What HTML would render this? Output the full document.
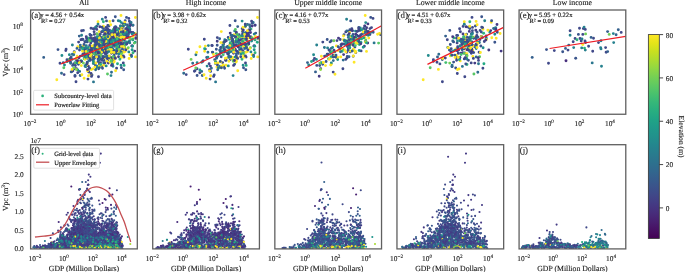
<!DOCTYPE html>
<html lang="en"><head><meta charset="utf-8"><title>Vpc vs GDP</title>
<style>html,body{margin:0;padding:0;background:#fff}svg{display:block}text{stroke:#222;stroke-width:.12px;stroke-linejoin:round}.s{stroke-width:.18px}.b{stroke-width:.08px}</style></head>
<body>
<svg width="685" height="272" viewBox="0 0 685 272" font-family='"Liberation Serif", "DejaVu Serif", serif' fill="#1a1a1a" text-rendering="geometricPrecision">
<rect width="685" height="272" fill="#fff"/>
<defs><filter id="bl" x="-5%" y="-5%" width="110%" height="110%"><feGaussianBlur stdDeviation="0.3"/></filter><filter id="bt" x="-5%" y="-5%" width="110%" height="110%"><feGaussianBlur stdDeviation="0.2"/></filter></defs>
<clipPath id="ct0"><rect x="30.60" y="10.00" width="106.70" height="104.25"/></clipPath>
<g clip-path="url(#ct0)">
<g fill="none" stroke-linecap="round" stroke-width="2.90" filter="url(#bt)"><path d="M124.1 47.8h0M80.1 47.5h0M119.2 45.2h0M100.1 40.8h0" stroke="#2a768e"/><path d="M69.4 54.8h0M75.0 62.8h0M100.5 44.4h0M129.5 41.0h0M116.7 47.7h0M104.0 45.0h0M116.0 27.9h0" stroke="#228b8d"/><path d="M114.9 32.0h0M108.2 59.6h0M91.4 57.1h0M104.3 42.2h0M104.0 60.3h0M92.0 74.9h0M91.3 35.4h0M104.2 48.5h0M101.9 48.5h0M126.6 35.1h0M88.5 71.4h0M102.2 41.6h0M73.6 63.9h0M100.3 59.0h0M113.1 20.7h0M78.4 64.3h0M103.5 28.5h0M108.9 56.3h0M128.2 37.8h0M120.1 28.8h0M94.2 49.2h0M128.4 42.3h0M125.2 20.8h0M87.3 41.9h0M103.9 50.2h0" stroke="#3a548c"/><path d="M129.5 29.3h0M99.3 54.6h0M123.7 23.9h0M124.4 30.6h0M130.0 26.1h0M123.5 43.0h0M124.0 35.9h0M121.2 30.1h0M134.7 51.1h0M111.4 38.1h0M115.1 36.5h0M118.6 44.5h0M124.1 31.6h0M115.2 51.5h0" stroke="#443b84"/><path d="M120.2 32.5h0M114.9 41.9h0M114.3 53.8h0M103.2 46.6h0M43.7 57.4h0" stroke="#34608d"/><path d="M93.4 59.6h0M112.9 57.1h0M120.8 29.8h0M115.0 50.5h0M96.8 44.6h0" stroke="#1f958b"/><path d="M104.2 42.9h0M115.1 37.2h0M84.0 55.9h0M110.6 57.5h0M92.0 57.3h0M133.3 36.5h0M93.8 50.6h0M118.6 53.6h0M122.4 34.4h0M98.7 41.0h0M123.8 52.3h0M110.4 42.3h0M99.2 31.6h0M100.6 53.8h0M108.1 44.6h0M92.3 38.3h0M105.3 46.9h0M81.3 65.6h0M99.1 39.8h0M99.3 36.0h0M121.7 41.9h0M121.0 40.9h0M92.7 68.9h0M97.3 48.5h0M89.4 48.9h0M97.6 50.0h0M91.2 69.5h0M111.4 51.4h0M111.2 43.1h0M121.0 15.5h0M136.7 38.4h0M116.7 29.2h0M124.8 22.2h0" stroke="#fde725"/><path d="M123.2 24.3h0M98.8 57.7h0M117.9 48.7h0M89.9 56.2h0M89.7 45.4h0M96.3 52.7h0M102.8 37.7h0M84.7 49.9h0M91.9 53.2h0M107.8 25.5h0M98.0 58.9h0M113.0 40.7h0M112.7 52.2h0M80.9 39.8h0M119.7 38.2h0M117.3 40.3h0M95.4 65.1h0M123.6 44.2h0M89.8 50.3h0M94.8 28.6h0M103.4 60.3h0M96.7 26.4h0M102.8 46.1h0M105.0 33.7h0M109.8 37.3h0M98.1 48.8h0M90.2 45.6h0M109.7 44.7h0M96.8 48.5h0" stroke="#3f4889"/><path d="M113.6 43.4h0M85.1 55.3h0M111.9 36.7h0M128.9 29.1h0M103.7 41.2h0M117.3 33.2h0" stroke="#2fb47c"/><path d="M79.6 62.2h0M132.8 39.9h0M106.3 42.5h0M93.2 47.9h0M85.0 66.1h0M93.8 40.7h0M117.5 49.8h0M93.5 39.0h0" stroke="#26818e"/><path d="M95.6 69.7h0M85.8 52.3h0M106.7 57.2h0M86.9 48.4h0M95.4 56.2h0M127.3 28.5h0" stroke="#2f6c8e"/><path d="M97.1 37.2h0M79.4 62.6h0M94.8 54.5h0M132.7 39.2h0M119.8 36.8h0" stroke="#42be71"/><path d="M103.0 40.7h0M105.2 42.3h0" stroke="#70cf57"/><path d="M115.1 44.6h0M120.6 41.4h0M126.4 36.1h0M93.2 59.5h0M122.5 45.9h0M117.2 38.7h0M107.8 49.7h0" stroke="#24aa83"/><path d="M105.1 43.3h0M84.9 48.7h0M105.6 42.0h0M119.7 44.4h0M120.5 31.7h0M106.4 40.3h0M114.5 27.5h0M83.1 50.1h0M105.6 29.7h0M126.8 30.0h0M124.3 47.8h0M93.5 57.5h0M81.8 61.5h0M87.1 40.8h0M85.4 50.6h0M101.9 49.6h0M130.0 23.4h0M115.3 27.3h0M104.4 47.1h0M72.6 65.4h0M103.8 35.1h0M108.9 34.5h0M120.3 38.0h0M87.2 58.2h0M109.7 46.7h0M112.5 64.2h0M117.6 34.2h0M94.0 46.7h0" stroke="#3a548c"/><path d="M102.5 52.0h0M109.3 39.0h0M111.4 53.3h0M84.6 57.5h0M107.6 38.9h0M127.3 27.6h0M135.8 38.4h0M104.7 31.1h0M70.6 62.3h0M69.3 60.5h0M111.6 52.5h0M72.2 71.3h0M91.3 46.7h0M97.1 45.0h0M91.5 38.5h0M123.3 63.0h0M101.8 46.7h0M67.0 61.3h0M97.1 42.6h0M119.4 28.4h0M124.0 57.1h0M98.6 68.8h0M132.1 45.8h0M93.9 45.7h0M92.7 41.0h0M85.9 55.1h0M110.1 39.7h0M131.7 46.1h0" stroke="#3f4889"/><path d="M105.4 34.3h0M120.3 35.9h0M104.2 36.8h0M61.9 55.5h0M87.1 63.0h0M121.4 22.6h0" stroke="#228b8d"/><path d="M112.4 60.5h0M112.0 57.8h0M108.1 33.1h0M116.0 30.3h0M116.5 43.8h0M86.3 36.8h0M94.5 53.3h0" stroke="#443b84"/><path d="M111.7 42.6h0M106.8 61.3h0M110.2 50.6h0M118.9 32.1h0M97.7 45.2h0M114.2 61.1h0M77.1 56.2h0M107.7 45.6h0M115.6 57.7h0M86.4 57.7h0M83.3 46.1h0M125.2 30.7h0M103.1 47.1h0M109.0 49.2h0M90.2 55.3h0M133.4 34.2h0M94.3 44.6h0M120.8 52.7h0M119.6 37.6h0M81.9 47.8h0M103.6 44.1h0M121.4 55.5h0M78.7 62.4h0M120.5 41.9h0M120.1 39.4h0M99.4 34.6h0" stroke="#fde725"/><path d="M99.0 43.0h0M79.6 71.4h0M106.7 38.6h0M89.3 68.3h0M109.8 57.0h0M80.3 45.1h0M127.9 26.8h0M81.5 47.4h0M125.4 24.5h0" stroke="#2f6c8e"/><path d="M118.3 20.8h0M103.4 51.6h0M81.6 35.2h0M102.3 19.2h0M112.5 40.7h0M130.1 39.0h0M98.4 40.0h0" stroke="#26818e"/><path d="M100.1 55.5h0M106.6 51.6h0M112.1 63.7h0M104.1 37.4h0M96.0 66.4h0M126.7 44.0h0M123.2 46.8h0M109.1 41.0h0" stroke="#2a768e"/><path d="M119.2 51.6h0M115.5 26.6h0M124.1 34.6h0M107.9 51.0h0M127.5 24.9h0M129.8 29.8h0M112.2 36.1h0M116.5 52.8h0M89.0 50.1h0M90.6 52.5h0M108.3 45.1h0" stroke="#34608d"/><path d="M114.4 38.9h0M99.8 46.0h0M115.2 34.8h0M94.3 53.6h0" stroke="#42be71"/><path d="M84.2 58.8h0M99.2 44.8h0M117.1 36.7h0M106.2 36.9h0" stroke="#58c765"/><path d="M122.2 42.7h0M125.5 43.7h0M135.2 42.2h0M107.4 47.1h0M124.1 65.4h0M67.3 61.5h0" stroke="#24aa83"/><path d="M87.0 50.9h0M88.3 47.5h0M132.6 46.2h0M100.3 58.4h0M77.8 70.0h0M72.1 59.4h0" stroke="#1f958b"/><path d="M119.6 37.7h0M126.7 41.9h0" stroke="#1fa088"/><path d="M68.9 59.4h0M102.9 48.3h0" stroke="#70cf57"/><path d="M97.4 67.9h0" stroke="#8bd646"/><path d="M101.1 51.1h0M110.5 46.0h0M105.2 47.5h0M119.0 47.2h0" stroke="#1f958b"/><path d="M101.6 31.9h0M123.8 32.8h0M107.3 30.3h0M103.7 40.8h0M114.1 36.1h0M94.3 38.1h0M125.9 33.3h0M100.8 49.8h0M126.5 43.4h0M88.3 66.1h0M122.5 50.0h0M114.3 33.5h0M102.6 52.2h0M108.4 63.1h0M84.6 51.8h0M75.0 76.3h0M122.4 27.8h0M83.2 49.1h0M124.4 40.0h0M108.2 46.6h0M109.5 30.3h0M103.0 31.4h0" stroke="#443b84"/><path d="M122.3 56.9h0M104.6 49.7h0M89.7 51.9h0M111.2 52.4h0M129.9 54.7h0M56.8 79.7h0M92.6 58.3h0M108.7 50.1h0M129.1 58.5h0M110.8 47.5h0M125.7 38.3h0M99.0 53.6h0M133.8 33.5h0M125.2 51.6h0M109.2 58.4h0M98.7 61.9h0M98.0 21.8h0M77.8 46.7h0M135.5 56.9h0M87.1 64.2h0M114.0 59.0h0M95.8 63.0h0M85.1 59.3h0M93.3 61.4h0M105.8 51.0h0" stroke="#fde725"/><path d="M102.7 31.0h0M114.2 38.9h0M121.6 43.2h0M118.7 49.0h0M70.6 63.3h0M108.9 35.3h0" stroke="#2f6c8e"/><path d="M99.0 47.2h0M112.1 60.4h0M90.7 42.9h0M74.8 68.8h0M95.8 44.6h0M112.5 35.2h0M113.7 30.4h0M88.9 72.1h0M105.1 38.2h0M128.8 18.4h0M117.1 47.6h0M123.4 56.0h0M116.3 27.6h0M108.4 38.5h0M101.2 43.6h0M107.3 38.3h0M84.8 41.8h0M120.7 50.8h0M113.5 50.4h0M113.0 49.2h0M108.1 43.9h0M110.4 35.4h0M102.9 50.1h0M112.7 31.5h0M117.6 52.2h0M114.2 32.2h0" stroke="#3f4889"/><path d="M105.6 47.7h0M118.7 36.1h0M121.0 65.2h0M64.5 65.0h0M107.6 36.2h0M122.4 39.2h0M96.6 47.4h0" stroke="#228b8d"/><path d="M75.9 59.6h0M98.4 50.3h0M71.2 57.0h0M79.3 36.1h0M111.6 37.2h0M97.5 38.8h0M102.4 41.2h0M80.2 75.5h0M102.6 37.4h0M97.5 50.3h0" stroke="#34608d"/><path d="M98.8 43.9h0M102.1 48.8h0M98.1 61.4h0M109.0 26.0h0M101.0 40.1h0M110.2 47.1h0M117.0 34.7h0M97.2 54.4h0M96.6 48.0h0M99.4 64.0h0M113.7 36.8h0M116.5 53.2h0M101.6 66.3h0M106.8 37.6h0M83.4 30.4h0M104.1 42.2h0M75.0 75.5h0M107.4 45.8h0M121.4 67.8h0M115.3 16.8h0M106.0 53.9h0" stroke="#3a548c"/><path d="M134.3 43.1h0M63.8 67.7h0M119.1 45.4h0M123.8 25.3h0" stroke="#58c765"/><path d="M86.3 52.6h0M126.3 37.1h0M106.1 33.2h0M113.1 42.5h0M106.4 52.8h0M106.6 53.3h0M93.5 81.9h0M113.9 42.2h0M114.9 40.8h0" stroke="#2a768e"/><path d="M101.1 54.8h0M107.1 41.2h0" stroke="#42be71"/><path d="M96.8 50.1h0M105.3 36.3h0M95.6 27.3h0M109.9 42.6h0M86.3 45.6h0M107.9 38.5h0M112.5 48.9h0M85.3 47.6h0" stroke="#26818e"/><path d="M75.6 63.1h0M111.8 39.1h0M83.4 63.1h0M121.5 39.9h0" stroke="#70cf57"/><path d="M133.0 52.7h0M103.5 50.3h0M124.0 35.4h0M96.0 48.1h0M120.8 52.9h0M104.0 40.3h0" stroke="#2fb47c"/><path d="M101.3 46.3h0" stroke="#24aa83"/><path d="M82.3 55.7h0M81.1 60.6h0M125.0 32.3h0M85.8 57.3h0M93.6 46.2h0" stroke="#228b8d"/><path d="M73.7 67.9h0M100.7 55.8h0M111.3 60.2h0M124.4 47.2h0" stroke="#70cf57"/><path d="M85.9 66.6h0M77.0 48.4h0M88.5 55.3h0M71.2 71.9h0M107.7 45.8h0M63.3 62.6h0M105.5 45.1h0M91.8 55.3h0M95.8 49.7h0M109.7 38.7h0M105.2 52.5h0M119.1 31.6h0" stroke="#34608d"/><path d="M90.8 74.2h0M82.5 51.2h0M116.8 37.3h0M114.0 52.5h0M122.2 51.4h0M106.4 56.4h0M110.0 50.2h0M102.9 44.1h0M103.4 26.3h0M111.6 52.1h0M98.2 53.1h0M121.4 57.2h0M114.0 62.1h0M105.4 57.6h0M103.3 58.3h0M81.9 74.7h0M118.3 51.9h0M91.3 54.5h0M93.8 60.9h0M104.4 47.8h0M100.3 49.9h0M107.8 46.3h0M111.6 49.3h0M87.5 70.9h0M88.7 57.4h0M106.3 50.1h0M93.4 57.4h0M112.9 43.4h0M127.5 48.6h0M135.3 33.4h0M93.3 63.1h0M129.8 38.3h0M100.2 50.0h0" stroke="#fde725"/><path d="M119.9 59.3h0M110.8 49.5h0M123.3 39.6h0M93.3 59.8h0M108.1 42.6h0M86.9 56.6h0M103.4 21.7h0" stroke="#2fb47c"/><path d="M123.3 38.9h0M61.5 73.2h0M99.0 60.1h0M96.4 41.2h0M72.4 54.2h0M111.5 72.2h0M108.5 56.8h0M129.3 29.8h0M122.7 48.5h0M121.2 52.0h0" stroke="#2f6c8e"/><path d="M95.6 39.2h0M88.9 57.0h0M74.2 51.7h0M112.3 35.7h0M102.0 27.3h0M118.8 33.4h0M122.6 44.3h0M114.1 55.7h0M105.6 46.4h0M109.9 42.7h0M102.2 41.7h0M58.0 49.6h0M114.5 46.0h0M118.9 39.6h0M121.7 30.3h0M92.6 59.8h0M95.5 48.9h0M83.0 39.5h0M98.5 47.8h0" stroke="#3a548c"/><path d="M116.3 40.8h0M113.3 29.5h0M100.5 47.6h0" stroke="#58c765"/><path d="M130.9 32.3h0M121.8 34.6h0M114.6 29.1h0M116.6 68.2h0M102.1 50.0h0M125.8 49.9h0M106.1 43.3h0M100.6 41.5h0M91.5 76.4h0M120.1 40.5h0M60.0 63.2h0M114.7 57.8h0M109.8 38.7h0M94.1 31.7h0M70.3 58.4h0M91.0 73.5h0M80.4 56.1h0M98.5 42.3h0M125.7 28.6h0M120.4 42.1h0M90.0 57.8h0M94.3 34.4h0M104.9 53.2h0M97.9 42.2h0M91.0 28.3h0M92.8 40.6h0M81.6 30.8h0M90.3 38.2h0M114.2 30.8h0M76.0 81.7h0M101.5 59.4h0M84.0 54.3h0M116.9 50.9h0M82.9 54.3h0" stroke="#3f4889"/><path d="M123.8 32.0h0M130.7 24.5h0M133.0 25.2h0M136.0 37.7h0M124.4 38.7h0M99.8 26.8h0M125.3 35.4h0M128.4 36.6h0M80.6 61.5h0M93.9 39.9h0M105.1 51.3h0" stroke="#443b84"/><path d="M115.4 38.9h0M112.1 47.6h0M123.2 34.5h0M85.5 66.5h0M109.8 48.6h0M72.4 45.0h0" stroke="#26818e"/><path d="M119.9 38.3h0M94.8 41.6h0M108.8 51.6h0M110.7 40.7h0M124.5 47.7h0M96.3 67.7h0" stroke="#2a768e"/><path d="M106.7 39.3h0M117.5 63.7h0" stroke="#24aa83"/><path d="M123.4 32.2h0M90.5 51.9h0" stroke="#1f958b"/><path d="M87.5 51.8h0" stroke="#42be71"/><path d="M87.7 37.9h0M98.0 51.2h0M88.6 39.7h0" stroke="#2fb47c"/><path d="M96.7 34.0h0M117.8 43.3h0M102.4 44.8h0M76.4 68.6h0M116.0 47.0h0M109.9 37.3h0M121.0 44.4h0M116.5 35.0h0M111.4 34.2h0M95.0 41.2h0M119.4 40.0h0M120.5 25.9h0M97.7 43.9h0M90.8 50.8h0M94.6 57.1h0" stroke="#443b84"/><path d="M72.8 70.8h0M120.2 46.3h0M93.2 39.0h0M90.4 35.4h0M91.4 48.1h0M109.0 45.2h0M93.2 28.7h0M123.7 36.6h0M115.7 36.2h0M118.0 41.5h0M114.1 40.8h0M118.5 56.7h0M106.1 37.4h0M66.1 49.3h0M125.7 34.5h0M132.8 32.4h0M105.6 17.4h0M88.0 79.1h0M88.8 55.1h0M116.4 42.0h0M78.9 58.0h0M65.8 50.6h0M121.9 47.1h0M110.5 39.2h0M92.3 50.1h0M102.2 42.0h0M105.7 53.9h0M96.0 39.5h0M95.2 37.6h0M90.2 60.2h0M78.6 42.1h0M108.6 46.7h0M106.1 27.4h0M104.2 51.2h0M105.1 39.8h0M107.6 28.7h0" stroke="#3f4889"/><path d="M96.2 51.7h0M115.8 38.9h0M89.0 60.6h0M110.3 35.5h0M100.8 44.9h0" stroke="#2f6c8e"/><path d="M100.7 37.4h0M108.4 30.8h0M103.0 56.4h0M84.0 44.5h0M96.6 47.2h0M108.1 36.3h0M119.1 48.6h0M123.7 69.8h0M109.7 35.8h0M117.3 43.9h0M85.9 41.9h0M95.0 45.2h0M97.1 39.3h0M115.4 46.1h0M106.5 20.9h0M110.7 32.2h0M95.5 42.9h0M109.5 37.8h0M102.1 60.3h0M110.8 48.7h0M105.5 44.8h0M107.3 52.6h0M99.0 56.8h0" stroke="#3a548c"/><path d="M97.6 36.7h0M132.1 49.8h0M76.8 62.8h0M116.7 42.4h0M93.4 61.8h0M106.0 47.5h0" stroke="#1f958b"/><path d="M123.5 46.4h0M116.2 46.5h0M97.2 47.5h0M119.5 36.8h0M120.4 31.0h0M106.5 45.9h0M114.7 34.6h0M109.9 62.3h0M135.4 17.5h0M122.9 27.1h0M74.4 52.4h0M124.2 47.3h0M90.3 56.0h0M105.2 50.7h0M98.7 42.6h0M110.4 49.1h0M124.1 37.2h0M121.5 30.2h0M72.0 69.4h0M99.5 38.2h0M86.4 65.0h0M110.7 24.7h0M88.5 75.8h0M85.9 51.4h0M84.1 78.3h0M125.4 37.8h0M103.8 65.2h0M120.8 27.2h0" stroke="#fde725"/><path d="M116.9 42.8h0M109.8 44.0h0M115.6 41.5h0M101.5 44.3h0M120.9 42.2h0M122.3 32.9h0M112.6 30.9h0M102.7 39.6h0M83.3 47.9h0M131.6 56.5h0M116.3 45.8h0M129.2 27.6h0" stroke="#26818e"/><path d="M116.0 37.6h0M86.4 41.0h0M109.1 57.7h0M103.2 39.5h0M118.3 40.1h0M133.6 33.1h0" stroke="#34608d"/><path d="M85.7 65.1h0M132.9 25.1h0M103.7 62.9h0M94.5 58.3h0" stroke="#2a768e"/><path d="M100.4 40.2h0M91.2 40.9h0M106.2 65.9h0M121.5 41.1h0M97.7 66.3h0M107.6 52.1h0M128.5 34.3h0" stroke="#228b8d"/><path d="M121.6 53.8h0M128.3 47.8h0M89.7 40.7h0" stroke="#70cf57"/><path d="M98.8 44.0h0M111.0 44.3h0" stroke="#24aa83"/><path d="M109.9 42.7h0" stroke="#42be71"/><path d="M97.6 53.5h0M113.2 56.8h0" stroke="#58c765"/><path d="M76.3 69.5h0M130.1 37.8h0" stroke="#8bd646"/><path d="M90.3 52.1h0M114.6 41.9h0M99.6 43.9h0M109.9 41.0h0M131.4 55.2h0M110.8 40.8h0M119.7 36.0h0M93.4 57.5h0M89.4 68.0h0M110.7 47.1h0M96.8 43.2h0M111.1 39.8h0M122.4 43.1h0M126.5 17.4h0M106.1 30.7h0M100.3 34.3h0M102.5 68.2h0M108.6 44.6h0M129.0 32.3h0M101.6 42.4h0M99.1 67.6h0M136.3 34.6h0M99.8 34.7h0M89.9 34.4h0M99.0 44.9h0M75.4 65.5h0M87.3 62.1h0" stroke="#3a548c"/><path d="M109.8 21.4h0M101.1 65.0h0M121.1 42.0h0M115.2 36.6h0M94.8 67.1h0M105.8 41.5h0M109.2 56.0h0M111.1 49.6h0M96.5 56.9h0M121.5 46.4h0M124.4 31.7h0M79.3 62.5h0M76.2 58.4h0M112.0 34.7h0M108.2 38.1h0M105.4 32.5h0M101.7 51.9h0M110.8 44.2h0M120.3 31.6h0M115.6 70.8h0M106.8 36.7h0M92.2 45.9h0M101.1 42.7h0M99.3 66.3h0M124.6 38.1h0M120.8 37.5h0M109.3 36.8h0M122.2 36.9h0" stroke="#fde725"/><path d="M103.7 37.1h0M119.1 49.5h0M113.1 41.6h0" stroke="#8bd646"/><path d="M107.9 47.0h0M107.5 74.0h0M111.2 61.3h0M125.1 45.0h0" stroke="#58c765"/><path d="M106.8 56.1h0M102.8 50.1h0M107.8 36.7h0M99.3 67.8h0M123.4 26.3h0" stroke="#2f6c8e"/><path d="M105.4 49.0h0M114.7 28.1h0M105.9 51.9h0M104.9 62.9h0M102.2 41.8h0M98.5 76.7h0M129.4 21.2h0M100.1 46.3h0M103.2 43.0h0M115.4 58.4h0M86.6 38.5h0M104.2 40.8h0M106.2 52.0h0M96.8 29.4h0M112.1 45.5h0M111.5 42.8h0M64.1 74.6h0M120.3 34.2h0M77.7 72.7h0M110.0 42.6h0M98.3 51.7h0M113.7 39.5h0M110.0 44.8h0M79.5 50.1h0M126.4 44.0h0M107.1 58.4h0M82.2 39.2h0M104.3 45.3h0M87.0 63.7h0M67.0 59.6h0M102.8 58.1h0M121.5 43.9h0M100.5 62.6h0M114.0 44.9h0M96.5 41.0h0" stroke="#3f4889"/><path d="M107.4 45.9h0M125.2 42.6h0M114.9 39.2h0M106.5 47.7h0M111.0 75.6h0M124.8 33.6h0M98.0 24.3h0M114.1 40.3h0M101.3 46.8h0M113.0 66.2h0" stroke="#26818e"/><path d="M99.4 52.7h0M131.1 22.5h0M129.8 42.9h0M73.7 54.8h0" stroke="#2a768e"/><path d="M112.9 40.3h0M117.5 29.7h0" stroke="#1fa088"/><path d="M123.2 31.8h0M87.5 69.6h0M127.7 29.9h0M105.0 33.6h0M113.4 37.4h0M126.8 37.4h0M128.4 32.5h0M98.3 52.9h0M120.9 42.8h0M111.5 65.4h0" stroke="#443b84"/><path d="M101.7 42.4h0M116.5 44.2h0M111.2 42.0h0" stroke="#1f958b"/><path d="M100.6 64.5h0M117.2 47.2h0M109.6 46.0h0" stroke="#2fb47c"/><path d="M120.5 26.2h0M126.8 32.3h0M118.8 54.0h0M119.9 21.1h0M111.2 31.1h0M93.3 63.6h0M128.8 51.9h0M124.1 34.3h0M132.1 34.1h0M105.0 38.0h0" stroke="#228b8d"/><path d="M82.5 48.7h0" stroke="#24aa83"/><path d="M111.1 45.6h0M117.1 38.7h0M98.1 49.2h0" stroke="#42be71"/><path d="M104.7 56.8h0M127.7 34.7h0M121.2 32.0h0M95.7 49.3h0" stroke="#34608d"/><path d="M77.5 60.7h0" stroke="#472e7c"/><path d="M97.1 33.9h0M120.7 34.4h0" stroke="#70cf57"/></g>
<path d="M61.09 63.86L137.30 34.03" stroke="#ee1c25" stroke-width="1.2" fill="none"/>
</g>
<rect x="30.60" y="10.00" width="106.70" height="104.25" fill="none" stroke="#606060" stroke-width="1.3"/>
<text x="83.95" y="5.15" font-size="7.8" text-anchor="middle">All</text>
<text x="40.30" y="16.6" font-size="6.6" class="s">y = 4.56 + 0.54x</text>
<text x="41.10" y="23.4" font-size="6.45" class="s">R² = 0.27</text>
<text x="30.00" y="126.00" font-size="7.40" text-anchor="middle">10<tspan dy="-2.7" font-size="5.18">−2</tspan></text>
<text x="60.49" y="126.00" font-size="7.40" text-anchor="middle">10<tspan dy="-2.7" font-size="5.18">0</tspan></text>
<text x="90.97" y="126.00" font-size="7.40" text-anchor="middle">10<tspan dy="-2.7" font-size="5.18">2</tspan></text>
<text x="121.46" y="126.00" font-size="7.40" text-anchor="middle">10<tspan dy="-2.7" font-size="5.18">4</tspan></text>
<clipPath id="ct1"><rect x="152.72" y="10.00" width="106.70" height="104.25"/></clipPath>
<g clip-path="url(#ct1)">
<g fill="none" stroke-linecap="round" stroke-width="2.90" filter="url(#bt)"><path d="M240.7 56.7h0M253.8 46.1h0M257.9 38.4h0M233.5 53.3h0M232.6 39.2h0M224.6 52.0h0M254.2 45.8h0M211.8 45.4h0M222.6 62.6h0M245.8 36.6h0M229.7 38.9h0M228.2 37.4h0M238.5 42.0h0M230.2 43.9h0" stroke="#3f4889"/><path d="M233.1 75.6h0M223.6 44.3h0M234.7 30.9h0M232.0 42.6h0" stroke="#26818e"/><path d="M248.9 30.0h0M214.2 74.9h0M242.4 38.0h0M230.3 59.6h0M239.4 43.9h0" stroke="#3a548c"/><path d="M203.2 60.6h0M247.1 32.3h0M246.3 34.3h0M251.6 41.0h0" stroke="#228b8d"/><path d="M245.7 46.4h0M236.1 59.0h0M246.2 37.2h0M246.3 47.3h0M232.6 42.3h0M237.2 37.2h0M247.4 51.6h0M258.8 38.4h0M228.9 61.3h0M245.9 52.3h0M243.5 55.5h0M257.7 56.9h0" stroke="#fde725"/><path d="M250.4 47.8h0" stroke="#70cf57"/><path d="M237.3 51.5h0M239.9 43.3h0M236.4 33.5h0M205.3 49.1h0M245.9 32.8h0" stroke="#443b84"/><path d="M243.7 43.2h0M245.4 38.9h0M243.3 52.0h0M192.7 63.3h0" stroke="#2f6c8e"/><path d="M248.4 37.1h0M237.0 40.8h0M215.6 81.9h0" stroke="#2a768e"/><path d="M248.5 36.1h0M229.9 49.7h0M228.9 39.3h0M246.2 65.4h0" stroke="#24aa83"/><path d="M227.3 52.5h0M238.6 52.8h0M249.6 24.9h0M212.8 52.5h0M237.7 26.6h0" stroke="#34608d"/><path d="M230.0 47.0h0" stroke="#58c765"/><path d="M241.2 49.5h0" stroke="#8bd646"/><path d="M237.5 46.1h0M216.3 49.2h0M227.7 46.4h0M231.8 35.8h0M232.9 48.7h0M248.7 35.1h0M210.6 71.4h0M235.2 20.7h0M245.8 69.8h0M243.5 67.8h0M231.8 46.7h0M242.2 28.8h0M224.3 41.7h0" stroke="#3a548c"/><path d="M244.3 36.9h0M242.5 31.0h0M237.7 70.8h0M238.9 37.3h0M220.3 53.1h0M236.1 62.1h0M249.7 48.6h0M245.0 27.1h0M237.7 57.7h0" stroke="#fde725"/><path d="M221.5 52.7h0M195.9 54.8h0M216.6 58.3h0M241.3 45.2h0" stroke="#2a768e"/><path d="M213.6 76.4h0M210.1 79.1h0M242.2 40.5h0M221.2 47.2h0M230.7 46.7h0M235.6 50.4h0M206.7 57.5h0M241.9 38.2h0M247.9 49.9h0M243.7 43.9h0M246.1 57.1h0" stroke="#3f4889"/><path d="M241.2 45.4h0M222.6 47.6h0M238.4 40.8h0" stroke="#58c765"/><path d="M250.6 36.6h0M225.8 40.8h0" stroke="#443b84"/><path d="M242.0 59.3h0M251.0 29.1h0" stroke="#2fb47c"/><path d="M247.5 24.5h0M221.4 67.8h0M222.9 44.9h0M240.8 49.0h0M201.7 71.4h0M231.0 35.3h0" stroke="#2f6c8e"/><path d="M243.1 65.2h0M207.9 57.3h0" stroke="#228b8d"/><path d="M237.7 41.5h0M255.0 39.9h0M239.6 49.8h0" stroke="#26818e"/><path d="M231.2 57.7h0M219.6 38.8h0M240.4 40.1h0M202.3 75.5h0M229.8 45.8h0" stroke="#34608d"/><path d="M216.4 53.6h0" stroke="#42be71"/><path d="M257.3 42.2h0" stroke="#24aa83"/><path d="M254.7 46.2h0" stroke="#1f958b"/><path d="M209.6 69.6h0M243.0 42.8h0M246.5 40.0h0M217.2 41.2h0M249.8 29.9h0M248.1 33.3h0M250.5 32.5h0" stroke="#443b84"/><path d="M230.4 45.1h0" stroke="#34608d"/><path d="M228.2 47.5h0M232.6 46.0h0M254.2 49.8h0" stroke="#1f958b"/><path d="M245.9 25.3h0" stroke="#58c765"/><path d="M233.7 52.1h0M233.2 49.6h0M196.6 52.4h0M243.0 27.2h0M251.2 58.5h0M206.2 78.3h0M227.5 57.6h0M204.6 51.2h0M255.4 36.5h0M204.0 74.7h0M209.6 70.9h0M234.1 34.7h0M232.7 57.5h0M252.1 54.7h0M247.4 30.7h0M240.4 51.9h0M220.8 61.9h0M243.6 57.2h0" stroke="#fde725"/><path d="M248.9 41.9h0" stroke="#1fa088"/><path d="M241.0 39.6h0M223.7 66.3h0M221.2 56.8h0M242.6 31.7h0M236.7 41.9h0M241.2 48.6h0" stroke="#3a548c"/><path d="M250.0 26.8h0M245.5 26.3h0M238.0 38.9h0M211.4 68.3h0" stroke="#2f6c8e"/><path d="M204.3 39.2h0M186.2 74.6h0M220.4 51.7h0M237.6 58.4h0M212.3 45.6h0M242.5 42.1h0M240.0 48.7h0M244.0 47.1h0M235.2 49.2h0M199.8 72.7h0M236.8 57.8h0M242.8 50.8h0" stroke="#3f4889"/><path d="M238.4 45.8h0M224.8 39.6h0" stroke="#26818e"/><path d="M246.6 47.7h0M246.2 47.8h0M248.8 44.0h0M228.5 52.8h0" stroke="#2a768e"/><path d="M247.6 43.7h0M233.1 44.3h0" stroke="#24aa83"/><path d="M242.1 21.1h0M215.4 63.6h0" stroke="#228b8d"/><path d="M235.4 29.5h0M233.3 61.3h0" stroke="#58c765"/><path d="M226.1 60.3h0M253.6 55.2h0M224.0 49.6h0M217.2 45.2h0M239.1 34.7h0M241.8 44.4h0M235.8 36.8h0M250.3 37.8h0M219.3 54.4h0M214.7 59.8h0" stroke="#3a548c"/><path d="M248.9 37.4h0M202.7 61.5h0M243.1 44.4h0M235.5 37.4h0M210.4 66.1h0M240.7 44.5h0" stroke="#443b84"/><path d="M221.3 31.6h0M231.3 58.4h0M218.0 63.0h0M247.9 38.3h0M220.9 42.6h0M223.2 65.0h0M236.8 34.6h0M244.4 56.9h0M223.2 42.7h0M215.4 61.4h0M216.9 67.1h0M229.9 46.3h0M205.4 46.1h0" stroke="#fde725"/><path d="M229.5 45.9h0M208.4 45.6h0M243.0 42.2h0" stroke="#26818e"/><path d="M244.6 45.9h0M229.5 47.1h0" stroke="#24aa83"/><path d="M225.5 60.3h0M234.2 45.5h0M233.6 42.8h0M217.5 65.1h0M188.3 49.3h0M245.3 24.3h0" stroke="#3f4889"/><path d="M253.2 22.5h0M255.0 25.1h0" stroke="#2a768e"/><path d="M250.9 51.9h0M244.5 39.2h0M254.2 34.1h0" stroke="#228b8d"/><path d="M217.7 69.7h0M232.4 35.5h0M224.9 50.1h0M228.9 56.1h0" stroke="#2f6c8e"/><path d="M219.6 67.9h0M235.2 41.6h0M252.2 37.8h0" stroke="#8bd646"/><path d="M191.1 59.4h0M246.5 47.2h0M233.4 60.2h0M243.7 53.8h0" stroke="#70cf57"/><path d="M254.8 39.2h0M241.9 36.8h0M223.2 54.8h0" stroke="#42be71"/><path d="M215.5 61.8h0" stroke="#1f958b"/><path d="M245.5 39.6h0" stroke="#2fb47c"/><path d="M225.4 58.3h0M238.3 46.5h0M230.3 38.1h0M241.6 36.8h0M236.4 61.1h0M227.4 50.7h0M229.8 45.6h0M232.2 50.2h0M226.0 65.2h0M233.8 49.3h0M230.8 50.1h0" stroke="#fde725"/><path d="M217.3 37.6h0M236.3 32.2h0M242.5 34.2h0M248.5 44.0h0M229.9 25.5h0M226.3 40.8h0M251.6 21.2h0M209.1 63.7h0M245.5 63.0h0M224.3 42.0h0" stroke="#3f4889"/><path d="M240.9 36.1h0M219.9 66.3h0M228.3 65.9h0" stroke="#228b8d"/><path d="M247.2 45.0h0M239.3 36.7h0" stroke="#58c765"/><path d="M234.5 60.5h0M246.1 35.9h0M246.5 38.7h0M233.6 65.4h0M258.1 37.7h0" stroke="#443b84"/><path d="M238.6 44.2h0M223.2 51.1h0M235.1 57.1h0M199.9 70.0h0" stroke="#1f958b"/><path d="M252.2 39.0h0M223.5 46.8h0M244.4 32.9h0M236.3 40.3h0M207.1 66.1h0M253.7 56.5h0" stroke="#26818e"/><path d="M224.6 68.2h0M220.3 61.4h0M252.1 23.4h0M224.2 48.8h0M244.5 43.1h0M232.0 41.0h0M212.4 52.1h0M197.1 75.5h0M223.8 42.4h0M226.6 47.1h0M238.6 53.2h0M231.6 37.8h0M220.6 47.8h0M236.3 55.7h0" stroke="#3a548c"/><path d="M183.7 73.2h0M230.7 56.8h0M228.8 57.2h0" stroke="#2f6c8e"/><path d="M231.0 51.6h0M236.0 42.2h0" stroke="#2a768e"/><path d="M236.4 53.8h0" stroke="#34608d"/><path d="M239.3 47.2h0" stroke="#2fb47c"/><path d="M237.3 34.8h0" stroke="#42be71"/><path d="M245.3 46.8h0M228.7 51.6h0M232.8 40.7h0M228.7 53.3h0M218.4 67.7h0" stroke="#2a768e"/><path d="M242.6 41.9h0M215.4 63.1h0M243.6 46.4h0M199.9 46.7h0M242.9 52.7h0M243.1 40.9h0M213.5 54.5h0M210.6 75.8h0M232.5 49.1h0M221.4 66.3h0M257.5 17.5h0M244.5 34.4h0M240.7 53.6h0" stroke="#fde725"/><path d="M247.4 35.4h0M238.2 47.0h0M248.6 43.4h0M230.2 33.1h0M255.1 25.2h0M216.7 57.1h0M243.3 30.1h0M252.2 26.1h0" stroke="#443b84"/><path d="M229.7 52.1h0M242.4 35.9h0M241.0 54.0h0M197.1 62.8h0" stroke="#228b8d"/><path d="M233.0 49.5h0M230.2 42.6h0M255.1 52.7h0M242.9 52.9h0" stroke="#2fb47c"/><path d="M234.6 64.2h0M246.4 47.8h0M228.2 53.9h0M244.7 44.3h0M221.2 67.6h0M232.9 40.8h0" stroke="#3a548c"/><path d="M245.5 56.0h0M225.1 50.1h0M194.4 71.3h0M227.8 53.9h0M239.4 40.3h0M195.0 70.8h0M197.0 68.8h0M245.8 44.2h0M236.1 44.9h0" stroke="#3f4889"/><path d="M244.8 48.5h0M207.9 52.3h0M217.5 56.2h0" stroke="#2f6c8e"/><path d="M201.7 62.2h0M239.0 42.8h0M228.6 47.7h0" stroke="#26818e"/><path d="M195.8 67.9h0" stroke="#70cf57"/><path d="M236.5 38.9h0" stroke="#42be71"/><path d="M219.7 50.3h0M255.7 33.1h0M220.5 50.3h0M234.3 36.1h0" stroke="#34608d"/><path d="M204.6 48.7h0M242.7 41.4h0" stroke="#24aa83"/></g>
<path d="M183.21 70.27L259.42 36.02" stroke="#ee1c25" stroke-width="1.2" fill="none"/>
</g>
<rect x="152.72" y="10.00" width="106.70" height="104.25" fill="none" stroke="#606060" stroke-width="1.3"/>
<text x="206.07" y="5.15" font-size="7.8" text-anchor="middle">High income</text>
<text x="162.42" y="16.6" font-size="6.6" class="s">y = 3.98 + 0.62x</text>
<text x="163.22" y="23.4" font-size="6.45" class="s">R² = 0.32</text>
<text x="152.12" y="126.00" font-size="7.40" text-anchor="middle">10<tspan dy="-2.7" font-size="5.18">−2</tspan></text>
<text x="182.61" y="126.00" font-size="7.40" text-anchor="middle">10<tspan dy="-2.7" font-size="5.18">0</tspan></text>
<text x="213.09" y="126.00" font-size="7.40" text-anchor="middle">10<tspan dy="-2.7" font-size="5.18">2</tspan></text>
<text x="243.58" y="126.00" font-size="7.40" text-anchor="middle">10<tspan dy="-2.7" font-size="5.18">4</tspan></text>
<clipPath id="ct2"><rect x="274.84" y="10.00" width="106.70" height="104.25"/></clipPath>
<g clip-path="url(#ct2)">
<g fill="none" stroke-linecap="round" stroke-width="2.90" filter="url(#bt)"><path d="M316.4 59.4h0M365.0 29.8h0" stroke="#1f958b"/><path d="M350.2 51.9h0M364.4 46.3h0M355.8 52.5h0M340.2 39.5h0M363.6 28.4h0M369.9 28.6h0M354.0 38.7h0M334.2 56.2h0M337.0 40.6h0M345.7 59.4h0M361.1 50.9h0M329.0 49.9h0M327.2 54.3h0" stroke="#3f4889"/><path d="M352.0 36.7h0" stroke="#2f6c8e"/><path d="M347.4 46.6h0M349.8 45.1h0M315.5 71.9h0" stroke="#34608d"/><path d="M360.7 35.0h0M367.9 23.9h0M320.7 68.6h0M346.7 44.8h0M360.2 30.3h0" stroke="#443b84"/><path d="M365.7 22.6h0M326.5 55.7h0" stroke="#228b8d"/><path d="M347.2 56.4h0M348.3 42.2h0M354.2 42.7h0M353.1 34.5h0M380.5 34.6h0M344.0 34.7h0M348.4 48.5h0M352.4 36.3h0" stroke="#3a548c"/><path d="M334.0 51.9h0M344.4 50.0h0M377.6 34.2h0M350.1 41.5h0M365.3 42.0h0M368.6 31.7h0" stroke="#fde725"/><path d="M347.9 41.2h0" stroke="#2fb47c"/><path d="M367.5 34.5h0" stroke="#26818e"/><path d="M368.4 31.6h0M338.5 38.1h0" stroke="#443b84"/><path d="M363.1 33.4h0M353.2 56.3h0M354.9 47.1h0M358.8 27.5h0" stroke="#3a548c"/><path d="M365.8 39.9h0" stroke="#70cf57"/><path d="M313.5 60.5h0M333.2 72.1h0M356.8 35.2h0M349.0 31.1h0M347.0 58.1h0M350.4 43.3h0M358.5 30.8h0M369.9 34.5h0" stroke="#3f4889"/><path d="M357.9 43.4h0" stroke="#2fb47c"/><path d="M349.6 32.5h0M337.7 57.4h0M331.4 64.2h0M352.3 44.6h0M341.8 50.0h0M379.5 33.4h0M353.3 49.2h0M353.4 56.0h0M330.2 51.4h0M336.4 45.9h0" stroke="#fde725"/><path d="M330.6 52.6h0M348.3 37.4h0" stroke="#2a768e"/><path d="M359.4 44.6h0" stroke="#24aa83"/><path d="M320.6 69.5h0" stroke="#8bd646"/><path d="M358.4 38.9h0M343.2 60.1h0" stroke="#2f6c8e"/><path d="M359.1 39.2h0M350.5 42.5h0" stroke="#26818e"/><path d="M364.4 32.5h0M349.0 56.8h0M307.5 62.6h0" stroke="#34608d"/><path d="M341.1 44.6h0" stroke="#1f958b"/><path d="M365.7 41.1h0" stroke="#228b8d"/><path d="M328.5 58.8h0" stroke="#58c765"/><path d="M342.3 49.2h0" stroke="#42be71"/><path d="M326.1 61.5h0M373.2 32.3h0M356.5 35.7h0M322.7 64.3h0M348.0 35.1h0M365.9 30.3h0M331.4 40.8h0" stroke="#3a548c"/><path d="M353.6 39.0h0M351.8 28.7h0M333.0 55.1h0M359.9 36.2h0M328.3 54.3h0M342.9 68.8h0" stroke="#3f4889"/><path d="M313.6 54.8h0M344.8 44.4h0M331.3 63.0h0M355.5 31.1h0" stroke="#228b8d"/><path d="M359.6 38.9h0M349.5 36.3h0" stroke="#26818e"/><path d="M349.5 46.9h0M322.9 62.4h0M336.9 58.3h0M354.4 50.6h0M357.1 43.4h0M365.1 37.5h0M338.0 50.6h0M350.1 51.0h0" stroke="#fde725"/><path d="M347.3 40.7h0" stroke="#70cf57"/><path d="M342.2 51.2h0M356.1 36.7h0" stroke="#2fb47c"/><path d="M334.8 51.9h0M363.2 47.2h0M349.4 47.5h0M332.6 47.5h0" stroke="#1f958b"/><path d="M378.6 43.1h0" stroke="#58c765"/><path d="M346.7 41.2h0" stroke="#34608d"/><path d="M353.3 41.0h0M324.4 47.5h0" stroke="#2a768e"/><path d="M367.4 31.8h0M349.2 33.6h0M367.7 43.0h0" stroke="#443b84"/><path d="M368.0 32.0h0M355.7 34.2h0M345.8 31.9h0M346.8 52.2h0" stroke="#443b84"/><path d="M359.2 41.9h0" stroke="#34608d"/><path d="M338.2 46.7h0M339.8 48.9h0M319.7 65.5h0M349.9 29.7h0M355.3 39.8h0M330.1 41.9h0M343.8 43.9h0M327.2 39.5h0" stroke="#3a548c"/><path d="M331.2 48.4h0" stroke="#2f6c8e"/><path d="M325.5 65.6h0M366.0 41.9h0M330.7 57.7h0M330.7 65.0h0M345.9 51.9h0M335.0 74.2h0M368.8 38.1h0M321.4 56.2h0M334.5 56.0h0M366.5 51.4h0" stroke="#fde725"/><path d="M368.2 35.4h0M331.1 56.6h0" stroke="#2fb47c"/><path d="M316.7 45.0h0M327.6 47.9h0" stroke="#26818e"/><path d="M311.5 61.5h0" stroke="#24aa83"/><path d="M321.1 62.8h0M361.0 42.4h0M337.7 59.6h0" stroke="#1f958b"/><path d="M341.3 45.0h0M352.6 38.5h0M348.6 45.3h0M358.9 29.1h0M373.0 18.4h0" stroke="#3f4889"/><path d="M361.4 38.7h0M354.2 42.7h0" stroke="#42be71"/><path d="M333.9 40.7h0M319.9 63.1h0" stroke="#70cf57"/><path d="M333.1 57.0h0M352.8 44.6h0M350.7 20.9h0M350.7 40.3h0M352.6 30.8h0M340.8 47.2h0M370.7 17.4h0M335.6 57.1h0M361.8 34.2h0M346.5 41.6h0M329.7 50.6h0M348.1 50.2h0" stroke="#3a548c"/><path d="M359.2 50.5h0" stroke="#1f958b"/><path d="M314.5 58.4h0M349.3 39.8h0M353.2 45.2h0M358.4 40.8h0M366.1 34.6h0M347.4 43.0h0M357.3 40.7h0" stroke="#3f4889"/><path d="M355.6 38.1h0M354.2 37.3h0M343.6 54.6h0M358.3 36.1h0M360.7 43.8h0M366.6 27.8h0" stroke="#443b84"/><path d="M343.5 36.0h0M329.4 59.3h0M363.8 37.6h0" stroke="#fde725"/><path d="M351.0 38.6h0M346.9 31.0h0" stroke="#2f6c8e"/><path d="M352.2 51.0h0M368.4 34.6h0" stroke="#34608d"/><path d="M346.6 19.2h0M352.2 38.5h0" stroke="#26818e"/><path d="M363.8 37.7h0M357.1 40.3h0" stroke="#1fa088"/><path d="M366.4 42.7h0" stroke="#24aa83"/><path d="M308.7 65.0h0M364.8 26.2h0" stroke="#228b8d"/><path d="M374.1 42.9h0" stroke="#2a768e"/><path d="M340.7 56.9h0M365.2 15.5h0M323.5 62.5h0M355.7 51.4h0M364.5 31.6h0M355.4 52.4h0M356.0 42.6h0M351.1 36.7h0M341.6 48.5h0M354.1 62.3h0M343.4 39.8h0M363.2 32.1h0" stroke="#fde725"/><path d="M355.3 45.6h0M331.8 51.8h0M351.4 41.2h0" stroke="#42be71"/><path d="M371.0 32.3h0M351.9 36.2h0M349.8 47.7h0M360.3 27.9h0M344.6 40.2h0" stroke="#228b8d"/><path d="M336.0 55.3h0M365.4 32.0h0" stroke="#34608d"/><path d="M319.2 76.3h0M341.9 43.9h0M364.8 25.9h0M351.6 30.3h0" stroke="#443b84"/><path d="M316.8 65.4h0" stroke="#3a548c"/><path d="M334.0 50.3h0M322.8 42.1h0M371.5 27.6h0M357.0 31.5h0M358.9 28.1h0M324.6 56.1h0M354.3 39.7h0" stroke="#3f4889"/><path d="M333.3 60.6h0M340.5 51.7h0" stroke="#2f6c8e"/><path d="M345.9 42.4h0" stroke="#1f958b"/><path d="M344.4 40.8h0" stroke="#2a768e"/><path d="M356.1 39.1h0" stroke="#70cf57"/><path d="M361.5 38.7h0" stroke="#24aa83"/><path d="M361.7 29.7h0" stroke="#1fa088"/></g>
<path d="M305.33 68.28L381.54 25.74" stroke="#ee1c25" stroke-width="1.2" fill="none"/>
</g>
<rect x="274.84" y="10.00" width="106.70" height="104.25" fill="none" stroke="#606060" stroke-width="1.3"/>
<text x="328.19" y="5.15" font-size="7.8" text-anchor="middle">Upper middle income</text>
<text x="284.54" y="16.6" font-size="6.6" class="s">y = 4.16 + 0.77x</text>
<text x="285.34" y="23.4" font-size="6.45" class="s">R² = 0.53</text>
<text x="274.24" y="126.00" font-size="7.40" text-anchor="middle">10<tspan dy="-2.7" font-size="5.18">−2</tspan></text>
<text x="304.73" y="126.00" font-size="7.40" text-anchor="middle">10<tspan dy="-2.7" font-size="5.18">0</tspan></text>
<text x="335.21" y="126.00" font-size="7.40" text-anchor="middle">10<tspan dy="-2.7" font-size="5.18">2</tspan></text>
<text x="365.70" y="126.00" font-size="7.40" text-anchor="middle">10<tspan dy="-2.7" font-size="5.18">4</tspan></text>
<clipPath id="ct3"><rect x="396.96" y="10.00" width="106.70" height="104.25"/></clipPath>
<g clip-path="url(#ct3)">
<g fill="none" stroke-linecap="round" stroke-width="2.90" filter="url(#bt)"><path d="M456.7 35.4h0M473.7 38.3h0M467.5 43.6h0M456.6 60.2h0M464.3 58.9h0M459.5 39.0h0M479.1 52.2h0M463.2 48.5h0M457.3 73.5h0M460.4 31.7h0M462.7 52.7h0M433.4 59.6h0M464.5 48.8h0" stroke="#3f4889"/><path d="M468.4 27.3h0M461.8 42.9h0M473.7 52.6h0M463.0 48.0h0M475.4 26.0h0M481.7 27.3h0M473.7 45.8h0" stroke="#3a548c"/><path d="M456.5 55.3h0M475.6 36.8h0M455.8 48.9h0M472.7 50.1h0M465.8 38.2h0M459.1 68.9h0M450.3 55.9h0M491.8 37.8h0M472.8 56.4h0M496.2 38.3h0" stroke="#fde725"/><path d="M475.8 30.3h0M464.7 52.9h0M463.0 34.0h0M481.4 36.5h0" stroke="#443b84"/><path d="M464.8 40.0h0M476.2 44.0h0M484.7 20.8h0" stroke="#26818e"/><path d="M486.3 38.3h0" stroke="#2a768e"/><path d="M477.5 42.0h0" stroke="#1f958b"/><path d="M454.9 55.3h0M455.4 50.1h0M478.0 37.2h0" stroke="#34608d"/><path d="M483.6 33.2h0" stroke="#2fb47c"/><path d="M472.5 33.2h0M452.1 65.1h0M478.5 63.7h0M479.4 42.5h0" stroke="#2a768e"/><path d="M464.1 45.2h0M465.0 41.0h0M465.4 53.6h0M486.4 39.4h0M483.0 29.2h0" stroke="#fde725"/><path d="M468.6 41.8h0M458.6 50.1h0M463.1 26.4h0M457.7 48.1h0M433.4 61.3h0M471.4 33.7h0M464.8 42.3h0M476.1 44.7h0M472.6 52.0h0M437.0 62.3h0" stroke="#3f4889"/><path d="M494.8 42.3h0M473.2 37.6h0M480.8 46.0h0M476.5 47.1h0M466.6 59.0h0M449.8 30.4h0M469.8 28.5h0M467.1 37.4h0M481.7 16.8h0" stroke="#3a548c"/><path d="M460.9 53.3h0M474.6 46.6h0" stroke="#443b84"/><path d="M465.4 43.0h0M477.8 72.2h0" stroke="#2f6c8e"/><path d="M428.3 55.5h0M463.0 47.4h0M471.4 38.0h0M483.1 47.7h0" stroke="#228b8d"/><path d="M479.6 56.8h0M465.5 44.8h0" stroke="#58c765"/><path d="M476.0 46.0h0M469.8 21.7h0" stroke="#2fb47c"/><path d="M470.1 37.1h0" stroke="#8bd646"/><path d="M495.6 27.6h0" stroke="#26818e"/><path d="M471.5 42.3h0" stroke="#70cf57"/><path d="M467.3 40.1h0M459.8 57.5h0M439.9 63.9h0M477.1 32.2h0M451.2 48.7h0M472.0 42.0h0M465.4 44.9h0M457.6 35.4h0" stroke="#3a548c"/><path d="M460.3 39.9h0M466.1 26.8h0M457.2 50.8h0M469.3 31.4h0" stroke="#443b84"/><path d="M483.9 63.7h0" stroke="#24aa83"/><path d="M454.0 37.9h0M467.0 64.5h0M469.8 50.3h0M459.6 59.8h0" stroke="#2fb47c"/><path d="M469.1 37.7h0M467.0 41.5h0M484.3 41.5h0M480.0 39.5h0M456.3 57.8h0M456.6 38.2h0M476.2 37.3h0" stroke="#3f4889"/><path d="M466.7 49.9h0M469.3 44.1h0M463.6 47.5h0M470.9 49.7h0M466.9 53.8h0" stroke="#fde725"/><path d="M442.3 59.6h0M445.6 36.1h0M462.0 49.3h0" stroke="#34608d"/><path d="M476.2 57.0h0" stroke="#2f6c8e"/><path d="M445.8 62.6h0" stroke="#42be71"/><path d="M451.9 66.5h0M469.8 51.6h0M460.2 40.7h0" stroke="#26818e"/><path d="M466.5 55.5h0M462.4 66.4h0" stroke="#2a768e"/><path d="M470.4 45.0h0M494.8 34.3h0" stroke="#228b8d"/><path d="M449.7 63.1h0" stroke="#70cf57"/><path d="M453.6 41.9h0M486.1 36.0h0M455.7 68.0h0M468.4 60.3h0M465.2 43.9h0M468.3 48.5h0M450.3 44.5h0" stroke="#3a548c"/><path d="M430.2 67.7h0M464.0 53.5h0M472.6 36.9h0" stroke="#58c765"/><path d="M470.4 40.3h0M451.4 55.3h0" stroke="#2fb47c"/><path d="M461.1 41.6h0" stroke="#2a768e"/><path d="M476.1 38.7h0M462.2 49.7h0M437.5 57.0h0" stroke="#34608d"/><path d="M423.2 79.7h0M477.5 43.1h0M455.1 57.4h0M491.2 22.2h0M457.5 69.5h0M438.4 69.4h0M477.1 24.7h0M472.9 45.9h0M476.1 21.4h0" stroke="#fde725"/><path d="M451.0 51.8h0" stroke="#443b84"/><path d="M467.1 55.8h0M469.3 48.3h0" stroke="#70cf57"/><path d="M497.3 32.3h0M458.3 53.2h0M468.1 46.7h0M464.3 42.2h0M480.1 30.4h0M471.8 49.0h0M457.1 42.9h0M468.5 50.0h0M459.6 28.7h0" stroke="#3f4889"/><path d="M476.2 48.6h0" stroke="#26818e"/><path d="M493.6 28.5h0" stroke="#2f6c8e"/><path d="M467.7 46.3h0" stroke="#24aa83"/><path d="M471.8 34.3h0" stroke="#228b8d"/><path d="M453.4 50.9h0" stroke="#1f958b"/><path d="M478.5 60.4h0M482.6 27.6h0M476.8 35.4h0M460.3 45.7h0M482.9 68.2h0M457.7 46.7h0M452.3 55.1h0M471.3 53.2h0M472.5 27.4h0" stroke="#3f4889"/><path d="M481.3 32.0h0M463.4 39.3h0M449.4 50.1h0M472.4 30.7h0M471.5 43.3h0M491.6 20.8h0M466.6 34.3h0" stroke="#3a548c"/><path d="M480.4 52.5h0M469.5 47.1h0M481.5 36.6h0M464.3 21.8h0M477.1 47.5h0M500.1 33.5h0M460.2 60.9h0M477.2 44.2h0M469.9 44.1h0" stroke="#fde725"/><path d="M459.5 59.5h0" stroke="#24aa83"/><path d="M473.9 74.0h0" stroke="#58c765"/><path d="M495.6 29.8h0M438.8 54.2h0" stroke="#2f6c8e"/><path d="M470.6 36.8h0" stroke="#228b8d"/><path d="M489.8 32.2h0M466.6 58.4h0M464.0 36.7h0" stroke="#1f958b"/><path d="M495.9 29.3h0M452.7 36.8h0M467.2 49.8h0M488.8 50.0h0M471.5 51.3h0" stroke="#443b84"/><path d="M452.8 41.0h0M452.2 66.6h0M469.5 39.5h0" stroke="#34608d"/><path d="M464.3 24.3h0" stroke="#26818e"/><path d="M460.0 46.2h0M457.5 40.9h0" stroke="#228b8d"/><path d="M471.2 62.9h0M464.8 76.7h0M462.1 44.6h0M476.3 44.8h0M445.3 58.0h0M442.4 81.7h0M469.2 46.1h0M465.2 57.7h0M447.3 39.8h0M472.0 17.4h0M473.4 58.4h0" stroke="#3f4889"/><path d="M465.8 64.0h0M463.2 43.2h0M470.6 42.2h0M461.9 39.2h0M459.9 57.5h0M453.6 62.1h0M471.9 44.8h0" stroke="#3a548c"/><path d="M501.1 51.1h0M485.8 40.0h0M474.8 63.1h0M490.7 30.6h0M497.0 24.5h0M478.3 57.8h0" stroke="#443b84"/><path d="M461.1 54.5h0M466.1 46.0h0M463.5 37.2h0" stroke="#42be71"/><path d="M447.8 47.4h0M462.8 41.2h0" stroke="#2f6c8e"/><path d="M470.5 42.9h0M469.7 26.3h0M458.3 57.3h0M465.7 34.6h0M487.9 30.2h0M458.7 38.3h0M470.7 47.8h0M448.3 47.8h0M442.6 58.4h0" stroke="#fde725"/><path d="M465.2 44.0h0" stroke="#24aa83"/><path d="M482.4 37.6h0" stroke="#34608d"/></g>
<path d="M427.45 64.41L503.66 27.40" stroke="#ee1c25" stroke-width="1.2" fill="none"/>
</g>
<rect x="396.96" y="10.00" width="106.70" height="104.25" fill="none" stroke="#606060" stroke-width="1.3"/>
<text x="450.31" y="5.15" font-size="7.8" text-anchor="middle">Lower middle income</text>
<text x="406.66" y="16.6" font-size="6.6" class="s">y = 4.51 + 0.67x</text>
<text x="407.46" y="23.4" font-size="6.45" class="s">R² = 0.33</text>
<text x="396.36" y="126.00" font-size="7.40" text-anchor="middle">10<tspan dy="-2.7" font-size="5.18">−2</tspan></text>
<text x="426.85" y="126.00" font-size="7.40" text-anchor="middle">10<tspan dy="-2.7" font-size="5.18">0</tspan></text>
<text x="457.33" y="126.00" font-size="7.40" text-anchor="middle">10<tspan dy="-2.7" font-size="5.18">2</tspan></text>
<text x="487.82" y="126.00" font-size="7.40" text-anchor="middle">10<tspan dy="-2.7" font-size="5.18">4</tspan></text>
<clipPath id="ct4"><rect x="519.08" y="10.00" width="106.70" height="104.25"/></clipPath>
<g clip-path="url(#ct4)">
<g fill="none" stroke-linecap="round" stroke-width="2.90" filter="url(#bt)"><path d="M546.5 49.6h0M578.4 34.4h0" stroke="#3a548c"/><path d="M570.1 30.8h0M583.3 28.6h0M585.6 42.6h0M593.5 38.2h0M605.6 47.6h0" stroke="#3f4889"/><path d="M618.3 29.8h0" stroke="#34608d"/><path d="M566.0 60.7h0" stroke="#472e7c"/><path d="M554.3 50.6h0M579.5 28.3h0M592.7 51.2h0M621.2 32.4h0" stroke="#3f4889"/><path d="M570.1 35.2h0M584.1 27.3h0M581.7 47.9h0" stroke="#26818e"/><path d="M607.6 31.6h0" stroke="#34608d"/><path d="M575.7 58.2h0" stroke="#3a548c"/><path d="M562.7 51.7h0" stroke="#3a548c"/><path d="M573.2 41.8h0M580.0 38.5h0M585.3 29.4h0M598.5 42.6h0M606.1 52.2h0" stroke="#3f4889"/><path d="M584.5 48.1h0" stroke="#2fb47c"/><path d="M609.2 34.4h0" stroke="#70cf57"/><path d="M592.2 62.9h0" stroke="#2a768e"/><path d="M565.5 48.4h0M607.7 51.6h0" stroke="#34608d"/><path d="M573.7 47.6h0M585.3 50.1h0M601.0 40.7h0M613.3 33.6h0M601.5 66.2h0" stroke="#26818e"/><path d="M581.2 41.0h0" stroke="#3f4889"/><path d="M585.6 33.9h0" stroke="#70cf57"/><path d="M568.0 50.1h0M575.1 38.5h0M588.6 46.3h0" stroke="#3f4889"/><path d="M582.0 39.0h0M600.6 47.6h0M613.7 42.6h0" stroke="#26818e"/><path d="M582.8 44.6h0" stroke="#fde725"/><path d="M532.2 57.4h0" stroke="#34608d"/><path d="M568.8 45.1h0" stroke="#2f6c8e"/><path d="M577.0 39.7h0" stroke="#2fb47c"/><path d="M582.8 34.4h0M585.0 41.0h0M548.5 63.2h0" stroke="#3f4889"/><path d="M591.1 37.4h0M616.1 34.7h0" stroke="#34608d"/><path d="M601.0 48.9h0" stroke="#26818e"/></g>
<path d="M549.57 48.50L625.78 36.35" stroke="#ee1c25" stroke-width="1.2" fill="none"/>
</g>
<rect x="519.08" y="10.00" width="106.70" height="104.25" fill="none" stroke="#606060" stroke-width="1.3"/>
<text x="572.43" y="5.15" font-size="7.8" text-anchor="middle">Low income</text>
<text x="528.78" y="16.6" font-size="6.6" class="s">y = 5.95 + 0.22x</text>
<text x="529.58" y="23.4" font-size="6.45" class="s">R² = 0.09</text>
<text x="518.48" y="126.00" font-size="7.40" text-anchor="middle">10<tspan dy="-2.7" font-size="5.18">−2</tspan></text>
<text x="548.97" y="126.00" font-size="7.40" text-anchor="middle">10<tspan dy="-2.7" font-size="5.18">0</tspan></text>
<text x="579.45" y="126.00" font-size="7.40" text-anchor="middle">10<tspan dy="-2.7" font-size="5.18">2</tspan></text>
<text x="609.94" y="126.00" font-size="7.40" text-anchor="middle">10<tspan dy="-2.7" font-size="5.18">4</tspan></text>
<text x="23.00" y="117.35" font-size="7.60" text-anchor="end">10<tspan dy="-2.7" font-size="5.32">0</tspan></text>
<text x="23.00" y="95.25" font-size="7.60" text-anchor="end">10<tspan dy="-2.7" font-size="5.32">2</tspan></text>
<text x="23.00" y="73.15" font-size="7.60" text-anchor="end">10<tspan dy="-2.7" font-size="5.32">4</tspan></text>
<text x="23.00" y="51.05" font-size="7.60" text-anchor="end">10<tspan dy="-2.7" font-size="5.32">6</tspan></text>
<text x="23.00" y="28.95" font-size="7.60" text-anchor="end">10<tspan dy="-2.7" font-size="5.32">8</tspan></text>
<rect x="33.6" y="90.3" width="80" height="19.8" rx="1.2" fill="#fff" fill-opacity="0.8" stroke="#d4d4d4" stroke-width="0.7"/>
<circle cx="42.6" cy="95.9" r="1.35" fill="#2db27d"/>
<text x="54.3" y="98" font-size="6.5" class="s">Subcountry-level data</text>
<path d="M36 104.8h13" stroke="#ee1c25" stroke-width="1.2"/>
<text x="54.3" y="107" font-size="6.5" class="s">Powerlaw Fitting</text>
<clipPath id="cb0"><rect x="30.60" y="144.70" width="106.70" height="104.20"/></clipPath>
<g clip-path="url(#cb0)">
<g fill="none" stroke-linecap="round" stroke-width="2.10" filter="url(#bl)"><path d="M73.9 244.4h0M40.3 246.9h0M84.6 244.8h0M77.9 238.9h0M106.8 246.6h0M90.4 242.8h0M96.4 246.8h0M79.7 236.9h0M107.5 246.9h0M88.4 215.5h0M72.2 241.8h0M82.5 242.7h0M77.2 247.1h0M84.7 246.2h0M57.4 247.2h0M53.4 244.6h0M85.0 240.8h0M112.4 247.7h0M118.5 244.5h0M78.6 229.3h0M112.6 246.8h0M101.0 247.6h0M109.4 240.2h0" stroke="#2f6c8e"/><path d="M58.0 246.7h0M113.3 228.5h0M108.0 243.6h0M69.6 246.1h0M87.8 240.5h0M63.3 247.5h0M108.2 245.2h0M61.6 245.6h0M108.0 234.4h0M95.2 243.4h0M96.4 246.0h0M100.9 240.3h0M112.1 241.9h0M113.5 243.7h0M108.3 247.8h0M83.8 238.9h0M82.0 248.0h0M95.7 242.3h0M98.3 237.0h0M78.0 236.5h0" stroke="#228b8d"/><path d="M80.8 226.8h0M69.6 248.0h0M85.1 247.5h0M104.7 232.4h0M122.3 244.8h0M79.6 242.0h0M106.9 238.0h0M88.2 217.3h0M75.8 237.8h0M82.0 226.8h0M46.4 246.6h0M81.2 231.9h0M68.0 244.8h0M111.1 236.5h0M90.5 229.4h0M76.9 240.9h0M86.8 229.3h0M114.8 228.6h0M79.6 230.1h0M66.3 245.5h0M80.8 246.3h0M119.2 244.2h0M103.8 247.8h0M83.6 239.8h0M52.0 247.1h0M71.1 235.0h0M77.5 237.9h0M111.3 223.8h0M109.7 231.6h0M69.8 240.3h0M79.7 228.6h0M107.0 233.3h0M96.1 239.3h0M109.0 231.7h0M75.0 227.6h0M111.1 248.0h0M75.6 239.6h0M115.0 234.5h0M64.9 246.6h0M92.2 217.2h0M119.7 244.5h0M64.7 245.4h0M61.5 242.9h0M78.2 220.6h0M87.4 240.5h0M110.4 230.1h0M90.4 237.8h0M102.3 244.5h0M60.4 244.2h0M91.6 222.6h0M100.9 234.2h0M93.7 245.8h0M96.8 240.0h0M89.1 242.8h0M102.9 244.3h0M98.0 241.4h0M70.6 247.0h0M99.2 236.1h0M84.3 235.8h0M90.7 213.6h0M111.4 208.6h0M70.2 245.1h0M110.4 232.4h0M116.8 226.2h0M85.7 209.7h0M113.5 245.5h0M97.9 239.8h0M42.3 247.5h0M93.0 239.0h0M74.6 248.0h0M72.6 238.8h0M84.8 243.5h0M71.1 233.2h0M93.3 210.6h0M119.2 244.6h0M46.9 246.2h0M72.0 241.0h0M92.3 212.1h0M75.2 244.3h0M98.8 233.0h0M71.0 236.1h0M108.8 243.8h0M79.5 213.4h0M82.9 228.7h0M86.9 241.9h0M83.7 230.6h0M79.7 230.5h0M106.5 235.2h0M116.3 229.8h0M77.7 223.2h0M66.6 240.6h0M96.1 231.4h0M113.8 241.6h0M107.3 244.8h0M84.5 206.9h0M92.2 239.4h0M86.5 243.4h0M80.2 230.3h0M68.2 247.3h0M66.4 228.5h0M106.8 244.2h0M117.3 244.0h0M75.7 228.0h0M113.2 234.8h0M108.7 237.3h0M116.2 231.4h0M94.1 236.5h0M114.1 247.6h0M113.4 243.7h0M74.2 226.7h0M79.0 221.7h0M107.0 226.3h0M79.8 222.5h0M90.7 245.0h0M115.3 236.8h0M104.9 240.0h0M65.4 245.4h0M92.2 240.5h0M109.8 246.8h0M109.4 235.5h0M95.1 239.3h0M98.5 236.2h0M87.4 202.5h0M44.2 246.7h0M73.2 247.7h0M61.7 246.9h0M81.2 239.4h0M60.2 242.4h0M62.9 243.6h0M60.8 248.0h0M49.8 247.2h0M68.6 248.2h0M64.0 232.0h0M54.5 241.3h0M53.4 244.6h0M42.4 248.0h0M88.5 228.2h0M92.5 226.4h0M56.7 245.5h0M93.6 233.1h0M77.1 242.8h0M54.3 247.4h0M108.9 231.0h0M106.0 241.3h0M67.3 240.6h0M88.3 246.5h0M107.9 209.6h0M72.6 245.1h0M116.8 238.1h0M91.4 246.6h0M73.5 247.3h0M118.1 239.9h0M82.6 242.5h0M60.7 232.0h0M74.8 238.7h0M73.9 241.6h0M114.9 235.1h0M101.0 238.3h0M93.0 236.5h0M82.6 200.3h0M109.4 231.4h0M77.8 233.5h0M76.9 236.3h0M97.3 238.6h0M79.9 227.0h0M92.6 237.7h0M84.3 226.3h0M70.2 219.5h0M75.9 228.5h0M80.3 226.7h0M73.2 223.8h0M93.3 226.4h0M84.8 239.8h0M80.9 245.7h0M84.6 231.0h0M82.6 237.7h0M90.4 233.4h0M109.2 195.4h0M85.1 244.4h0M81.5 244.4h0M84.4 225.7h0M72.2 245.7h0M86.9 226.2h0M83.3 235.2h0M72.6 240.0h0M106.0 244.1h0M81.6 240.1h0M106.5 243.6h0M81.1 218.2h0M90.1 214.4h0M107.6 246.2h0M79.6 238.3h0M85.8 236.0h0M116.8 243.1h0M100.4 239.3h0M109.3 242.2h0M82.9 236.7h0M61.2 248.3h0M67.4 241.9h0M91.7 232.2h0M106.8 243.8h0M39.7 248.1h0M68.5 242.6h0M80.3 239.5h0M96.5 243.7h0M99.4 244.2h0M72.6 233.9h0M99.6 241.0h0M117.2 240.0h0M94.3 247.3h0M93.4 247.5h0M114.5 224.5h0M95.0 239.2h0M80.9 244.3h0M83.3 233.1h0M75.0 232.4h0M75.9 231.0h0M96.9 245.5h0M65.5 246.0h0M72.4 243.4h0M50.4 244.1h0M93.0 234.6h0M97.3 245.2h0M88.6 242.5h0M58.2 245.3h0M105.3 225.7h0M111.9 228.4h0M101.3 245.7h0M113.0 229.6h0" stroke="#3f4889"/><path d="M79.2 231.8h0M80.0 240.4h0M78.8 246.1h0M72.0 242.0h0M111.4 237.3h0M102.2 216.0h0M92.3 205.6h0M92.1 235.5h0M86.3 238.9h0M111.9 235.9h0M111.5 243.2h0M43.9 246.2h0M109.5 234.9h0M110.9 245.3h0M108.9 227.8h0M81.3 240.8h0M55.8 245.8h0M63.1 234.1h0M81.2 247.7h0M72.1 235.4h0M96.4 243.1h0M101.0 239.6h0M96.6 231.4h0M84.2 245.4h0M96.6 235.5h0M81.2 239.3h0M88.3 235.4h0M80.7 231.1h0M59.3 241.4h0M116.3 222.6h0M71.7 242.6h0M105.1 234.0h0M80.1 202.5h0M79.9 189.0h0M43.2 246.5h0M109.5 243.2h0M87.2 246.3h0M100.5 232.9h0M87.7 248.0h0M106.5 240.2h0M83.7 202.5h0M77.5 236.5h0M43.4 246.2h0M97.4 239.9h0M73.6 245.7h0M66.7 240.5h0M91.4 232.4h0M80.4 222.5h0M67.9 245.8h0M78.1 228.5h0M78.8 240.0h0M70.8 242.0h0M84.6 215.4h0M92.4 237.8h0M80.9 221.4h0M67.6 229.5h0M96.8 234.6h0M103.4 244.2h0M113.5 243.0h0M73.1 240.4h0M87.7 239.9h0M62.5 246.8h0M117.1 232.9h0M85.6 238.0h0M96.9 233.7h0M97.4 243.7h0M113.1 244.3h0M70.6 237.9h0M99.3 247.8h0M93.2 237.9h0M69.0 239.5h0M85.6 235.9h0M88.4 235.8h0M99.9 232.3h0M120.8 244.5h0M84.0 245.8h0M77.3 238.8h0M75.5 238.7h0M54.3 246.4h0M65.8 237.4h0M100.3 242.2h0M78.4 240.4h0M92.0 248.0h0M86.3 236.3h0M119.1 247.1h0M109.2 235.3h0M51.5 245.3h0M94.5 210.7h0M87.6 238.8h0M76.7 241.6h0M91.3 242.3h0M74.5 239.4h0M64.5 245.4h0M121.3 243.7h0M70.1 236.5h0M97.6 240.7h0M81.2 222.9h0M83.8 210.9h0M35.1 247.4h0M92.7 240.4h0M64.1 239.3h0M103.5 242.2h0M98.2 217.4h0M112.2 233.1h0M92.6 239.3h0M60.0 248.0h0M80.4 241.6h0M43.1 246.3h0M53.1 244.6h0M73.2 244.8h0M91.0 223.1h0M64.2 240.8h0M86.3 237.5h0M95.6 245.6h0M111.7 243.7h0M54.1 246.7h0M93.0 232.4h0M99.7 236.4h0M118.1 247.5h0M79.4 241.1h0M83.3 243.3h0M106.3 241.7h0M70.4 243.3h0M120.4 239.1h0M68.0 239.1h0M81.2 230.9h0M64.7 248.0h0M112.7 223.0h0M78.8 245.2h0M94.4 209.6h0M69.9 246.3h0M86.0 240.8h0M78.7 240.3h0M107.6 247.1h0M90.0 212.7h0M64.1 244.8h0M88.1 228.7h0M88.7 240.5h0M109.7 243.0h0M111.5 243.7h0M74.8 240.2h0M91.1 248.0h0M71.3 240.5h0M114.7 239.7h0M82.5 228.5h0M78.2 237.0h0M112.9 245.7h0M75.1 219.4h0M82.7 247.3h0M95.3 230.7h0M90.0 240.4h0M104.2 242.8h0M76.4 227.3h0M58.7 248.1h0M67.2 242.5h0M66.5 229.0h0M114.0 214.1h0M78.9 246.5h0M85.6 240.3h0M80.7 212.2h0M112.6 220.2h0M80.5 242.1h0M111.2 241.2h0M76.9 219.7h0M64.5 240.2h0M97.5 246.7h0M93.5 244.4h0" stroke="#3a548c"/><path d="M83.2 220.9h0M109.0 247.2h0M105.4 234.0h0M96.1 246.5h0M99.9 232.6h0M73.7 247.0h0M95.7 240.5h0M85.2 231.9h0M111.5 231.4h0M60.2 248.0h0M78.0 236.4h0M82.4 228.3h0M69.7 219.2h0M100.1 234.0h0M78.8 229.6h0M109.5 236.9h0M101.5 231.7h0M88.6 232.0h0M73.8 246.0h0M122.8 245.9h0M110.5 232.7h0M77.1 221.0h0M109.9 246.6h0M104.4 234.5h0M81.6 238.6h0M83.2 227.2h0M71.1 246.7h0M63.4 246.1h0M78.0 229.7h0M79.1 247.5h0M88.3 246.4h0M69.1 217.2h0M98.0 236.7h0M76.8 237.2h0M73.1 237.5h0M67.9 212.7h0M86.4 228.4h0M71.2 237.4h0M115.2 236.7h0M106.9 246.3h0M90.7 241.2h0M115.1 233.4h0M102.3 231.3h0M104.9 241.8h0M77.8 247.2h0M99.9 162.7h0M66.4 241.5h0M82.4 230.7h0M58.1 230.5h0M80.7 233.8h0M103.1 235.0h0M72.4 239.7h0M77.4 237.0h0M101.8 213.5h0M101.7 243.6h0M83.0 238.1h0M104.9 223.7h0M105.8 207.6h0M81.6 248.1h0M96.8 240.2h0M88.5 238.9h0M88.3 184.6h0M97.5 218.2h0M68.1 244.4h0M116.0 246.4h0M74.9 233.3h0M88.1 180.3h0M82.5 241.7h0M118.6 243.7h0M68.9 243.0h0M106.0 244.3h0M97.7 223.4h0M108.9 234.6h0M67.4 248.2h0M79.9 238.2h0M56.4 247.5h0M114.5 232.1h0M69.6 241.0h0M76.9 237.7h0M73.7 225.7h0M65.1 243.2h0M78.3 245.6h0M87.5 213.3h0M55.7 243.8h0M36.7 247.6h0M69.6 243.0h0M113.9 234.6h0M85.5 247.2h0M100.6 236.9h0M111.0 235.6h0M81.3 246.5h0M116.6 240.9h0M112.2 232.9h0M106.5 235.7h0M117.2 247.6h0M87.8 185.0h0M110.1 237.7h0M69.4 229.7h0M61.2 242.0h0M113.7 239.2h0M86.3 231.4h0M85.7 205.6h0M105.1 240.5h0M45.6 246.1h0M106.5 242.9h0M71.7 245.3h0M57.7 245.7h0M70.1 243.8h0M83.3 242.5h0M110.6 215.5h0M91.5 240.6h0M74.0 234.2h0M106.1 245.0h0M75.7 245.7h0M107.9 235.2h0M116.6 243.4h0M83.7 247.8h0M73.5 227.2h0M76.8 245.1h0M106.5 238.2h0M87.9 245.4h0M86.7 241.8h0M104.0 229.1h0M73.3 230.9h0M78.1 212.1h0M105.2 246.1h0M82.4 247.9h0M89.3 229.1h0M74.8 242.2h0M122.8 246.1h0M78.0 245.9h0M84.9 241.5h0M91.6 236.8h0M83.0 240.0h0M81.1 244.8h0M93.8 244.2h0M78.8 244.6h0M78.5 232.2h0M82.6 208.9h0M95.1 225.6h0M74.4 233.7h0M84.5 234.1h0M83.0 227.1h0M73.9 240.0h0M76.7 239.2h0M89.0 227.3h0M108.7 240.2h0M85.5 236.0h0M113.5 233.0h0M47.5 247.4h0M81.8 243.1h0M84.3 246.6h0M78.5 223.4h0M114.1 239.2h0M121.7 243.5h0M108.7 230.5h0M70.9 242.1h0M118.7 247.6h0M107.3 227.5h0M113.9 234.8h0M76.7 242.9h0M72.4 236.4h0M53.9 248.3h0M96.6 240.4h0M96.6 237.8h0M97.3 234.3h0M88.2 228.1h0M86.4 232.2h0M100.4 245.5h0M81.1 218.6h0M86.4 239.4h0M88.5 239.5h0M116.2 245.7h0M115.4 235.6h0M84.6 233.7h0M73.8 243.0h0M46.7 246.3h0M76.6 231.3h0M118.4 241.5h0M75.9 235.1h0M105.7 199.8h0M78.8 224.5h0M93.2 227.1h0M68.5 232.3h0M120.0 241.3h0M87.4 234.7h0M89.8 227.4h0M113.6 212.0h0M110.4 240.6h0M101.3 225.5h0M71.7 228.2h0" stroke="#443b84"/><path d="M119.0 246.2h0M88.0 246.4h0M112.8 247.1h0M104.1 247.4h0M108.9 229.3h0M76.3 247.2h0M85.6 247.7h0M117.3 245.9h0M80.1 245.8h0M112.3 246.2h0M88.5 247.8h0M93.7 246.3h0M94.5 246.8h0M116.7 246.5h0M103.9 238.7h0M107.9 246.4h0M111.6 247.9h0M85.9 248.0h0M108.0 245.9h0M104.1 246.8h0M111.6 246.7h0M84.2 234.7h0M106.6 246.9h0M91.9 248.1h0M104.3 247.0h0M96.2 229.0h0M115.7 246.5h0" stroke="#fde725"/><path d="M85.2 238.4h0M68.8 248.3h0M78.2 246.4h0M115.6 247.6h0M57.0 243.1h0" stroke="#2fb47c"/><path d="M117.0 246.6h0M107.8 243.5h0M103.6 245.8h0M90.8 245.8h0" stroke="#1fa088"/><path d="M70.3 244.5h0M77.4 217.9h0M87.2 213.7h0M61.5 236.9h0M67.5 243.4h0M109.9 248.3h0M112.1 246.6h0M85.6 236.6h0M74.4 245.3h0M99.5 240.4h0M103.1 214.7h0M60.0 237.3h0M91.2 241.5h0M57.3 243.0h0M74.8 243.5h0M114.3 248.3h0M115.5 244.8h0" stroke="#1f958b"/><path d="M66.6 243.4h0M84.6 234.4h0M107.5 226.0h0M105.3 242.3h0M69.9 245.9h0M50.0 248.2h0M113.2 234.6h0M100.8 243.2h0M103.3 233.0h0M64.8 241.5h0M105.2 234.3h0M91.3 236.2h0M75.3 218.7h0M88.4 230.4h0M76.2 245.2h0M72.8 237.7h0M105.6 244.1h0M116.7 239.3h0M76.9 238.7h0M112.3 237.6h0M79.4 242.4h0M81.0 224.9h0M105.8 242.3h0M73.9 247.8h0M59.9 248.0h0M93.9 242.2h0M95.8 237.0h0M69.8 232.7h0M116.4 236.1h0M47.6 246.6h0M72.5 240.2h0M101.5 232.2h0M49.7 246.5h0M71.6 228.4h0M95.1 235.8h0M101.2 238.6h0M69.4 230.9h0M103.3 228.2h0M77.6 241.0h0M67.3 230.7h0M73.1 245.7h0M95.7 227.5h0M99.9 233.3h0M92.8 234.3h0M113.0 248.2h0M88.7 246.8h0M113.5 234.5h0M81.5 214.3h0M83.0 229.7h0M88.5 240.3h0M76.0 237.3h0M81.8 248.2h0M103.6 244.8h0M115.6 238.6h0M69.1 243.1h0M95.5 238.8h0M101.7 244.4h0M71.0 238.7h0M65.3 230.3h0M79.1 242.4h0M110.4 237.4h0M77.2 229.2h0M102.5 238.0h0M111.0 242.5h0M73.0 225.2h0M106.7 244.3h0M67.3 247.1h0M98.1 221.3h0M89.6 242.1h0M74.5 234.9h0M84.8 237.1h0M72.7 238.4h0M116.6 228.6h0M112.1 241.4h0M75.1 239.0h0M112.4 243.1h0" stroke="#472e7c"/><path d="M75.2 248.2h0M109.9 243.6h0M73.4 246.0h0M104.5 247.2h0M107.9 244.7h0M69.0 244.5h0M106.4 243.2h0M70.4 234.6h0M63.2 243.5h0M81.1 246.5h0M110.7 246.0h0M106.8 246.7h0M85.7 239.0h0M119.1 238.5h0M108.1 242.3h0M110.8 243.3h0M106.4 247.2h0M84.3 243.0h0M56.8 244.6h0M98.8 245.3h0M99.3 246.9h0" stroke="#2a768e"/><path d="M101.4 245.1h0M120.5 247.7h0M118.3 241.8h0M70.7 243.5h0M59.4 247.5h0M91.8 248.0h0M65.0 244.2h0M83.0 220.2h0M97.5 245.2h0M103.6 242.5h0M97.3 239.7h0M111.8 242.8h0M97.1 245.8h0M109.7 243.2h0M60.6 246.2h0M110.7 235.1h0" stroke="#26818e"/><path d="M104.4 240.8h0M92.9 246.2h0M51.7 247.7h0" stroke="#42be71"/><path d="M98.1 235.7h0M68.6 247.7h0M110.2 227.1h0M107.6 236.7h0M86.9 236.2h0M112.1 240.7h0M41.3 248.2h0M62.3 246.3h0M111.0 232.4h0M105.3 244.3h0M109.8 247.8h0M104.4 247.2h0M57.5 239.5h0M91.0 242.0h0M88.5 233.5h0M116.1 209.0h0M71.9 245.0h0M82.4 219.3h0M73.9 244.4h0M80.6 232.5h0M90.0 233.0h0M79.9 220.5h0M69.8 245.1h0M104.0 238.9h0M86.9 239.7h0M85.9 204.8h0M80.0 245.8h0M79.2 243.7h0M101.1 235.4h0M82.2 182.0h0M72.4 236.0h0M83.2 233.2h0M53.4 244.5h0M111.2 231.6h0M62.0 241.9h0M97.6 239.5h0M94.3 242.6h0" stroke="#34608d"/><path d="M100.9 236.1h0M109.0 237.1h0M97.1 238.0h0M119.1 248.2h0M111.7 247.2h0M117.2 243.4h0" stroke="#70cf57"/><path d="M89.8 237.8h0M112.1 239.2h0M112.7 242.4h0" stroke="#24aa83"/><path d="M113.2 247.1h0M62.1 236.9h0M92.9 244.2h0M72.8 237.6h0M119.2 246.0h0" stroke="#58c765"/><path d="M77.4 202.0h0" stroke="#482071"/><path d="M130.3 244.0h0" stroke="#a8db34"/><path d="M122.2 248.2h0M84.1 223.7h0M82.6 240.8h0M79.4 227.5h0M109.4 235.2h0M98.2 236.5h0M58.8 239.9h0M65.0 242.6h0M70.2 247.3h0M91.0 242.3h0M34.3 246.1h0M69.5 234.2h0M118.0 236.4h0M98.7 243.9h0M84.2 229.2h0M96.0 232.8h0M98.6 239.2h0M86.6 236.2h0M79.7 235.5h0M75.7 246.0h0M68.1 238.4h0M108.3 245.5h0M90.9 244.6h0M71.4 239.8h0M72.8 230.4h0M74.6 231.3h0M63.8 246.9h0M77.6 219.8h0M77.2 230.9h0M91.4 226.6h0M97.9 238.0h0M119.7 243.6h0M85.2 237.0h0M44.0 247.7h0M115.4 244.7h0M116.2 227.9h0M58.3 246.2h0M86.4 220.1h0M74.9 233.1h0M108.8 235.5h0M101.7 225.1h0M79.8 228.2h0M85.8 237.5h0M73.9 235.1h0M97.1 241.0h0M96.0 239.2h0M65.1 239.5h0M49.0 244.0h0M95.7 240.3h0M62.3 248.0h0M89.7 239.3h0M113.5 225.5h0M116.7 239.2h0M71.7 238.6h0M98.3 238.2h0M71.5 231.7h0M90.6 213.7h0M114.9 240.8h0M46.4 247.4h0M68.8 247.9h0M94.0 224.8h0M76.4 239.9h0M80.4 238.2h0M89.0 236.2h0M111.9 241.0h0M86.9 241.9h0M87.6 227.0h0M98.5 244.3h0M56.9 244.4h0M78.8 235.7h0M82.9 242.4h0M86.2 239.6h0M79.8 210.1h0M59.0 246.8h0M76.9 238.0h0M70.6 237.6h0M83.4 230.1h0M85.1 246.3h0M76.9 208.7h0M109.3 247.1h0M73.5 230.5h0M77.2 222.8h0M90.4 236.3h0M75.1 233.9h0M91.4 236.6h0M84.0 237.0h0M74.9 223.0h0M119.7 245.6h0M102.6 237.3h0M94.8 219.3h0M86.4 231.6h0M94.9 245.0h0M85.3 228.2h0M84.6 219.3h0M71.9 238.4h0M63.0 245.4h0M73.9 243.8h0M74.3 235.6h0M119.8 234.5h0M91.7 245.1h0M71.4 244.3h0M85.9 234.4h0M101.9 234.6h0M81.6 218.1h0M71.9 242.5h0M99.7 239.4h0M53.6 243.0h0M91.4 243.0h0M57.3 248.3h0M105.1 240.0h0M71.5 242.0h0M101.6 243.3h0M110.3 233.4h0M116.8 239.6h0M52.9 233.4h0M69.8 243.1h0M69.1 247.1h0M97.7 237.4h0M87.4 225.4h0M93.2 238.5h0M114.6 232.0h0M81.2 238.9h0M82.1 237.8h0M66.3 240.1h0M104.3 240.9h0M82.8 216.3h0M91.6 233.0h0M74.0 241.8h0M94.7 224.7h0M73.5 230.9h0M48.0 245.8h0M96.2 236.1h0M74.6 233.9h0M102.8 241.3h0M93.9 230.0h0M114.7 238.6h0M89.2 224.7h0M82.4 207.7h0M112.7 230.3h0M52.7 245.3h0M79.0 233.4h0M82.7 231.6h0M73.6 240.0h0M120.3 241.0h0M78.7 234.7h0M76.5 236.3h0M91.8 239.7h0M84.6 205.4h0M69.6 244.9h0M100.9 213.3h0M66.7 241.5h0M70.2 246.8h0M111.7 243.8h0M62.4 247.3h0M80.7 216.5h0M91.2 242.2h0M107.0 244.8h0M92.0 244.9h0M74.7 228.2h0M98.3 223.9h0M63.8 247.7h0M109.8 241.6h0M95.9 240.1h0M85.4 218.4h0M98.6 243.4h0M111.4 238.6h0M102.5 237.5h0M84.5 225.4h0M73.7 233.7h0M64.7 225.2h0M110.5 236.5h0M75.1 233.0h0M101.8 243.0h0M71.9 232.8h0M88.9 243.7h0M109.5 215.9h0M74.7 238.0h0M58.3 245.7h0M108.7 242.8h0M111.3 241.9h0M105.1 240.0h0M81.0 235.6h0M65.8 244.7h0M76.1 244.0h0M92.7 241.9h0M42.8 245.6h0M83.2 212.1h0M103.0 237.7h0M86.6 247.9h0M106.7 230.7h0M112.5 242.3h0M78.1 239.6h0M90.5 241.2h0M103.9 231.6h0M75.8 227.4h0M79.0 219.1h0M115.5 243.8h0M96.5 246.2h0M70.8 239.1h0M102.0 234.8h0M114.8 237.5h0M88.2 236.1h0M72.9 237.5h0M104.0 242.7h0M96.5 233.3h0M113.7 240.3h0M118.6 246.4h0M94.0 226.8h0M69.9 244.4h0M91.9 243.9h0M43.2 248.2h0M81.5 237.0h0M111.6 219.5h0M83.8 234.2h0M49.7 247.2h0M76.5 244.9h0M87.4 242.3h0M69.2 241.1h0M116.7 222.4h0M61.0 237.7h0M96.7 237.1h0M71.3 243.5h0M66.0 244.4h0M102.9 232.5h0M95.4 227.0h0M100.4 217.7h0M111.9 225.1h0M108.9 241.3h0M104.3 244.1h0M69.9 242.2h0M74.2 230.5h0M90.2 233.6h0M112.1 245.5h0M115.4 228.0h0M116.6 225.6h0M54.9 247.8h0M106.2 216.3h0M70.5 247.7h0M76.2 243.1h0M94.9 244.6h0M95.4 243.4h0M68.3 245.2h0M68.5 241.9h0" stroke="#3f4889"/><path d="M85.9 227.2h0M61.9 242.9h0M97.2 236.1h0M84.6 227.1h0M83.2 235.8h0M67.3 247.0h0M76.6 229.6h0M84.2 227.2h0M88.6 222.6h0M95.9 233.1h0M80.5 235.7h0M106.8 240.9h0M106.4 241.2h0M100.0 236.3h0M80.3 235.6h0M96.5 222.2h0M97.7 242.5h0M83.4 226.2h0M98.6 241.2h0M109.2 248.3h0M114.0 211.3h0M83.2 236.0h0M82.8 240.5h0M81.7 243.1h0M54.2 244.9h0M80.1 245.4h0M106.8 244.3h0M81.2 216.7h0M77.6 220.9h0M70.6 232.1h0M87.9 231.2h0M63.4 248.2h0M57.2 244.0h0M75.7 239.5h0M87.2 236.9h0M82.7 228.5h0M89.1 228.7h0M78.0 247.0h0M77.6 241.7h0M92.6 246.0h0M55.5 244.3h0M118.9 236.5h0M106.4 237.6h0M83.8 221.7h0M86.9 242.9h0M94.8 240.6h0M74.9 240.7h0M84.3 243.2h0M87.1 232.9h0M90.1 228.9h0M79.5 222.2h0M62.3 246.9h0M86.7 240.6h0M58.3 247.1h0M84.4 231.7h0M114.8 245.3h0M80.3 241.7h0M97.6 245.4h0M87.2 236.1h0M85.9 242.4h0M84.6 203.3h0M90.2 232.4h0M73.9 217.4h0M66.7 237.8h0M86.0 234.0h0M80.1 245.2h0M95.8 227.9h0M78.2 236.0h0M83.3 238.7h0M94.2 236.3h0M88.8 245.6h0M116.4 247.0h0M69.0 238.4h0M77.9 241.6h0M107.2 237.5h0M106.1 234.8h0M37.6 247.0h0M115.0 243.2h0M82.5 234.3h0M118.9 247.2h0M89.0 216.8h0M120.1 247.1h0M100.7 235.6h0M70.2 236.9h0M65.4 238.2h0M94.5 219.9h0M91.9 231.6h0M104.2 244.7h0M85.4 238.2h0M51.4 242.8h0M82.1 218.2h0M115.6 234.8h0M113.5 243.5h0M111.0 221.5h0M90.4 198.8h0M94.8 240.2h0M108.7 237.8h0M41.4 247.7h0M96.3 239.1h0M66.0 240.4h0M82.5 246.0h0M64.5 237.4h0M87.5 224.1h0M92.6 213.6h0M91.7 240.8h0M61.6 240.9h0M110.8 234.1h0M76.7 237.0h0M89.4 210.4h0M75.0 210.1h0M86.0 238.0h0M98.4 233.8h0M88.6 233.8h0M103.4 231.3h0M73.1 240.3h0M69.2 248.0h0M77.1 229.0h0M105.5 242.8h0M107.8 219.1h0M89.6 226.2h0M54.9 247.4h0M83.1 242.7h0M90.3 243.5h0M81.6 219.7h0M115.8 245.0h0M89.8 219.4h0M40.0 245.0h0M72.5 230.1h0M99.4 247.2h0M85.8 182.0h0M102.7 232.0h0M119.1 235.9h0M114.6 239.9h0M78.8 223.7h0M86.9 218.6h0M73.8 231.9h0M78.3 226.9h0M67.0 242.5h0M108.6 226.3h0M86.5 239.4h0M66.1 246.0h0M75.7 237.7h0M53.8 245.8h0" stroke="#3a548c"/><path d="M75.4 246.1h0M75.7 247.7h0M98.6 235.4h0M79.2 247.8h0M106.1 246.0h0M96.9 246.7h0M92.1 247.7h0M103.4 232.3h0M97.7 238.0h0M85.0 234.1h0M79.0 245.7h0M78.3 239.0h0M96.6 245.8h0M92.8 247.9h0M89.2 247.9h0M77.7 245.9h0M93.3 246.0h0M73.7 247.6h0M67.2 244.8h0M108.3 246.9h0M117.4 247.7h0M111.8 246.4h0M95.8 246.7h0M93.8 246.6h0M86.6 235.4h0M91.3 246.6h0M113.3 247.3h0M116.0 246.5h0M101.9 247.0h0M87.6 246.1h0M82.7 199.0h0M105.3 248.1h0M96.9 248.2h0M91.5 248.0h0" stroke="#fde725"/><path d="M103.1 231.7h0M105.6 227.3h0M111.6 227.0h0M78.0 235.5h0M67.1 244.5h0M114.0 237.4h0M113.2 234.6h0M107.3 224.0h0M99.7 234.1h0M61.1 247.8h0M96.8 236.6h0M89.9 246.6h0M121.9 236.4h0M119.6 247.4h0M99.8 237.3h0M116.1 240.7h0M82.4 231.2h0M72.7 214.6h0M107.4 237.0h0M77.1 245.8h0M107.1 235.3h0M113.6 247.5h0M74.3 221.7h0M75.4 234.7h0M108.0 245.6h0M73.5 206.0h0M58.7 222.0h0M88.8 233.9h0M74.9 227.3h0M102.3 235.3h0M99.5 232.4h0M77.6 201.0h0M69.2 247.8h0M109.6 223.3h0M117.3 239.9h0M93.3 240.5h0M85.7 239.1h0M101.7 244.5h0M113.0 233.8h0M78.1 232.4h0M102.9 236.2h0M113.7 229.5h0M89.0 245.6h0M98.4 235.5h0M114.8 233.8h0M60.6 248.1h0M99.9 235.6h0M68.7 232.6h0M66.2 240.3h0M71.1 247.1h0M72.4 246.2h0M87.1 247.1h0M101.5 232.5h0M89.6 247.7h0M112.8 224.5h0M114.4 247.2h0M83.8 229.5h0" stroke="#472e7c"/><path d="M90.0 221.0h0M109.4 244.4h0M101.1 242.7h0M77.0 247.8h0M107.4 245.0h0M98.3 246.4h0M109.0 244.6h0M72.4 247.6h0M69.0 241.1h0M116.1 245.7h0M96.8 244.5h0M104.2 247.1h0M74.8 239.4h0M61.0 241.9h0M74.2 242.8h0M106.3 243.2h0M73.7 247.9h0" stroke="#2f6c8e"/><path d="M120.9 238.6h0M89.9 238.3h0M108.5 242.4h0M84.5 240.1h0M113.1 236.7h0M91.9 236.4h0M61.9 247.2h0M79.0 226.2h0M74.4 244.5h0M87.6 198.9h0M97.1 246.7h0M110.4 237.9h0M97.8 240.3h0M111.5 244.5h0M89.6 243.5h0M77.6 247.2h0M85.7 242.5h0M80.8 248.2h0M105.5 242.6h0M54.5 245.9h0M94.0 221.7h0M92.0 237.4h0M117.4 244.7h0M114.2 207.5h0M73.3 243.5h0M111.7 222.1h0M101.7 248.1h0M110.6 245.9h0M90.1 246.6h0M105.6 236.6h0M82.7 246.2h0M86.5 229.2h0M91.1 241.3h0M110.7 246.4h0M90.2 241.7h0M60.5 234.7h0M115.8 215.7h0M81.1 198.8h0M73.9 243.8h0M68.4 246.9h0M86.1 244.0h0M105.8 242.8h0M112.9 246.4h0M62.3 240.8h0M94.2 242.9h0M68.9 237.9h0M96.1 224.5h0M109.0 234.0h0M63.3 248.2h0M83.2 236.5h0M117.0 242.9h0M85.5 243.7h0M88.5 206.1h0M99.4 229.7h0M90.0 248.2h0M85.0 245.2h0M70.3 247.6h0" stroke="#34608d"/><path d="M46.9 248.0h0M88.1 247.5h0M113.1 226.5h0M99.7 239.7h0M74.6 243.1h0M86.9 245.7h0M92.1 237.2h0M81.6 229.7h0M40.7 246.7h0M90.9 234.7h0M105.1 241.6h0M75.1 237.3h0M94.6 233.4h0M94.4 233.9h0M81.2 242.4h0M113.3 235.5h0M90.5 239.2h0M78.7 246.8h0M94.5 236.4h0M58.8 245.1h0M50.7 245.9h0M84.6 234.0h0M77.0 246.6h0M101.2 238.4h0M79.0 213.7h0M95.1 227.8h0M73.2 220.0h0M94.0 237.9h0M67.9 234.6h0M76.2 234.1h0M79.9 228.9h0M113.6 238.1h0M102.6 234.2h0M104.2 243.8h0M113.3 228.5h0M62.8 239.6h0M61.9 248.3h0M68.2 245.1h0M64.0 246.2h0M116.6 244.8h0M77.9 225.2h0M111.1 243.0h0M59.3 243.5h0M118.3 232.6h0M87.4 243.6h0M72.6 246.6h0M62.1 247.4h0M99.6 246.1h0M55.0 248.1h0M62.9 247.7h0M99.6 241.3h0M117.9 234.0h0M94.4 237.5h0M104.0 241.4h0M83.3 230.7h0M109.5 229.8h0M105.2 237.7h0M105.4 235.6h0M81.5 226.9h0M78.1 199.9h0M75.5 235.9h0M73.6 236.8h0M110.4 243.4h0M107.9 230.0h0M69.0 238.2h0M99.3 245.4h0M82.0 246.5h0M103.4 243.4h0M100.8 242.4h0M108.3 244.1h0M70.7 238.9h0M74.9 243.5h0M89.9 192.0h0M85.9 244.4h0M44.1 248.1h0M110.5 246.1h0M72.6 248.1h0M71.7 220.6h0M96.2 231.3h0M89.8 245.6h0M88.5 184.7h0M90.4 176.8h0M104.0 241.6h0M105.5 235.9h0M74.1 238.5h0M85.8 247.6h0M78.7 228.8h0M62.7 244.6h0M102.0 245.5h0M77.1 247.2h0M105.0 232.1h0M92.8 228.5h0M60.9 227.4h0M112.7 242.9h0M44.3 245.9h0M100.4 245.5h0M109.7 232.5h0M110.3 243.8h0M73.0 237.3h0M93.1 229.3h0M73.0 236.2h0M110.1 236.6h0M73.7 236.3h0M73.5 239.6h0M79.4 233.2h0M77.4 223.5h0M81.1 232.7h0M87.0 235.4h0M103.6 226.9h0M59.6 244.8h0M89.3 230.7h0M114.1 237.9h0M114.4 228.8h0M81.9 234.9h0M97.5 228.9h0M78.4 210.7h0M96.9 243.1h0M71.7 232.7h0M73.6 247.1h0M78.8 246.6h0M58.1 245.9h0M93.7 216.3h0M107.3 244.2h0M68.3 241.2h0M114.6 240.4h0M115.8 225.5h0M57.6 244.5h0M113.7 247.1h0M79.3 189.2h0M80.1 238.7h0M93.0 237.8h0M67.6 224.6h0M88.1 227.4h0M74.3 229.7h0M71.4 222.0h0M96.1 231.3h0M69.7 245.3h0M62.0 238.7h0M85.1 239.4h0M116.0 205.0h0M87.3 238.1h0M112.0 228.4h0M74.8 245.3h0M74.8 233.3h0M90.4 246.4h0M77.1 227.2h0M71.6 240.3h0M68.9 239.7h0M59.2 242.8h0M98.3 237.6h0M109.1 243.4h0M86.1 190.7h0M61.7 244.3h0M109.0 237.4h0M93.0 223.7h0M80.9 235.2h0M68.2 241.8h0M105.5 230.8h0M82.9 214.2h0M56.7 240.3h0M82.4 222.6h0M113.9 241.7h0M98.9 233.3h0M77.0 241.1h0M83.9 156.8h0M77.7 233.9h0M121.1 248.1h0M82.7 234.2h0M90.6 242.6h0M110.9 239.6h0M85.4 238.9h0M113.7 238.0h0M87.2 246.5h0M69.5 241.1h0M108.5 236.8h0M79.0 221.4h0M88.5 190.5h0M92.2 209.8h0M80.8 215.6h0M80.1 219.3h0M43.2 247.4h0M85.4 245.9h0M111.7 236.5h0M71.0 242.1h0M95.6 244.3h0M97.6 238.6h0M70.5 235.7h0M51.9 245.7h0M112.9 230.2h0M74.9 230.6h0M74.7 247.7h0M102.4 246.2h0M84.7 195.0h0M82.9 246.3h0M102.4 220.8h0" stroke="#443b84"/><path d="M92.6 246.7h0M106.9 237.3h0M101.0 245.1h0M83.7 245.0h0M99.3 244.4h0M67.4 245.9h0M107.4 243.8h0M77.3 246.0h0M118.1 247.2h0M114.4 243.5h0M116.5 246.7h0M100.4 246.4h0M102.9 239.5h0M119.5 242.9h0M97.8 240.9h0M70.2 248.2h0M89.1 246.7h0M76.7 224.8h0M73.4 247.6h0" stroke="#26818e"/><path d="M106.6 246.5h0M92.7 246.8h0M112.9 239.3h0M67.5 248.0h0M67.9 243.6h0M97.1 241.8h0M82.5 243.5h0M80.6 246.4h0M109.4 244.1h0M92.9 233.8h0M89.9 232.6h0M93.9 244.8h0M98.9 246.6h0M75.5 245.5h0M86.5 244.7h0M119.0 247.1h0M74.8 238.8h0M98.8 246.4h0M50.5 247.8h0M100.7 235.0h0M114.3 240.4h0M116.1 243.7h0M86.9 225.4h0M95.0 244.3h0M78.0 247.4h0M94.9 243.7h0" stroke="#228b8d"/><path d="M90.4 245.2h0M78.8 243.6h0M51.6 245.9h0M98.6 248.3h0M85.3 236.2h0M94.9 238.1h0M100.2 234.7h0M112.4 244.4h0M100.1 247.0h0M100.2 244.9h0M121.9 246.8h0M108.1 247.7h0M100.2 241.0h0M55.6 247.8h0M100.5 242.2h0M121.1 246.9h0M99.1 248.1h0M63.7 244.9h0M103.0 244.3h0" stroke="#1f958b"/><path d="M82.2 243.2h0" stroke="#2fb47c"/><path d="M82.3 207.8h0M79.1 189.8h0M80.2 199.5h0" stroke="#482071"/><path d="M105.7 243.7h0M94.1 244.6h0M119.3 244.9h0M112.7 229.0h0M113.0 243.5h0M78.4 236.6h0M67.8 247.1h0M83.9 242.9h0M106.7 234.0h0M103.1 244.3h0M88.7 226.9h0M79.0 239.4h0M115.9 248.1h0M77.9 244.8h0M79.6 248.1h0M118.4 238.2h0M64.6 238.6h0M111.3 238.7h0" stroke="#2a768e"/><path d="M72.2 241.6h0M83.4 248.0h0M82.4 237.0h0M105.9 238.4h0M82.0 237.2h0M86.2 245.3h0M103.6 236.3h0" stroke="#42be71"/><path d="M117.6 245.0h0M70.2 248.0h0M89.4 243.1h0M105.3 238.8h0M78.6 247.0h0" stroke="#58c765"/><path d="M68.6 241.1h0M77.1 244.4h0M59.0 243.5h0" stroke="#70cf57"/><path d="M93.6 242.1h0M70.6 246.5h0M104.2 246.1h0" stroke="#24aa83"/><path d="M96.5 246.4h0M71.9 246.0h0" stroke="#1fa088"/><path d="M73.8 223.3h0M114.6 240.1h0M93.1 241.5h0M113.4 221.7h0M91.8 242.2h0M49.0 245.9h0M106.8 243.5h0M87.4 217.5h0M114.4 241.4h0M50.4 247.9h0M104.0 246.1h0M111.8 224.7h0M102.4 228.8h0M74.4 240.5h0M86.9 240.6h0M56.9 243.3h0M87.5 235.4h0M55.9 244.4h0M87.9 222.3h0M82.0 245.2h0M79.1 237.9h0M74.9 220.7h0M102.9 245.1h0M104.5 242.1h0M98.3 239.9h0M51.4 244.7h0M71.1 241.1h0M108.0 236.0h0M100.8 235.7h0M93.7 246.7h0M112.9 241.8h0M86.6 247.0h0M99.1 243.6h0M89.4 241.6h0M81.7 232.9h0M60.2 246.2h0M87.5 228.5h0M74.7 213.5h0M92.8 241.2h0M85.0 236.3h0M80.5 244.6h0M117.9 240.2h0M74.2 243.1h0M79.4 247.9h0M86.4 244.7h0M95.7 245.1h0M38.0 247.1h0M89.3 237.2h0M85.7 236.1h0M69.7 243.6h0M105.1 243.7h0M80.2 244.0h0M63.4 238.8h0M90.7 240.1h0M61.1 245.2h0M79.6 229.3h0M85.3 247.6h0M76.6 227.0h0M111.4 223.8h0M81.2 227.4h0M81.7 240.8h0M101.7 246.9h0M70.5 234.5h0M72.3 241.6h0M80.0 231.0h0M63.8 245.3h0M50.6 238.0h0M70.7 246.9h0M115.4 245.0h0M72.9 246.8h0M83.0 244.5h0M85.9 242.5h0M98.2 238.0h0M64.6 243.3h0M98.4 219.2h0M65.6 245.2h0M114.0 232.8h0M77.3 233.5h0M83.0 235.8h0M84.7 227.9h0M106.1 210.0h0M96.1 225.4h0M80.6 248.3h0M114.3 245.5h0M94.8 237.8h0M77.6 231.1h0M59.4 245.5h0M94.1 232.5h0M102.2 244.1h0M98.2 233.5h0M102.5 240.0h0M107.0 245.4h0M44.4 248.0h0M72.0 243.8h0M74.2 234.6h0M65.9 242.4h0M120.3 238.4h0M78.2 239.9h0M77.3 234.2h0M90.4 247.9h0M108.5 242.0h0M84.4 243.4h0M84.0 235.3h0M71.9 236.5h0M73.3 240.8h0M77.3 231.6h0M102.5 244.9h0M117.3 225.2h0M111.6 218.7h0M86.6 246.0h0M69.9 235.9h0M91.5 232.4h0M88.5 241.2h0M110.8 245.2h0M81.4 239.5h0M101.4 232.6h0M117.5 240.8h0M107.1 233.9h0M97.1 242.3h0M75.5 228.8h0M83.0 239.8h0M112.1 235.4h0M84.1 228.6h0M84.3 213.1h0M36.9 245.9h0M103.0 241.1h0M94.2 241.1h0M117.6 234.1h0M109.8 242.0h0M98.9 244.4h0M84.7 222.3h0M76.8 245.3h0M86.6 240.4h0M94.4 241.4h0M112.7 242.0h0M72.7 247.2h0M104.2 232.8h0M74.7 243.4h0M114.4 226.7h0M88.0 238.6h0M98.1 241.7h0M116.8 243.6h0M81.9 241.0h0M100.8 153.6h0M88.3 240.9h0M96.4 242.8h0M116.5 236.0h0M74.0 243.1h0M67.0 229.3h0M103.6 229.3h0M71.8 214.6h0M88.8 241.7h0M71.1 221.5h0M58.6 231.9h0M84.8 224.0h0M70.5 244.1h0M67.9 243.0h0M91.4 233.6h0M118.3 247.7h0M102.5 232.3h0M110.3 243.1h0M84.6 236.4h0M91.7 198.7h0M64.1 237.2h0M107.1 223.2h0M50.5 247.3h0M76.2 241.4h0M74.5 240.2h0M89.8 245.7h0M84.4 225.2h0M82.0 235.3h0M49.5 245.5h0M79.8 245.8h0M77.1 245.6h0M63.3 236.6h0M78.4 242.2h0M92.9 242.0h0M82.3 236.2h0M104.9 241.3h0M71.5 231.3h0M88.2 244.2h0M117.6 244.2h0M116.7 207.0h0M87.6 245.7h0M88.4 232.4h0M48.1 246.3h0M62.5 248.2h0M80.3 243.3h0M86.1 217.3h0M111.1 225.0h0M76.7 229.7h0M73.5 239.0h0M50.8 245.9h0M82.4 248.0h0M86.1 233.9h0M86.9 242.8h0" stroke="#443b84"/><path d="M78.4 236.4h0M104.2 241.8h0M68.9 248.3h0M64.6 243.4h0M113.2 239.6h0M88.5 200.2h0M104.6 244.2h0M61.3 239.4h0M77.4 240.8h0M114.8 242.4h0M102.7 228.8h0M77.4 235.6h0M86.1 241.1h0M89.9 236.2h0M58.8 240.3h0M90.3 213.9h0M73.8 243.6h0M77.1 215.6h0M68.8 248.1h0M113.7 233.8h0M71.5 238.5h0M44.3 247.9h0M75.2 236.4h0M104.8 239.8h0M76.8 232.7h0M103.6 227.2h0M81.1 242.5h0M88.6 225.4h0M105.0 234.8h0M69.9 233.7h0M89.3 215.7h0M91.0 240.4h0M60.5 238.6h0M92.0 238.8h0M95.9 229.2h0M100.5 244.6h0M50.5 246.8h0M75.7 213.0h0M82.4 243.2h0M70.6 242.4h0M74.9 233.1h0M74.0 241.8h0M75.6 239.5h0M110.7 242.9h0M68.6 248.2h0M116.2 237.0h0M98.5 227.5h0M100.7 229.5h0M84.7 237.9h0M77.5 237.6h0M104.9 248.0h0M79.2 244.6h0M77.9 231.6h0M102.7 243.7h0M109.8 221.7h0M45.2 246.3h0M78.7 240.3h0M119.5 240.6h0M68.5 241.7h0M63.0 235.1h0M70.1 247.7h0M85.8 207.7h0M96.0 237.4h0M77.5 229.7h0M101.9 228.5h0M87.9 224.6h0M76.4 243.8h0M94.1 230.7h0M69.5 243.1h0M89.2 241.9h0M109.3 240.6h0M118.1 237.4h0M85.3 216.0h0M62.4 238.4h0M90.6 223.5h0M66.0 229.0h0M87.6 244.8h0M53.2 243.8h0M91.6 238.8h0M78.6 234.1h0M115.8 239.8h0M109.3 236.3h0M101.5 232.8h0M113.8 239.8h0M113.3 239.1h0M84.6 194.1h0M108.8 236.4h0M116.9 235.8h0M69.9 248.2h0M117.0 239.6h0M104.9 243.6h0M103.4 221.3h0M87.4 229.9h0M108.8 224.3h0M114.0 234.0h0M89.4 227.1h0M96.2 237.2h0M113.6 239.4h0M79.9 246.4h0M88.7 223.4h0M75.2 239.4h0M82.0 232.3h0M82.0 238.4h0M104.2 225.4h0M110.7 245.5h0M113.8 238.6h0M103.5 239.4h0M97.5 244.9h0M105.7 239.2h0M115.4 229.6h0M65.0 242.7h0M97.4 243.1h0M69.7 241.2h0M97.2 227.4h0M62.9 240.0h0M95.4 243.9h0M95.6 234.5h0M121.6 245.1h0M60.4 237.2h0M100.3 236.2h0M82.1 219.5h0M116.9 190.2h0M110.2 247.8h0M89.1 245.7h0M91.0 242.3h0M88.9 243.1h0M115.1 224.1h0M102.5 234.7h0M85.5 244.5h0M96.5 248.3h0M61.6 243.4h0M102.3 244.9h0M89.6 229.5h0M78.0 229.5h0M63.8 241.3h0M81.7 240.3h0M116.0 240.2h0M102.1 243.2h0M63.4 234.6h0M72.2 220.1h0M95.9 240.3h0M77.4 236.9h0M70.5 240.8h0M72.9 241.4h0M103.2 240.1h0M111.5 241.1h0M109.3 246.2h0M69.4 246.6h0M87.2 213.1h0M58.9 247.3h0M79.2 244.8h0M117.6 243.3h0M74.8 215.0h0M101.1 236.9h0M51.3 246.1h0M120.2 243.1h0M75.4 243.4h0M82.4 232.9h0M110.8 240.1h0M107.4 237.6h0M91.2 238.7h0M93.6 236.2h0M91.6 237.7h0M120.6 240.9h0M108.9 231.5h0M72.7 244.8h0M79.2 227.8h0M72.3 228.7h0M103.5 214.7h0M70.8 236.1h0M94.2 235.0h0M54.1 243.8h0M83.7 233.1h0M111.5 240.1h0M89.4 229.1h0M64.8 246.2h0M102.1 230.6h0M62.6 240.0h0M65.6 247.2h0M90.3 229.9h0M108.0 242.2h0M113.0 243.9h0M100.6 229.9h0M98.8 239.6h0M81.9 231.2h0M71.8 243.5h0M77.4 229.1h0M98.0 234.7h0M104.5 226.5h0M88.3 230.8h0M81.0 234.7h0M86.9 224.5h0M80.3 220.7h0M63.9 247.8h0M85.7 247.6h0M75.4 240.3h0M85.7 246.6h0M36.7 247.4h0M71.1 220.7h0M82.0 234.0h0M75.4 241.2h0M61.3 241.0h0M77.2 233.3h0M77.4 203.8h0M83.7 198.1h0M66.3 240.9h0M65.0 247.4h0M95.1 242.5h0M71.9 242.0h0M119.6 241.1h0M74.3 243.6h0M94.6 239.6h0M79.3 226.0h0M90.4 230.4h0M88.9 232.0h0M61.4 247.2h0M99.7 204.3h0M116.2 243.6h0M91.0 218.4h0M82.7 229.4h0M61.8 235.0h0M47.4 248.0h0M103.7 241.9h0M77.9 228.2h0M94.6 219.8h0M99.5 228.4h0M70.2 240.6h0M83.5 244.6h0M82.6 223.8h0M77.1 237.6h0M87.5 246.8h0M91.5 239.8h0M100.9 244.6h0M96.2 243.5h0M80.0 234.1h0" stroke="#3f4889"/><path d="M106.9 228.1h0M85.7 234.8h0M72.6 230.0h0M71.1 244.0h0M49.1 246.0h0M89.3 201.4h0M100.6 240.2h0M66.7 244.5h0M67.6 243.5h0M97.4 246.0h0M90.1 247.5h0M71.5 244.6h0M64.5 247.4h0M88.7 243.4h0M84.4 244.8h0M103.4 247.5h0M116.8 237.5h0M65.4 243.1h0M71.8 240.4h0M83.5 206.7h0M98.2 238.6h0M100.0 244.2h0M86.5 229.7h0M105.5 240.5h0M86.0 225.4h0M51.4 243.0h0M98.5 237.7h0M53.4 246.4h0M92.1 237.1h0M59.9 245.8h0M62.9 244.0h0M67.1 241.0h0M108.4 230.0h0M97.0 248.1h0M74.7 244.8h0M68.7 245.1h0M82.0 225.1h0M78.2 243.5h0M84.3 234.7h0M69.7 242.7h0M113.1 242.9h0M82.3 242.7h0M87.6 240.0h0M106.0 234.3h0M76.7 235.5h0M117.1 242.3h0M76.9 241.7h0M86.4 247.3h0M66.0 245.8h0M63.4 239.9h0M57.5 243.0h0M71.5 245.5h0" stroke="#34608d"/><path d="M61.5 244.3h0M98.9 243.0h0M91.1 236.1h0M119.6 246.4h0M117.9 245.8h0M78.7 246.4h0M115.5 248.2h0M119.5 247.0h0M87.0 247.1h0M88.5 247.8h0M84.8 246.5h0M111.0 246.4h0M119.5 246.0h0M84.2 246.8h0M91.7 245.7h0M81.8 246.9h0M96.3 246.1h0M82.8 242.8h0M87.7 247.9h0M119.9 244.7h0M95.4 246.9h0M55.5 245.3h0M78.9 245.8h0M106.9 247.2h0M94.9 245.8h0M83.9 246.7h0M84.9 244.6h0M121.7 241.9h0M110.3 246.2h0M114.3 246.7h0M51.6 242.4h0M106.3 247.8h0M89.9 246.0h0M74.3 246.1h0M106.0 246.8h0M90.5 247.0h0" stroke="#fde725"/><path d="M81.6 236.8h0M91.2 247.9h0M58.6 245.3h0M50.1 245.3h0M53.4 247.4h0M73.4 244.6h0M86.8 204.0h0M106.1 235.5h0M73.7 244.6h0M81.6 221.8h0M90.6 243.3h0M82.4 236.7h0M80.0 233.7h0M97.7 246.2h0M65.4 247.4h0M77.6 243.5h0M79.3 238.0h0M102.2 230.2h0M73.1 244.4h0M80.8 245.2h0M77.2 241.0h0M111.3 239.3h0M81.2 233.1h0M45.8 247.9h0M89.4 220.4h0M90.8 248.0h0M101.1 246.0h0M88.4 242.9h0M84.8 234.3h0M89.9 207.8h0M88.0 245.2h0M80.8 236.6h0M90.9 238.7h0M80.2 240.3h0M68.5 225.8h0M72.3 247.6h0M70.4 247.2h0M79.9 221.4h0M81.4 235.5h0M118.4 243.0h0M84.0 224.4h0M100.6 243.2h0M102.9 243.6h0M62.8 245.1h0M90.4 237.8h0M60.5 234.1h0M85.7 233.6h0M67.5 242.8h0M82.0 235.3h0M90.1 231.6h0M105.8 222.4h0M99.2 223.5h0M109.5 220.9h0M70.7 242.8h0M70.1 245.0h0M94.0 240.1h0M90.1 245.5h0M83.8 241.5h0M109.3 224.7h0M66.9 231.0h0M86.3 241.6h0M104.5 245.7h0M87.5 227.6h0M88.0 220.9h0M66.5 228.3h0M94.9 246.7h0M90.1 217.0h0M80.5 236.5h0M100.7 245.7h0M113.3 227.7h0M82.3 234.9h0M77.4 234.3h0M78.7 245.8h0M76.5 237.8h0M87.3 222.3h0M67.0 239.5h0M69.6 247.5h0M92.7 232.8h0M90.6 213.4h0M93.1 232.5h0M113.9 244.2h0M78.9 243.9h0M85.3 234.3h0M67.7 244.2h0M91.7 218.3h0M93.5 223.4h0M95.6 246.5h0M98.8 241.7h0M94.3 225.2h0M54.4 246.5h0M80.3 232.1h0M84.6 241.5h0M88.8 228.4h0M34.5 246.6h0M114.2 220.2h0M100.4 243.1h0M96.5 243.8h0M64.7 244.3h0M78.7 248.0h0M69.4 235.5h0M66.3 239.9h0M100.1 233.2h0M47.4 248.2h0M72.3 240.3h0M102.9 245.5h0M80.3 243.2h0M82.2 242.0h0M78.0 236.8h0M87.2 189.3h0M87.0 229.5h0M91.6 197.9h0M109.3 242.2h0M114.8 234.5h0M91.6 237.2h0M66.1 238.1h0M85.3 226.5h0M117.4 241.3h0M120.2 243.9h0M80.8 247.1h0M105.3 239.3h0M78.4 230.7h0M90.0 222.9h0M104.0 244.2h0M93.8 231.3h0M107.1 240.8h0M116.5 240.9h0M111.5 228.9h0M74.0 242.0h0M98.5 235.9h0M95.1 244.0h0M102.5 235.1h0M107.5 246.8h0M51.1 248.1h0M90.1 226.8h0M112.4 232.3h0M53.2 246.7h0M84.6 243.6h0M91.7 232.7h0M76.1 240.0h0M62.5 241.4h0" stroke="#3a548c"/><path d="M80.2 234.3h0M99.5 242.0h0M117.3 240.5h0M116.1 244.9h0M71.8 238.0h0M51.5 246.5h0M120.1 242.7h0M120.8 237.6h0M105.6 239.9h0M82.6 235.3h0M98.4 232.7h0M93.4 241.1h0M84.7 192.3h0M72.0 235.9h0M88.7 217.4h0M62.1 247.4h0M103.1 231.4h0M95.4 246.1h0M61.8 247.0h0M73.8 229.9h0M66.8 246.4h0M75.9 243.2h0M86.6 236.9h0M101.4 226.9h0M100.5 232.5h0M110.1 228.6h0M71.2 239.3h0M73.1 246.0h0M120.9 246.6h0M111.7 231.0h0M85.5 245.9h0M80.0 229.4h0M79.7 227.9h0M71.6 235.5h0M111.5 232.0h0M105.9 237.2h0M108.7 244.9h0M76.0 232.3h0M85.6 229.2h0M109.9 245.6h0M107.0 225.4h0M59.0 247.7h0M97.0 246.2h0M96.6 235.1h0M95.7 246.1h0M106.5 228.4h0M110.0 232.5h0M85.5 230.6h0M112.4 241.6h0M98.3 240.7h0M64.1 241.9h0M110.0 230.3h0M79.5 235.7h0M71.3 234.3h0M108.2 239.6h0M75.6 239.0h0M66.1 242.2h0M77.7 237.6h0M73.2 228.0h0M90.7 239.8h0M55.3 244.9h0M98.2 234.1h0M117.7 232.9h0M100.9 235.0h0M84.6 239.2h0M108.6 234.3h0M53.3 242.1h0M91.5 244.3h0" stroke="#472e7c"/><path d="M70.5 244.1h0M115.7 244.9h0M114.9 244.8h0M78.9 229.3h0M88.6 240.2h0M99.9 247.3h0M79.9 238.8h0M80.9 246.9h0M89.6 227.0h0M72.0 245.1h0M108.4 243.7h0M55.9 244.4h0M103.2 245.7h0M127.8 237.0h0M72.3 236.4h0M108.4 246.9h0" stroke="#1f958b"/><path d="M80.1 245.9h0M113.5 247.1h0M99.4 245.6h0" stroke="#70cf57"/><path d="M81.2 241.6h0M97.5 239.2h0M117.5 246.2h0M66.0 241.3h0M112.3 230.0h0M88.5 243.3h0M117.2 245.4h0M101.5 245.4h0M112.9 240.5h0M65.8 244.1h0M79.8 189.2h0M86.0 237.2h0M54.4 245.7h0M79.4 233.3h0M60.3 244.9h0M94.8 244.8h0M106.6 243.4h0M71.5 245.2h0M56.2 246.2h0M98.7 248.0h0M106.1 244.2h0M81.1 245.0h0M119.8 246.2h0M115.5 233.9h0" stroke="#2f6c8e"/><path d="M109.1 248.1h0M93.1 246.9h0M61.3 240.2h0M99.3 246.8h0M111.3 248.1h0M117.5 247.9h0" stroke="#42be71"/><path d="M105.9 248.1h0M80.3 240.0h0M117.3 246.1h0M93.8 245.3h0M101.1 245.3h0M90.7 226.8h0M104.8 246.9h0M96.2 243.8h0M76.3 244.4h0M103.8 246.8h0M82.7 232.2h0M73.3 247.0h0M113.7 243.8h0M109.3 246.6h0M73.3 247.8h0M79.0 238.7h0M106.0 239.2h0M92.7 243.7h0M95.6 246.3h0M102.9 247.1h0M73.2 241.0h0" stroke="#228b8d"/><path d="M112.4 194.5h0M107.6 208.0h0M109.6 188.2h0" stroke="#482071"/><path d="M85.2 221.0h0M74.2 246.6h0M113.6 237.1h0M114.3 244.5h0M94.7 244.6h0M61.9 240.4h0M96.0 237.0h0M82.8 237.2h0M88.8 244.5h0M92.5 246.0h0M113.7 241.4h0M97.8 236.6h0M74.4 245.8h0M59.3 247.0h0M95.9 241.4h0M62.7 241.8h0M104.3 241.1h0M54.4 243.5h0M77.2 248.1h0M98.4 246.0h0M74.0 240.3h0M111.2 246.9h0" stroke="#2a768e"/><path d="M77.4 233.1h0M83.3 247.4h0M81.9 247.5h0M82.3 238.1h0M70.0 247.2h0M94.7 245.2h0M84.1 237.3h0M55.6 246.0h0M34.5 248.0h0M116.1 225.2h0" stroke="#26818e"/><path d="M118.4 241.5h0M91.1 235.2h0M99.1 248.2h0M61.6 243.6h0M90.7 233.0h0M67.0 245.2h0M97.9 245.8h0M52.1 243.3h0" stroke="#2fb47c"/><path d="M113.4 241.5h0M90.4 246.4h0M115.7 248.0h0M105.6 246.4h0M102.2 246.0h0" stroke="#24aa83"/><path d="M79.8 247.5h0M95.9 243.7h0" stroke="#8bd646"/><path d="M105.1 246.6h0M70.7 248.2h0M108.9 241.5h0M118.8 246.2h0M118.9 241.2h0" stroke="#58c765"/><path d="M80.5 244.1h0M102.3 236.0h0M102.3 236.0h0M88.4 240.2h0M118.4 248.0h0M94.1 245.9h0M93.0 236.4h0M49.7 248.0h0M91.3 245.5h0M57.7 238.6h0M109.2 241.1h0M111.8 242.2h0M118.7 245.1h0M72.7 246.4h0M70.4 237.8h0M105.8 241.5h0M84.7 237.6h0M67.0 243.6h0M102.7 223.3h0M88.7 243.8h0M77.1 246.3h0M105.4 238.3h0M95.6 247.3h0M107.0 247.3h0M110.7 237.9h0M114.7 247.6h0" stroke="#2f6c8e"/><path d="M114.2 244.6h0M99.1 247.5h0M65.1 238.1h0M91.9 241.3h0M77.0 210.5h0M80.6 220.0h0M77.6 247.5h0M99.7 241.5h0M115.3 232.5h0M76.5 241.4h0M87.2 217.7h0M89.4 219.9h0M87.9 238.5h0M117.1 243.5h0M107.4 243.8h0M87.4 239.9h0M77.0 242.0h0M45.3 248.1h0M113.1 247.9h0M81.1 222.9h0M102.2 245.1h0M97.3 241.0h0M75.3 245.4h0M105.3 237.7h0M64.3 225.6h0M80.8 222.8h0M68.6 248.1h0M74.0 236.4h0M91.8 226.0h0M105.7 242.9h0M99.7 242.7h0M74.2 244.2h0M87.5 247.3h0M112.5 237.2h0M78.6 236.5h0M64.3 245.8h0M79.3 227.2h0M96.4 247.0h0M61.4 245.7h0M98.9 239.1h0M86.4 235.4h0M110.7 242.8h0M86.5 241.6h0M94.7 242.3h0M87.2 244.8h0M79.7 240.3h0M65.8 241.2h0M91.3 229.9h0M97.1 225.5h0M79.3 239.3h0M78.5 246.0h0M98.5 236.6h0M85.4 242.8h0M42.1 248.0h0M103.8 237.4h0M84.7 247.9h0M99.4 243.5h0M109.3 228.7h0M96.5 246.5h0M117.1 246.3h0M116.2 233.7h0M69.7 246.6h0M102.4 235.3h0M102.3 231.9h0M76.8 224.3h0M82.6 222.5h0M79.2 239.2h0M95.9 239.3h0M81.6 224.3h0M75.8 226.3h0M96.0 241.8h0M74.0 224.8h0M78.0 230.7h0M44.5 245.8h0M116.6 242.4h0M68.1 247.0h0M75.3 243.0h0M80.4 195.0h0M83.7 247.9h0M101.8 237.3h0M95.2 242.5h0M78.1 243.6h0M91.0 242.5h0M111.7 247.2h0M70.5 244.4h0M82.4 231.8h0M87.6 245.7h0M116.4 238.1h0M81.5 235.0h0M94.3 223.1h0M78.4 246.6h0M89.8 228.6h0M85.1 244.2h0M89.6 243.0h0M113.0 239.4h0M68.6 240.3h0M65.6 241.4h0M82.1 220.1h0M90.8 232.8h0M87.4 223.2h0M92.6 230.4h0M94.7 248.0h0M90.0 243.3h0M99.9 230.3h0M105.9 244.7h0M75.2 227.3h0M110.9 244.5h0M75.0 233.9h0M103.7 237.5h0M107.5 239.4h0M102.5 240.2h0M87.8 230.6h0M71.3 243.7h0M86.8 232.3h0M86.4 221.8h0M78.0 220.5h0M78.0 233.5h0M112.9 242.1h0M110.5 228.5h0M47.0 247.5h0M101.6 231.5h0M90.1 243.5h0M76.8 241.6h0M120.0 240.9h0M93.2 243.1h0M118.7 236.1h0M109.5 235.9h0M74.5 231.9h0M71.0 244.7h0M93.0 239.5h0M104.4 236.9h0M90.4 230.1h0M106.5 242.2h0M47.3 246.1h0M90.9 221.3h0M89.3 245.5h0M82.4 231.7h0M67.2 245.4h0M87.0 205.4h0M95.1 237.8h0M100.2 241.2h0M71.2 242.4h0M82.9 245.2h0M85.0 241.1h0M89.3 208.9h0M91.8 233.9h0M86.1 246.3h0M104.4 239.5h0M99.2 235.9h0M106.5 220.4h0M98.0 235.4h0M107.3 233.9h0M84.7 232.3h0M51.4 246.0h0M118.4 243.7h0M98.2 240.6h0M73.5 238.9h0M106.3 243.7h0M83.3 226.0h0M58.2 247.2h0M102.0 236.2h0" stroke="#3a548c"/><path d="M80.5 245.2h0M82.8 246.8h0M96.0 247.2h0M118.0 242.1h0M96.3 244.1h0M75.5 245.7h0M77.1 241.0h0M96.4 244.0h0M89.2 237.0h0M93.2 242.1h0M101.1 245.3h0M117.3 233.1h0M88.7 222.0h0M75.8 243.7h0M101.5 246.4h0M86.8 245.5h0M79.8 237.2h0M114.8 244.4h0M91.1 234.2h0M72.9 237.9h0M81.0 233.5h0M112.5 237.7h0M84.2 239.3h0M84.2 239.0h0M100.1 235.3h0M89.7 236.1h0M76.6 241.9h0M90.6 222.1h0M108.2 238.7h0M92.1 224.1h0M116.9 222.7h0M76.2 235.3h0M87.1 245.9h0M105.4 238.3h0M116.7 244.1h0M101.3 234.7h0M113.9 245.0h0M105.5 234.6h0M87.3 236.4h0M117.1 237.0h0M93.3 245.3h0M111.5 240.6h0M99.7 231.4h0M52.6 244.9h0M63.4 239.2h0M76.1 232.2h0M67.4 240.7h0M89.2 247.8h0M87.1 227.7h0M83.3 227.1h0M115.3 242.1h0M108.3 223.2h0M87.0 232.2h0M73.8 237.5h0M88.8 231.1h0M78.0 231.5h0M74.3 223.9h0M68.0 245.7h0M92.6 240.0h0M105.0 222.3h0M100.5 245.5h0M62.2 235.8h0M114.7 240.8h0M86.5 246.2h0M68.5 246.4h0M77.7 240.8h0M84.8 235.4h0M79.6 162.5h0M67.2 237.9h0M89.4 204.4h0M110.1 243.9h0M78.4 231.9h0M67.0 235.4h0M110.7 236.5h0M64.7 238.3h0M85.3 221.0h0M88.5 233.5h0M73.5 228.4h0M84.5 234.3h0M99.1 242.9h0M79.4 242.5h0M89.7 241.8h0M90.3 225.5h0M48.5 243.9h0M86.4 240.8h0M78.7 230.6h0M107.4 224.5h0M87.3 231.1h0M96.5 244.6h0M77.5 239.1h0M85.2 212.1h0M87.4 244.3h0M114.1 245.6h0M114.7 237.7h0M88.5 242.0h0M60.8 247.7h0M97.7 244.8h0M76.0 242.3h0M85.1 225.4h0M103.2 238.0h0M87.7 238.8h0M82.3 245.4h0M103.1 241.9h0M61.3 246.5h0M111.3 237.4h0M75.3 236.3h0M118.3 237.7h0M81.4 243.7h0M102.1 218.3h0M64.2 245.7h0M48.2 246.8h0M79.5 235.9h0M88.9 244.3h0M69.5 248.0h0M106.9 244.3h0M122.3 248.3h0M71.4 245.9h0M65.2 239.8h0M95.2 247.1h0M109.6 236.5h0M77.7 243.7h0M75.0 237.3h0M66.5 240.5h0M76.4 243.2h0M117.8 236.5h0M97.0 245.1h0M106.5 240.6h0M48.9 247.2h0M90.1 228.5h0M90.7 238.5h0M75.8 237.4h0M95.8 234.3h0M77.3 240.1h0M85.5 237.8h0M119.0 241.8h0M92.2 245.8h0M85.8 240.2h0M75.5 239.8h0M96.0 235.7h0M102.4 242.3h0M78.6 228.1h0M109.6 240.3h0M93.0 246.4h0M112.7 237.4h0M85.8 223.8h0M105.6 212.1h0M66.3 241.9h0M114.2 245.4h0M94.9 247.7h0M64.1 247.8h0M76.6 238.7h0M94.2 225.9h0M114.3 242.1h0M108.6 233.7h0M102.7 243.8h0M63.4 236.1h0M71.8 244.2h0M79.1 238.7h0M94.6 238.3h0M72.7 241.8h0M107.4 238.0h0M73.2 211.5h0M79.5 231.3h0M60.3 238.3h0M115.8 236.3h0M75.7 231.4h0M99.6 214.2h0M102.7 237.9h0M70.6 244.8h0M110.8 233.9h0M76.4 230.5h0M90.5 231.9h0M70.1 246.0h0M67.2 239.9h0M97.0 242.5h0M94.1 236.1h0M111.3 232.6h0M50.8 243.3h0M107.2 239.0h0M67.2 246.4h0M92.5 236.1h0M88.7 247.8h0M60.9 243.9h0M98.7 245.6h0M84.7 239.3h0M103.2 230.2h0M101.5 238.0h0M65.5 247.3h0M85.7 245.3h0M83.8 227.7h0M74.7 244.4h0M69.6 242.6h0M107.8 246.7h0M110.9 237.5h0M59.7 242.0h0M109.1 219.4h0M95.5 240.3h0M95.4 238.1h0M108.7 235.6h0M93.2 245.4h0M76.2 234.8h0M101.6 245.8h0M116.4 247.7h0M115.5 225.2h0M70.9 231.5h0M82.0 227.2h0M97.6 228.7h0M105.2 237.3h0M64.6 238.0h0M77.3 228.8h0M79.5 244.4h0M79.0 241.4h0M104.2 240.1h0M93.6 243.7h0M94.6 235.9h0M72.8 233.8h0M110.6 229.9h0M109.5 240.4h0M82.3 240.1h0M95.5 235.7h0M115.2 237.3h0M93.6 243.5h0M91.2 245.4h0M87.5 228.1h0M84.3 234.7h0M81.0 237.1h0M85.9 229.9h0M96.9 224.9h0M85.0 230.4h0M118.1 237.4h0M84.4 213.3h0M111.3 236.3h0M75.4 245.3h0M60.5 239.8h0M94.7 240.7h0M103.1 242.2h0M67.3 247.0h0M77.2 245.7h0M118.3 239.5h0M116.6 243.9h0M77.6 238.7h0M80.9 203.3h0M50.3 246.5h0M115.5 236.2h0" stroke="#3f4889"/><path d="M109.4 233.2h0M103.1 247.2h0M98.9 223.4h0M96.3 235.6h0M81.8 234.0h0M81.4 237.4h0M112.4 234.9h0M43.3 246.0h0M103.2 232.2h0M115.6 243.8h0M78.3 238.0h0M119.0 243.5h0M98.5 241.9h0M82.6 234.6h0M113.1 242.6h0M77.7 228.7h0M75.9 234.0h0M103.6 238.7h0M94.3 247.1h0M67.3 236.6h0M110.6 233.7h0M67.4 234.6h0M112.0 246.0h0M57.5 246.1h0M58.8 245.9h0M79.4 238.3h0M97.1 247.0h0M101.6 224.3h0M73.0 237.8h0M119.9 240.0h0M73.9 233.9h0M40.9 247.2h0M117.2 231.9h0M65.4 245.2h0M83.4 227.4h0M101.2 230.4h0M75.5 221.0h0M106.2 231.6h0M51.1 244.7h0M98.8 242.0h0M79.5 232.0h0M79.0 233.0h0M112.1 222.8h0M80.8 244.4h0M71.1 239.8h0M106.8 225.1h0M121.9 245.9h0M73.1 236.7h0M65.1 245.9h0M81.1 237.3h0M75.3 232.9h0M117.0 234.0h0M112.9 244.2h0M99.5 240.8h0M67.1 245.8h0M66.1 248.3h0M85.0 246.6h0M111.0 204.9h0M76.2 234.1h0M46.2 247.9h0M117.1 244.4h0M90.7 246.0h0" stroke="#472e7c"/><path d="M107.9 241.6h0M90.0 231.8h0M71.9 247.3h0M84.5 235.6h0M109.7 247.3h0M83.1 229.2h0M91.4 232.2h0M82.2 238.0h0M104.1 238.8h0M115.5 234.0h0M65.0 231.3h0M88.7 246.7h0M87.4 237.1h0M115.1 242.8h0M109.3 232.1h0M102.2 247.5h0M84.6 238.9h0M115.3 247.8h0M77.7 242.9h0M76.2 243.7h0M69.8 241.5h0M85.7 236.2h0M105.0 235.7h0M111.4 248.0h0M91.5 241.2h0M66.4 242.1h0M81.2 215.9h0M87.5 247.7h0M121.5 243.9h0M33.3 247.3h0M78.5 243.9h0M116.0 234.8h0M76.7 237.6h0M87.3 241.5h0M104.4 242.5h0M79.1 231.3h0M41.5 247.9h0M93.2 244.8h0M107.5 241.5h0M95.6 236.4h0M118.3 238.0h0M117.1 240.8h0M95.4 229.5h0M77.5 247.8h0M59.2 239.8h0M87.7 235.6h0M105.8 237.6h0M111.5 243.6h0M46.7 248.3h0M85.4 247.9h0M90.8 240.0h0M110.8 232.1h0" stroke="#34608d"/><path d="M105.8 247.9h0M112.2 241.5h0M104.2 241.7h0M62.6 237.4h0M100.2 241.9h0M103.1 245.0h0M91.0 246.5h0M66.2 242.3h0M44.9 241.0h0M100.4 246.5h0M72.4 238.7h0M96.0 237.9h0M100.2 237.4h0M54.9 246.1h0M77.6 233.4h0M83.4 240.7h0M116.1 225.1h0M75.6 245.0h0M100.2 246.1h0M117.7 243.0h0M98.7 243.8h0M114.4 241.5h0M94.3 248.2h0M81.5 237.0h0M85.4 240.5h0M111.6 214.4h0M77.9 236.5h0M110.1 244.5h0M108.3 244.6h0M61.3 242.8h0" stroke="#2a768e"/><path d="M104.5 233.5h0M92.5 240.8h0M64.7 245.7h0M82.9 196.4h0M88.8 174.6h0M66.8 247.2h0M78.2 226.1h0M95.2 234.9h0M77.9 234.0h0M94.1 233.0h0M77.7 231.5h0M62.7 244.5h0M89.3 230.8h0M63.2 239.1h0M79.7 237.7h0M77.8 247.8h0M81.3 229.5h0M68.7 247.3h0M118.7 244.4h0M117.6 243.8h0M78.3 227.9h0M51.2 242.6h0M94.3 232.4h0M100.3 229.7h0M95.0 222.5h0M80.4 235.4h0M95.8 244.5h0M92.1 235.3h0M76.5 247.5h0M93.0 240.9h0M108.3 225.2h0M89.5 245.2h0M57.9 245.3h0M72.9 232.7h0M90.4 224.9h0M102.1 239.8h0M62.1 237.3h0M110.4 240.7h0M76.2 245.5h0M105.0 234.9h0M80.5 237.9h0M101.4 223.9h0M86.4 224.9h0M106.1 226.0h0M98.9 200.5h0M77.8 243.3h0M78.7 221.4h0M82.2 229.4h0M111.3 230.6h0M88.0 245.3h0M92.7 241.8h0M103.0 234.3h0M56.4 247.5h0M81.8 237.9h0M72.3 244.5h0M81.3 225.1h0M93.4 233.5h0M113.2 232.0h0M88.3 244.8h0M76.0 247.3h0M63.7 244.1h0M79.5 236.6h0M89.8 225.0h0M90.0 247.5h0M115.0 229.4h0M64.6 239.5h0M45.2 245.2h0M97.2 242.4h0M93.6 244.3h0M111.4 239.8h0M98.4 239.9h0M105.1 241.9h0M88.3 204.5h0M93.3 225.6h0M91.2 225.8h0M74.5 245.8h0M82.9 232.2h0M92.1 227.7h0M66.6 214.7h0M81.7 221.0h0M77.0 246.0h0M108.6 229.5h0M109.6 196.3h0M86.8 243.8h0M61.4 243.2h0M94.6 246.7h0M92.8 219.6h0M109.3 238.1h0M112.2 245.1h0M90.3 234.4h0M71.3 236.8h0M115.5 232.5h0M62.7 233.2h0M90.7 224.5h0M63.1 245.1h0M75.2 234.2h0M112.9 244.9h0M106.6 231.8h0M97.9 224.3h0M113.9 237.6h0M82.9 216.5h0M80.4 235.6h0M92.5 244.7h0M84.5 245.0h0M79.3 241.6h0M79.3 228.7h0M69.4 239.2h0M104.6 235.2h0M66.0 247.4h0M81.3 213.0h0M119.3 244.9h0M65.4 243.3h0M103.5 239.4h0M112.1 239.2h0M79.3 236.9h0M91.2 246.4h0M104.2 234.8h0M99.7 225.1h0M80.1 244.3h0M119.8 245.7h0M60.1 236.0h0M71.7 228.4h0M102.6 233.3h0M98.2 241.4h0M64.3 246.3h0M116.3 236.3h0M91.7 234.9h0M94.8 236.3h0M95.1 234.2h0M51.6 247.9h0M112.0 238.1h0M65.7 248.1h0M87.7 241.2h0M110.2 245.3h0M96.1 239.9h0M79.1 231.1h0M75.6 234.5h0M87.1 188.5h0M89.3 228.1h0M100.8 233.9h0M81.9 245.5h0M92.8 238.4h0M108.0 242.9h0M85.9 236.5h0M97.7 246.4h0M106.6 234.5h0M84.0 245.2h0M81.4 231.5h0M87.9 244.5h0M98.4 235.8h0M101.6 226.8h0M80.3 239.2h0M85.4 233.5h0M75.6 220.7h0M88.7 244.5h0M83.5 223.4h0M72.1 242.5h0M75.1 240.9h0M112.0 239.7h0M72.4 244.5h0M80.6 244.5h0M77.3 203.8h0" stroke="#443b84"/><path d="M108.6 234.8h0M66.2 240.6h0M95.9 246.8h0M101.4 237.2h0M99.9 243.5h0M108.2 241.3h0M80.1 216.8h0M59.0 241.0h0M78.1 235.1h0M115.8 241.8h0M104.6 230.6h0M79.7 240.0h0M113.6 228.5h0M101.1 244.0h0M119.9 248.2h0M69.0 241.5h0M78.9 246.3h0M117.0 240.6h0M93.2 239.9h0M80.9 240.3h0" stroke="#228b8d"/><path d="M106.6 239.3h0M75.2 246.0h0M117.6 248.1h0M104.9 246.2h0M110.4 247.8h0M101.8 248.0h0M109.3 246.3h0M108.0 247.5h0M85.8 247.5h0M89.4 247.5h0M91.9 246.5h0M99.0 247.6h0M105.5 246.2h0M100.5 246.4h0M84.6 248.2h0M108.4 246.1h0M73.3 246.1h0M89.8 247.6h0M75.2 236.6h0M90.4 245.7h0M104.2 247.7h0M115.6 248.3h0M79.9 246.7h0M100.0 246.5h0M81.9 248.1h0M94.9 247.9h0" stroke="#fde725"/><path d="M89.4 247.6h0M71.6 243.4h0M59.7 246.4h0M93.4 248.2h0M76.1 247.9h0M115.7 244.7h0M70.7 246.3h0M110.9 247.0h0" stroke="#70cf57"/><path d="M92.5 245.7h0" stroke="#8bd646"/><path d="M73.9 237.2h0M108.2 245.2h0M116.7 245.3h0M98.9 245.9h0M95.7 243.4h0M61.2 240.6h0M105.3 244.5h0M109.8 243.8h0M108.2 234.8h0M81.8 241.7h0M81.1 236.2h0M77.7 247.6h0M69.4 242.9h0M62.3 235.6h0M78.1 242.6h0M92.0 248.2h0M114.7 248.3h0M118.0 246.5h0M87.3 237.9h0M113.0 245.2h0M106.0 238.9h0M113.0 239.6h0" stroke="#1f958b"/><path d="M116.8 244.5h0M96.4 246.5h0" stroke="#42be71"/><path d="M116.3 241.6h0M111.1 244.7h0M84.6 247.5h0M116.3 242.7h0M112.5 237.0h0M90.4 246.3h0M90.7 236.9h0M93.2 237.7h0M106.5 248.2h0M109.2 240.0h0M81.3 237.4h0M67.8 245.8h0M81.5 239.4h0M63.4 246.6h0M103.3 247.6h0M65.3 236.5h0M98.6 239.8h0M61.6 241.5h0" stroke="#26818e"/><path d="M117.7 245.9h0M109.6 245.9h0M61.9 247.6h0M68.9 229.5h0M113.1 247.9h0M93.0 242.1h0M98.2 245.9h0M102.6 238.6h0" stroke="#24aa83"/><path d="M112.6 241.6h0M108.2 241.3h0M100.0 247.5h0M115.9 242.0h0" stroke="#2fb47c"/><path d="M104.7 199.0h0M71.3 186.5h0M102.5 203.0h0" stroke="#482071"/><path d="M72.9 240.7h0" stroke="#1fa088"/><path d="M104.8 246.0h0M43.4 247.5h0" stroke="#58c765"/></g>
<path d="M35.50 237.00C36.92 236.87 41.12 236.57 44.00 236.20C46.88 235.83 50.47 235.50 52.80 234.80C55.13 234.10 56.20 233.37 58.00 232.00C59.80 230.63 61.70 229.17 63.60 226.60C65.50 224.03 68.00 219.10 69.40 216.60C70.80 214.10 70.90 213.57 72.00 211.60C73.10 209.63 74.67 206.97 76.00 204.80C77.33 202.63 78.62 200.53 80.00 198.60C81.38 196.67 82.88 194.72 84.30 193.20C85.72 191.68 87.13 190.45 88.50 189.50C89.87 188.55 91.13 187.93 92.50 187.50C93.87 187.07 95.28 186.85 96.70 186.90C98.12 186.95 99.70 187.37 101.00 187.80C102.30 188.23 103.42 188.87 104.50 189.50C105.58 190.13 106.42 190.62 107.50 191.60C108.58 192.58 109.90 194.02 111.00 195.40C112.10 196.78 113.13 198.33 114.10 199.90C115.07 201.47 115.97 203.15 116.80 204.80C117.63 206.45 118.32 208.00 119.10 209.80C119.88 211.60 120.63 213.57 121.50 215.60C122.37 217.63 123.33 219.35 124.30 222.00C125.27 224.65 126.25 228.25 127.30 231.50C128.35 234.75 130.05 239.83 130.60 241.50" stroke="#c44e52" stroke-width="1.3" fill="none" stroke-linecap="round"/>
</g>
<rect x="30.60" y="144.70" width="106.70" height="104.20" fill="none" stroke="#606060" stroke-width="1.3"/>
<text x="35.00" y="260.80" font-size="7.40" text-anchor="middle">10<tspan dy="-2.7" font-size="5.18">−2</tspan></text>
<text x="63.90" y="260.80" font-size="7.40" text-anchor="middle">10<tspan dy="-2.7" font-size="5.18">0</tspan></text>
<text x="92.80" y="260.80" font-size="7.40" text-anchor="middle">10<tspan dy="-2.7" font-size="5.18">2</tspan></text>
<text x="121.70" y="260.80" font-size="7.40" text-anchor="middle">10<tspan dy="-2.7" font-size="5.18">4</tspan></text>
<text x="83.95" y="270.9" font-size="7.75" text-anchor="middle">GDP (Million Dollars)</text>
<clipPath id="cb1"><rect x="152.72" y="144.70" width="106.70" height="104.20"/></clipPath>
<g clip-path="url(#cb1)">
<g fill="none" stroke-linecap="round" stroke-width="2.10" filter="url(#bl)"><path d="M241.5 241.1h0M210.4 244.2h0M233.4 228.4h0M175.8 248.3h0M238.7 235.8h0M191.2 232.4h0M204.0 237.0h0M219.5 243.9h0M239.6 236.5h0M235.8 247.6h0M189.9 237.6h0M172.0 247.1h0M237.2 225.2h0M189.1 248.2h0M218.4 244.8h0M237.2 236.2h0M184.0 242.6h0M230.2 235.5h0M194.2 228.2h0M208.8 242.5h0M223.6 237.3h0M214.1 243.7h0M178.4 242.0h0M188.9 240.3h0M225.3 241.8h0M220.4 214.2h0M199.8 234.9h0M168.6 246.8h0M219.3 236.2h0M195.6 240.4h0M176.9 245.7h0M211.6 238.7h0M193.7 230.5h0M228.6 244.8h0M227.5 232.8h0M171.0 245.3h0M211.6 242.2h0M222.4 246.4h0M195.1 239.8h0M216.9 237.2h0M228.3 226.3h0M226.2 234.8h0M202.0 237.8h0M197.2 238.7h0M221.8 244.6h0M238.8 239.6h0M200.8 235.6h0M225.0 231.6h0M239.1 233.1h0M190.3 225.7h0M230.1 226.0h0M230.8 235.2h0M190.4 235.0h0M241.8 234.5h0M205.5 223.3h0M221.4 244.6h0M179.7 237.7h0M200.4 242.5h0M200.8 234.7h0M227.9 230.7h0M226.1 240.0h0M197.6 228.2h0M221.2 236.2h0M209.5 237.0h0M230.8 240.4h0M211.4 242.3h0M203.2 233.1h0M227.5 245.4h0M228.3 233.3h0M226.1 222.3h0M214.7 236.5h0M188.8 248.0h0M219.1 238.2h0M169.0 243.3h0M230.8 235.5h0M224.2 240.1h0M233.6 245.5h0M199.4 230.5h0M170.3 243.5h0M215.8 247.1h0M197.2 219.8h0M166.3 247.1h0M199.5 238.2h0M192.6 241.2h0M205.7 247.6h0M188.3 242.0h0M216.6 240.3h0M238.4 239.2h0M240.0 237.4h0M170.3 247.1h0M188.6 246.6h0M194.4 233.1h0M189.4 219.5h0M236.7 234.5h0M238.6 226.2h0M216.0 235.4h0M236.5 244.4h0M216.6 247.2h0M156.2 248.2h0M187.9 248.1h0" stroke="#3f4889"/><path d="M234.3 224.5h0M196.6 236.3h0M234.8 231.3h0M232.4 204.9h0M231.6 228.6h0M227.9 244.3h0M180.9 247.4h0M194.9 234.7h0M164.1 247.9h0M205.5 245.9h0M221.8 235.0h0M207.2 247.1h0M210.2 246.6h0M193.4 247.8h0M220.8 233.3h0M182.5 244.1h0M213.8 240.5h0M189.1 245.9h0M185.1 248.3h0M195.1 247.1h0M185.1 242.2h0M207.2 234.1h0M239.6 232.9h0M244.0 236.4h0M218.8 221.3h0M233.8 237.6h0M192.1 237.7h0M238.5 239.3h0M199.2 235.7h0M239.0 231.9h0M235.2 247.5h0M239.4 242.6h0M241.1 245.0h0M242.1 242.7h0M236.5 233.8h0M169.6 247.1h0M238.8 234.0h0M195.7 234.1h0M233.4 221.9h0M203.3 227.4h0M219.7 234.0h0M222.7 244.5h0M211.0 246.0h0M186.2 244.5h0M219.7 223.4h0M200.6 244.4h0M211.7 236.2h0M217.3 235.1h0M231.0 223.3h0M177.3 245.9h0M243.2 246.9h0M231.3 245.6h0M167.6 246.7h0M178.7 237.0h0M197.1 211.4h0M226.4 234.3h0M226.4 242.3h0M193.7 231.1h0M169.3 244.7h0M192.1 214.6h0M203.8 229.5h0M224.2 231.4h0M198.8 242.4h0M227.3 239.6h0M231.9 237.4h0M184.4 245.2h0M221.4 232.5h0M206.8 236.9h0M185.8 246.4h0M240.9 231.8h0M188.3 247.8h0M211.9 244.3h0M204.1 231.9h0M210.0 233.7h0M195.2 239.0h0M161.8 247.2h0M186.1 245.8h0M186.3 230.7h0M196.5 238.7h0M217.8 238.6h0M220.4 242.0h0M207.1 238.1h0M185.2 240.3h0M226.7 239.9h0" stroke="#472e7c"/><path d="M204.6 238.9h0M242.9 238.6h0M158.9 248.2h0M218.1 246.0h0M240.1 238.0h0M200.6 248.2h0M212.5 237.1h0" stroke="#34608d"/><path d="M176.4 245.3h0M192.9 227.2h0M197.2 231.1h0M229.8 236.8h0M233.7 233.5h0M223.3 231.3h0M230.1 230.5h0M235.8 246.7h0M176.3 239.3h0M202.8 214.2h0M193.8 233.7h0M228.3 233.9h0M205.1 239.4h0M208.8 232.0h0M217.3 237.8h0M233.8 232.9h0M198.8 231.1h0M231.9 246.1h0M238.9 237.5h0M232.9 239.8h0M196.7 221.0h0M226.6 235.9h0M193.1 225.7h0M225.7 233.5h0M234.9 232.2h0M201.0 237.6h0M180.9 237.3h0M211.8 233.6h0M234.3 242.9h0M223.5 242.2h0M208.3 238.6h0M187.0 212.7h0M192.4 236.2h0M224.1 242.9h0M233.7 235.4h0M229.9 229.5h0M193.9 240.5h0M242.0 241.3h0M220.5 239.7h0M193.2 223.3h0M232.6 225.0h0M231.9 232.7h0M191.0 228.2h0M236.1 228.8h0M204.6 234.0h0M200.7 231.5h0M221.7 235.7h0M236.7 229.4h0M187.0 243.0h0M199.9 244.3h0M201.7 234.9h0M225.5 234.5h0M227.1 237.6h0M176.6 245.9h0M235.1 233.0h0M194.2 213.5h0M183.5 239.5h0M180.9 247.5h0M199.5 245.8h0M231.0 196.3h0M231.9 240.7h0M176.2 245.7h0M239.7 234.0h0M181.5 244.6h0M193.4 243.1h0M197.4 243.3h0M206.0 244.4h0M225.9 238.5h0M212.9 240.8h0M219.1 239.9h0M172.2 248.3h0M196.3 245.1h0M215.8 234.9h0M180.8 247.4h0M189.9 238.9h0M244.9 246.1h0M240.5 243.7h0M239.0 247.6h0M194.8 205.2h0M187.2 244.4h0M206.9 237.9h0M224.1 235.0h0M239.4 244.2h0M225.6 242.1h0M208.1 244.5h0M219.2 245.3h0M177.1 244.1h0M199.7 233.4h0M170.6 246.5h0M188.7 239.4h0M168.5 243.5h0M233.5 239.7h0M239.8 240.2h0M204.5 245.0h0M225.5 224.1h0M174.1 243.8h0M204.0 235.3h0M180.8 244.0h0M193.3 246.0h0M199.8 231.0h0M179.0 248.0h0M205.3 231.9h0M225.1 241.4h0M223.6 233.3h0M191.1 214.6h0M178.2 244.8h0M193.7 234.6h0M224.1 241.1h0M191.0 228.4h0M193.4 233.8h0M194.7 234.2h0M201.6 239.1h0M221.5 236.9h0M198.0 227.9h0" stroke="#443b84"/><path d="M174.7 246.2h0M201.4 245.7h0M228.3 247.3h0M196.9 247.1h0M191.8 247.6h0M241.6 241.2h0M205.2 248.3h0" stroke="#2f6c8e"/><path d="M232.3 245.2h0M185.2 242.3h0M214.9 248.2h0M224.6 232.1h0M162.7 241.0h0M216.7 237.0h0M233.7 241.5h0M239.5 243.0h0M226.4 224.7h0M232.1 246.0h0M186.9 247.1h0M237.9 225.1h0M197.5 244.8h0" stroke="#2a768e"/><path d="M201.6 241.7h0M208.8 240.2h0M207.5 237.9h0M220.4 240.4h0" stroke="#1f958b"/><path d="M214.7 239.0h0M201.8 247.5h0M197.0 246.0h0M242.5 247.7h0M186.9 245.8h0M202.9 220.2h0" stroke="#26818e"/><path d="M239.1 245.9h0M229.0 244.0h0M234.9 247.3h0M194.7 236.6h0M207.8 246.1h0M194.6 246.2h0M212.2 245.7h0M237.4 248.3h0M240.9 246.2h0M229.2 246.4h0M193.1 247.6h0M213.3 236.6h0" stroke="#fde725"/><path d="M205.3 238.4h0M211.0 233.0h0M180.4 243.6h0" stroke="#2fb47c"/><path d="M223.5 203.0h0" stroke="#482071"/><path d="M224.3 243.4h0M224.6 236.3h0" stroke="#42be71"/><path d="M217.8 241.8h0M214.4 244.8h0M184.0 247.7h0M235.1 243.7h0M202.4 243.5h0" stroke="#228b8d"/><path d="M213.9 248.2h0" stroke="#70cf57"/><path d="M231.3 208.2h0" stroke="#24aa83"/><path d="M187.0 234.6h0M238.5 207.0h0M183.6 245.7h0M235.4 239.2h0M216.8 239.9h0M208.7 241.2h0M201.9 247.4h0M236.3 240.1h0M220.5 225.1h0M201.3 239.5h0M202.4 241.7h0M157.6 247.1h0M232.9 223.8h0M192.1 247.2h0M164.9 248.0h0M191.6 244.5h0M210.7 246.4h0M243.7 243.5h0M191.6 241.6h0M169.6 248.0h0M201.9 235.3h0M197.0 233.5h0M215.2 233.4h0M189.1 235.9h0M182.5 244.1h0M232.8 223.7h0M162.6 246.8h0M206.8 241.8h0M223.5 232.3h0M167.1 245.9h0M229.7 244.1h0M211.0 240.1h0M186.8 235.2h0M213.5 237.8h0M187.8 247.3h0M181.7 247.7h0M186.1 247.0h0M220.7 232.6h0M239.3 240.8h0M225.1 246.1h0M201.7 243.1h0M222.7 246.9h0M163.0 245.2h0M218.0 234.3h0M239.6 225.3h0M210.8 247.9h0M231.7 243.1h0M208.8 239.5h0M170.7 244.9h0M231.3 246.6h0M228.4 223.2h0M214.6 232.5h0M210.1 245.7h0M196.9 231.6h0M235.6 234.8h0M186.0 229.3h0M197.5 247.8h0M224.5 243.4h0M235.5 241.7h0M207.7 235.4h0M200.2 244.6h0M222.4 223.9h0M202.3 228.3h0M218.5 246.4h0M221.2 229.7h0M208.3 237.4h0M184.6 245.2h0M194.6 240.9h0M224.7 226.9h0M240.7 240.7h0M192.9 213.1h0M195.2 236.7h0M201.4 248.1h0M197.7 229.7h0M220.0 243.6h0M189.7 244.1h0M188.5 229.7h0M161.9 248.1h0M235.8 246.1h0M233.1 218.7h0M217.6 243.1h0M215.3 232.5h0M197.6 234.0h0M202.4 235.3h0M194.0 245.8h0M238.6 243.6h0M218.7 236.7h0M243.5 241.3h0M226.6 206.4h0M235.6 234.6h0M190.6 235.0h0M169.5 244.7h0M199.9 244.0h0M235.7 239.2h0M233.5 228.4h0M190.2 242.1h0M202.9 240.0h0M206.8 247.0h0M207.6 234.7h0M235.8 243.2h0M228.1 228.8h0M170.1 245.7h0M185.5 241.5h0M225.7 235.2h0M227.7 242.9h0M223.6 234.2h0M199.0 236.9h0M178.6 242.9h0M213.1 241.8h0M184.4 243.8h0M192.6 220.0h0M225.4 234.8h0M231.8 243.8h0M226.7 235.8h0" stroke="#443b84"/><path d="M230.1 244.9h0M223.1 241.7h0M187.9 232.6h0M195.5 237.3h0M211.1 239.8h0M219.2 235.5h0M216.9 235.6h0M233.6 241.4h0M216.9 234.9h0M229.5 230.4h0M233.9 222.5h0M180.6 247.0h0M224.7 244.8h0M186.3 247.1h0M194.8 232.9h0M173.7 244.9h0M234.8 234.6h0M202.3 231.2h0M244.0 245.9h0M165.5 246.6h0M235.4 229.5h0M227.0 242.3h0M199.3 232.0h0M189.0 232.7h0M233.6 222.8h0M228.3 225.4h0M169.7 246.5h0M227.4 224.5h0M224.7 238.7h0M222.6 224.3h0M191.8 240.2h0M178.5 248.0h0M226.1 234.4h0M158.5 247.2h0M191.1 238.0h0M237.4 243.8h0M187.6 246.0h0M213.9 241.1h0M228.0 225.1h0M179.3 248.1h0M231.5 232.5h0M199.1 242.4h0M239.1 239.9h0M238.6 241.9h0M209.2 245.6h0M209.0 233.9h0M197.2 241.0h0M197.6 235.5h0M190.3 238.7h0M190.4 247.1h0M195.7 245.2h0M196.9 242.4h0M192.5 246.0h0M193.2 229.9h0M234.6 248.2h0M224.2 232.2h0M233.4 233.7h0M220.6 237.3h0M190.9 228.4h0M228.6 224.0h0M220.5 234.1h0M188.2 243.1h0M170.3 232.5h0M193.7 221.7h0M198.7 233.0h0M227.4 231.6h0M237.3 238.6h0M209.9 235.0h0M172.3 244.0h0M190.5 234.3h0M228.4 235.3h0M181.9 238.1h0M185.2 238.1h0M242.8 237.6h0M170.2 247.4h0M204.4 242.5h0M220.3 232.4h0M191.4 235.9h0M218.3 232.5h0M200.9 224.9h0M233.9 234.9h0M200.9 237.3h0M233.2 231.0h0M231.4 230.3h0M201.3 214.3h0M210.8 241.4h0M222.2 230.4h0" stroke="#472e7c"/><path d="M240.8 241.2h0M213.3 244.2h0M198.3 247.0h0" stroke="#58c765"/><path d="M227.7 233.9h0M223.7 228.8h0M203.4 230.1h0M234.8 234.8h0M202.1 240.1h0M232.1 234.0h0M243.7 245.1h0M201.3 244.4h0M228.2 238.0h0M192.3 237.5h0M189.8 247.7h0M200.1 234.1h0M179.8 243.6h0M199.4 242.0h0M217.2 246.2h0M211.5 242.4h0M212.2 239.7h0M188.8 244.9h0M206.6 240.8h0M207.8 238.8h0M231.8 230.1h0M222.8 234.6h0M192.5 247.7h0M236.5 238.5h0M228.4 231.3h0M194.6 233.0h0M205.2 246.3h0M219.6 239.6h0M238.1 229.8h0M237.0 232.5h0M229.6 238.7h0M170.6 246.7h0M172.5 243.8h0M197.0 203.8h0M193.1 229.8h0M219.3 245.3h0M208.5 246.5h0M223.3 244.5h0M220.5 236.0h0M191.2 242.0h0M170.8 244.9h0M176.5 246.3h0M224.6 239.4h0M166.6 247.1h0M198.3 228.1h0M200.8 233.5h0M217.2 243.7h0M202.5 240.8h0M226.5 225.7h0M190.3 226.0h0M241.1 244.2h0M214.7 236.1h0M206.0 229.9h0M185.3 245.5h0M232.1 236.5h0M214.4 230.0h0M178.1 236.9h0M232.3 246.8h0M198.6 213.9h0M217.1 233.3h0M222.9 228.5h0M220.0 236.1h0M179.1 237.2h0M200.9 218.2h0M199.3 244.4h0M160.0 248.0h0M196.2 216.0h0M224.2 238.0h0M188.7 234.2h0M195.5 242.3h0M199.5 245.6h0M190.6 243.5h0M201.2 243.7h0M228.3 244.8h0M208.9 223.4h0M233.0 241.1h0M207.1 241.9h0M181.0 248.0h0M234.5 218.3h0M237.5 236.3h0M219.4 243.2h0M190.7 231.7h0M222.5 243.3h0M205.6 237.8h0M236.5 242.4h0M240.0 239.9h0M196.9 228.8h0M219.9 242.9h0M191.0 238.6h0M241.0 241.8h0M194.9 245.3h0M173.2 248.2h0M171.2 233.4h0M184.4 247.3h0M212.1 232.2h0M195.9 229.9h0M196.8 233.3h0" stroke="#3f4889"/><path d="M202.7 242.8h0M204.2 246.8h0M178.2 242.8h0M225.2 247.4h0M208.8 247.8h0M220.8 246.5h0M213.3 247.9h0M169.8 242.4h0M195.0 246.1h0M217.3 240.2h0M217.2 246.5h0" stroke="#fde725"/><path d="M219.0 237.0h0M216.3 246.3h0M239.1 247.9h0M217.0 241.3h0" stroke="#228b8d"/><path d="M236.6 244.8h0M243.1 246.9h0M234.6 245.2h0M174.3 244.4h0M233.7 246.6h0M215.5 238.1h0M221.1 241.0h0M227.2 238.9h0M229.5 245.2h0" stroke="#1f958b"/><path d="M193.6 246.6h0M172.7 243.5h0M241.2 244.9h0M233.1 214.4h0M193.8 245.8h0M213.0 246.0h0M205.4 240.5h0M228.1 246.7h0M198.0 236.6h0" stroke="#2a768e"/><path d="M219.4 239.8h0M225.5 243.4h0M192.8 247.6h0M189.2 247.2h0M212.6 248.2h0M163.4 246.5h0" stroke="#26818e"/><path d="M211.5 235.2h0M213.8 246.1h0" stroke="#2fb47c"/><path d="M225.5 247.2h0M237.0 247.8h0M218.6 246.6h0M216.2 236.4h0M226.7 240.5h0" stroke="#34608d"/><path d="M208.8 243.3h0M232.6 246.2h0M223.9 244.7h0M179.0 244.9h0M204.4 246.8h0M205.0 240.8h0M179.7 241.9h0" stroke="#2f6c8e"/><path d="M210.7 246.4h0M219.0 245.9h0M214.2 242.1h0" stroke="#24aa83"/><path d="M235.1 247.1h0" stroke="#70cf57"/><path d="M169.9 247.7h0" stroke="#42be71"/><path d="M198.8 189.8h0" stroke="#482071"/><path d="M224.2 247.2h0M193.5 244.4h0M219.6 242.0h0M173.9 240.2h0M183.0 241.9h0M205.7 229.2h0M218.7 242.3h0M217.5 236.6h0M194.6 239.0h0M196.8 229.2h0M166.9 246.8h0M240.7 236.8h0M190.3 239.8h0M232.5 242.5h0M204.2 241.1h0M226.8 238.1h0M233.6 246.0h0M217.7 246.2h0M215.7 235.8h0M192.3 237.8h0M197.4 228.7h0M233.1 227.0h0M234.0 243.1h0M202.5 234.6h0M183.8 241.5h0M220.8 235.6h0M216.3 227.5h0M236.1 247.2h0M219.3 241.9h0M205.0 246.6h0M233.0 232.0h0M232.7 232.3h0M223.5 238.0h0M209.1 247.0h0M219.0 240.7h0M241.8 240.0h0M195.5 234.0h0M205.8 239.1h0M220.4 240.8h0M235.0 230.9h0M219.2 232.7h0M184.0 245.9h0M231.4 244.9h0M222.5 232.2h0M204.6 234.4h0M198.9 239.9h0M202.5 235.3h0M200.0 234.3h0M216.3 246.1h0M197.9 238.0h0M169.3 245.4h0M197.3 237.6h0M190.3 238.5h0M192.1 238.4h0M229.3 245.6h0M226.8 244.1h0M226.9 232.9h0M204.9 237.1h0M198.0 234.1h0M227.1 237.2h0M239.2 236.7h0M174.3 244.4h0M199.1 238.3h0M232.0 233.7h0M222.1 238.6h0M177.3 222.0h0M195.5 232.3h0M238.4 228.6h0M190.9 235.3h0M171.3 246.5h0M186.4 234.6h0M237.8 242.4h0M190.4 239.3h0M195.0 221.0h0M226.7 227.3h0M201.0 230.2h0M186.4 236.6h0M229.5 239.6h0M182.8 243.1h0M228.7 226.0h0M179.8 247.8h0M171.6 242.1h0M221.7 243.2h0M196.5 217.3h0M194.0 234.9h0M209.9 242.1h0M225.8 231.7h0M185.6 243.4h0M229.9 234.3h0M234.7 242.6h0" stroke="#472e7c"/><path d="M241.1 246.0h0M209.7 243.1h0M226.5 238.8h0M219.1 242.3h0" stroke="#58c765"/><path d="M210.1 245.6h0M215.6 225.9h0M207.5 238.1h0M175.2 240.3h0M196.2 229.7h0M193.4 234.2h0M196.2 240.2h0M197.0 237.0h0M178.0 245.5h0M176.2 244.6h0M198.2 223.5h0M230.4 196.5h0M229.2 235.2h0M226.1 223.7h0M240.0 244.7h0M231.9 241.5h0M201.1 213.0h0M188.6 239.2h0M196.1 247.5h0M224.8 234.2h0M229.3 236.0h0M208.8 238.9h0M193.0 229.4h0M232.0 229.6h0M226.2 234.9h0M194.0 240.2h0M182.0 243.2h0M172.2 248.1h0M224.3 228.6h0M201.3 226.9h0M199.8 236.9h0M217.5 240.2h0M207.1 242.8h0M195.0 228.8h0M167.2 247.2h0M241.7 245.7h0M202.9 235.8h0M225.7 235.1h0M231.6 237.7h0M188.0 239.7h0M220.4 246.1h0M174.9 246.8h0M204.8 233.5h0M198.7 213.7h0M197.9 226.1h0M192.7 230.9h0M163.4 246.1h0M215.0 233.9h0M200.5 233.8h0M232.6 239.0h0M227.0 207.6h0M229.2 241.2h0M181.5 244.5h0M230.4 247.2h0M234.9 228.5h0M222.3 232.6h0M196.2 231.3h0M209.6 230.8h0M203.7 247.8h0M202.9 238.1h0M200.1 235.4h0M215.0 241.4h0M219.7 244.4h0M218.2 218.2h0M213.3 241.2h0M199.9 235.8h0M201.8 245.2h0M187.3 241.8h0M221.3 245.5h0M226.1 232.1h0M194.4 230.6h0M197.4 231.5h0M178.8 246.2h0M198.5 224.5h0M195.7 234.1h0M229.8 242.0h0M212.2 234.9h0M218.2 228.9h0M227.9 231.8h0M227.3 245.0h0M231.1 232.5h0M193.6 243.1h0M239.4 234.1h0M219.0 241.4h0M191.7 236.4h0M238.3 236.0h0M196.7 227.2h0M232.5 243.0h0M193.5 238.5h0M191.9 248.1h0M198.5 244.6h0M227.3 226.0h0M222.4 231.7h0M224.8 241.8h0M232.2 245.2h0M231.8 240.6h0M237.1 245.0h0M184.9 242.4h0M209.7 241.6h0M161.1 245.7h0M232.1 215.5h0M226.3 240.5h0M209.0 244.5h0M203.1 220.9h0M222.1 221.9h0M197.7 236.4h0M243.1 248.1h0M215.2 246.7h0M184.4 243.3h0M241.2 244.9h0M207.1 245.7h0M219.0 238.0h0M226.7 237.5h0" stroke="#443b84"/><path d="M203.9 246.7h0M241.0 246.3h0M219.4 235.4h0M222.7 248.0h0M238.5 246.5h0M213.8 246.0h0M206.0 248.0h0M225.0 238.7h0M205.8 247.5h0M198.7 245.7h0M199.6 246.7h0M230.3 229.3h0" stroke="#fde725"/><path d="M191.5 220.1h0M206.3 235.5h0M204.2 235.1h0M198.9 227.8h0M233.5 233.6h0M216.4 234.3h0M191.9 238.8h0M237.0 236.8h0M177.4 239.9h0M200.1 226.7h0M198.7 219.1h0M199.9 230.3h0M193.5 242.5h0M185.0 244.4h0M241.2 239.6h0M238.2 247.7h0M234.0 237.7h0M182.5 247.9h0M239.8 242.1h0M181.4 246.5h0M187.7 242.6h0M209.6 246.2h0M197.1 229.7h0M228.1 243.6h0M232.8 232.6h0M231.0 236.5h0M198.3 234.1h0M195.4 227.4h0M235.3 233.8h0M234.2 227.3h0M201.5 240.1h0M205.2 225.4h0M190.8 242.0h0M214.8 230.3h0M215.5 244.6h0M185.3 240.9h0M194.5 235.0h0M232.8 236.3h0M241.2 244.6h0M237.9 231.4h0M197.1 237.9h0M216.0 243.9h0M195.4 236.0h0M189.8 240.8h0M207.6 244.3h0M226.3 244.0h0M237.9 243.6h0M183.9 232.7h0M235.9 242.1h0M216.7 239.3h0M196.9 240.1h0M234.0 242.3h0M209.9 229.5h0M234.6 243.9h0M192.1 233.8h0M224.2 241.9h0M228.9 246.2h0M213.5 234.6h0M244.3 248.2h0M196.0 236.3h0M211.2 244.6h0M224.6 227.2h0M232.4 237.5h0M196.0 243.8h0M202.9 246.3h0M180.6 235.0h0M175.4 244.4h0M200.3 233.7h0M200.5 216.5h0M193.4 241.8h0M193.7 243.6h0M215.7 239.3h0M192.3 237.9h0M234.3 237.4h0M202.8 242.4h0M210.3 230.9h0M211.3 240.4h0M198.5 235.7h0M195.2 228.0h0M167.0 239.7h0M182.6 246.9h0M199.5 237.2h0M229.2 247.9h0M226.8 239.2h0M232.7 248.1h0M180.3 242.9h0M226.2 240.0h0M221.8 213.3h0M187.3 247.3h0M168.4 246.5h0M241.7 245.6h0M204.3 235.8h0M245.3 246.6h0M207.1 241.9h0M196.4 240.9h0M174.0 246.8h0" stroke="#3f4889"/><path d="M191.6 241.6h0M206.3 245.3h0" stroke="#42be71"/><path d="M237.7 242.0h0M186.1 245.2h0" stroke="#2fb47c"/><path d="M170.0 247.3h0M227.6 247.2h0M216.3 239.7h0M190.1 223.2h0M220.1 246.9h0M219.6 245.3h0M181.5 241.8h0" stroke="#2a768e"/><path d="M215.5 243.7h0M203.7 238.9h0M227.2 239.2h0M185.2 240.6h0M229.5 241.3h0M213.2 246.8h0M230.8 244.1h0" stroke="#228b8d"/><path d="M221.9 236.1h0M178.4 246.4h0M196.7 244.4h0M237.4 244.7h0M163.4 247.9h0" stroke="#70cf57"/><path d="M216.7 224.5h0M182.3 239.9h0M226.7 246.7h0M186.2 241.0h0M227.0 242.8h0M226.8 236.6h0M208.9 246.7h0" stroke="#34608d"/><path d="M204.6 244.8h0M202.4 242.7h0M172.7 245.7h0M222.0 242.7h0" stroke="#2f6c8e"/><path d="M200.7 247.6h0" stroke="#8bd646"/><path d="M210.1 237.8h0M188.1 229.5h0M222.6 236.0h0M235.1 241.5h0" stroke="#24aa83"/><path d="M203.2 247.4h0M180.3 241.5h0" stroke="#26818e"/><path d="M192.3 240.7h0" stroke="#1fa088"/><path d="M225.8 199.0h0M200.0 199.5h0" stroke="#482071"/><path d="M217.6 224.9h0M183.1 245.7h0M220.5 231.4h0M210.0 239.3h0M195.2 231.4h0M217.4 237.1h0M244.4 244.8h0M219.5 245.6h0M183.6 238.3h0M200.1 239.5h0M193.7 226.7h0M211.8 243.0h0M213.8 245.3h0M222.0 245.3h0M196.4 236.3h0M217.7 242.5h0M211.3 242.3h0M182.9 246.2h0M171.9 244.2h0M233.4 225.1h0M194.9 243.4h0M205.8 247.6h0M201.8 243.0h0M238.0 237.0h0M228.5 239.0h0M225.7 226.5h0M228.6 237.6h0M240.6 236.5h0M212.2 238.2h0M212.7 239.4h0M216.0 243.4h0M233.5 241.0h0M211.1 238.5h0M194.7 236.4h0M190.3 236.1h0M202.5 242.5h0M238.6 243.1h0M198.7 241.4h0M159.9 247.5h0M196.1 241.9h0M236.3 232.0h0M207.2 232.2h0M195.2 239.6h0M207.7 228.1h0M210.2 236.2h0M189.2 233.7h0M223.3 231.6h0M230.0 233.7h0M194.8 236.3h0M194.9 241.2h0M192.6 223.8h0M197.1 229.3h0M237.1 229.6h0M222.0 236.9h0M197.7 232.5h0M227.2 241.3h0M216.2 234.5h0M239.9 236.4h0M226.4 237.3h0M218.0 238.6h0M221.0 237.4h0M232.0 236.5h0M190.1 239.1h0M192.0 244.8h0M215.3 224.7h0M221.3 217.7h0M220.8 243.9h0M224.5 214.7h0M237.5 239.8h0M232.0 229.9h0M237.5 247.2h0M201.9 232.3h0M190.5 233.1h0M227.7 243.6h0M221.9 234.2h0M157.2 248.1h0M186.5 241.9h0M225.9 239.8h0M218.7 234.7h0M236.6 235.1h0M239.6 234.2h0M202.7 246.8h0M193.5 244.7h0M212.4 244.9h0M191.7 243.4h0M164.0 247.8h0M181.8 235.1h0M194.5 227.6h0M244.4 248.3h0M197.1 237.6h0M237.1 244.7h0M230.0 242.8h0M232.9 208.6h0" stroke="#3f4889"/><path d="M168.1 248.2h0M204.6 239.2h0M188.6 230.9h0M216.5 237.0h0M213.3 234.3h0M193.4 233.9h0M210.5 241.5h0M224.1 231.7h0M192.4 225.2h0M185.0 238.0h0M176.0 246.1h0M198.4 238.6h0M234.5 244.2h0M209.0 246.8h0M239.2 240.5h0M214.5 242.2h0M222.3 226.9h0M217.9 247.0h0M197.7 232.4h0M196.7 245.8h0M224.4 233.0h0M209.9 247.7h0M177.6 247.7h0M192.6 228.0h0M161.0 246.0h0M219.0 234.1h0M208.9 217.4h0M173.3 248.0h0M222.4 232.5h0M227.8 228.4h0M230.8 233.2h0M196.1 243.1h0M222.7 244.4h0M220.0 238.2h0M205.5 230.6h0M224.4 228.2h0M239.3 221.2h0M201.2 237.4h0M190.8 235.5h0M238.2 236.1h0M241.6 247.4h0M192.5 245.7h0M223.0 231.3h0M219.0 244.3h0M223.3 235.3h0M238.9 244.4h0M195.4 243.2h0M234.8 234.6h0M201.7 248.2h0M235.7 237.4h0M190.9 244.3h0M208.6 230.4h0M208.7 240.3h0M199.4 227.9h0M192.5 236.7h0M233.4 244.4h0M228.7 237.0h0M199.5 233.8h0M237.9 244.9h0M237.9 240.7h0M219.2 237.3h0M191.7 246.2h0M201.7 234.0h0M194.8 218.7h0M195.8 239.1h0M216.1 238.8h0M184.2 230.3h0M234.6 233.8h0M178.3 245.7h0M242.9 246.6h0M167.8 246.5h0M216.0 246.1h0M240.9 243.5h0M233.9 241.6h0M216.4 236.4h0M202.9 229.7h0M223.9 236.2h0M214.8 247.1h0M199.7 229.4h0M235.1 234.5h0M194.3 227.3h0" stroke="#472e7c"/><path d="M231.9 243.4h0M189.9 243.2h0M194.3 242.2h0M216.7 225.4h0M202.7 234.2h0M222.1 238.4h0M222.7 238.4h0M223.0 239.8h0M234.4 230.2h0M190.9 247.6h0M193.7 229.7h0M193.1 236.3h0M199.2 236.6h0M224.6 229.3h0M219.2 219.2h0M200.1 235.6h0M215.4 234.3h0M223.2 244.1h0M225.3 232.8h0M214.6 233.0h0M245.0 245.9h0M235.0 221.7h0M209.6 237.2h0M235.3 238.1h0M204.5 225.2h0M226.2 241.6h0M226.4 246.1h0M236.8 233.4h0M208.6 234.4h0M172.5 247.2h0M218.4 236.7h0M228.6 227.5h0M237.2 232.5h0M203.3 242.5h0M234.7 226.5h0M215.7 234.2h0M195.8 241.4h0M219.2 235.8h0M199.7 238.2h0M179.8 245.2h0M201.1 246.5h0M196.9 203.8h0M221.9 240.8h0M179.9 242.0h0M178.4 245.3h0M200.4 228.0h0M230.9 236.9h0M178.5 243.0h0M205.7 236.1h0M173.4 248.1h0M170.3 246.2h0M240.2 232.6h0M191.0 220.6h0M185.7 214.7h0M222.6 243.6h0M192.4 237.3h0M230.7 238.1h0M211.0 241.2h0M234.8 232.0h0M194.3 233.3h0M227.7 238.2h0M200.9 218.6h0M202.3 247.9h0M233.2 238.5h0M200.7 223.1h0M201.6 232.9h0M186.5 248.2h0M232.5 235.6h0M222.6 226.8h0M190.8 231.3h0M178.8 248.0h0M197.4 233.9h0M197.1 239.0h0M214.1 244.3h0M195.1 233.4h0M196.7 245.6h0M210.9 239.2h0M238.4 240.9h0M223.4 228.8h0M233.3 224.7h0M224.7 229.1h0M226.4 237.7h0M229.2 230.0h0M196.2 242.9h0M204.3 246.6h0M181.1 239.4h0M229.6 225.2h0M215.3 236.3h0M201.2 231.8h0M162.5 246.6h0M242.3 238.4h0M193.9 236.5h0M226.6 234.0h0M190.4 230.7h0M205.6 236.0h0M192.3 232.7h0M231.2 242.0h0M214.3 244.2h0M234.9 235.5h0M206.7 246.0h0M215.0 237.5h0M209.8 245.2h0M194.2 243.4h0M231.6 245.3h0M175.7 247.7h0M188.9 219.2h0M201.3 231.5h0M190.7 222.0h0M193.0 236.8h0M198.2 223.4h0M230.2 234.6h0M181.5 233.2h0M210.9 242.6h0M188.5 244.6h0M194.4 220.7h0M188.1 238.2h0M201.5 238.6h0M174.9 247.5h0M208.3 247.5h0M186.8 227.5h0" stroke="#443b84"/><path d="M199.2 238.1h0M197.0 217.9h0M220.8 247.3h0M200.7 246.9h0M166.9 239.8h0M199.6 238.8h0" stroke="#1f958b"/><path d="M168.6 247.8h0M215.9 243.4h0M197.6 236.5h0M234.9 228.5h0M192.7 247.8h0M199.5 240.0h0M240.5 234.9h0M221.6 235.0h0M202.6 232.2h0" stroke="#228b8d"/><path d="M192.7 246.1h0M243.8 241.9h0M220.3 248.2h0M228.2 247.2h0M172.7 245.7h0M227.8 239.3h0M215.7 246.1h0M233.2 246.7h0M217.0 247.0h0M206.3 246.1h0M205.7 247.7h0M231.3 238.9h0M199.9 245.8h0M187.9 242.2h0M226.4 248.1h0" stroke="#fde725"/><path d="M233.1 245.2h0M200.3 244.1h0M194.3 239.4h0M213.5 236.4h0M193.7 242.8h0M177.7 243.3h0M196.3 246.2h0M228.7 246.9h0M185.0 241.3h0M226.6 238.3h0" stroke="#2f6c8e"/><path d="M230.3 241.5h0M189.9 248.2h0M216.3 237.4h0" stroke="#58c765"/><path d="M223.9 239.5h0M229.2 237.0h0M204.7 217.0h0M210.8 243.8h0M204.7 247.5h0M186.5 245.9h0" stroke="#26818e"/><path d="M197.8 246.4h0M170.3 246.4h0" stroke="#2fb47c"/><path d="M169.6 243.0h0M243.6 243.9h0M203.1 236.5h0" stroke="#34608d"/><path d="M173.3 246.1h0M193.3 238.3h0M182.0 243.5h0M240.3 238.2h0M234.3 229.0h0M205.8 239.0h0M181.4 237.4h0" stroke="#2a768e"/><path d="M190.6 186.5h0M197.0 202.0h0" stroke="#482071"/><path d="M234.3 242.4h0M189.8 246.5h0" stroke="#24aa83"/></g>
</g>
<rect x="152.72" y="144.70" width="106.70" height="104.20" fill="none" stroke="#606060" stroke-width="1.3"/>
<text x="152.32" y="260.80" font-size="7.40" text-anchor="middle">10<tspan dy="-2.7" font-size="5.18">−2</tspan></text>
<text x="182.82" y="260.80" font-size="7.40" text-anchor="middle">10<tspan dy="-2.7" font-size="5.18">0</tspan></text>
<text x="213.32" y="260.80" font-size="7.40" text-anchor="middle">10<tspan dy="-2.7" font-size="5.18">2</tspan></text>
<text x="243.82" y="260.80" font-size="7.40" text-anchor="middle">10<tspan dy="-2.7" font-size="5.18">4</tspan></text>
<text x="206.07" y="270.9" font-size="7.75" text-anchor="middle">GDP (Million Dollars)</text>
<clipPath id="cb2"><rect x="274.84" y="144.70" width="106.70" height="104.20"/></clipPath>
<g clip-path="url(#cb2)">
<g fill="none" stroke-linecap="round" stroke-width="2.10" filter="url(#bl)"><path d="M321.2 238.0h0M325.3 235.8h0M331.3 244.1h0M312.4 244.7h0M299.0 247.1h0M324.8 228.5h0M308.8 240.8h0M299.7 246.7h0M312.1 242.8h0M356.6 246.9h0M337.5 230.1h0M339.7 233.7h0M349.4 234.8h0M318.8 239.6h0M329.4 236.1h0M357.0 227.7h0M327.5 226.5h0M323.3 235.5h0M350.1 240.9h0M328.8 241.6h0M318.4 241.6h0M335.0 229.5h0M323.1 247.7h0M324.4 236.7h0M358.6 234.5h0M332.5 222.9h0M337.4 242.3h0M359.6 245.0h0M328.1 237.6h0M327.8 235.9h0M315.8 244.2h0M364.1 240.9h0M319.8 234.5h0M322.2 235.6h0M328.6 232.2h0M321.6 240.3h0M317.9 241.1h0M352.7 248.3h0M339.1 239.1h0M359.5 234.8h0M332.0 243.0h0M358.0 244.6h0M334.2 237.2h0M340.3 246.7h0M349.9 220.4h0M318.4 222.3h0M292.6 248.1h0M329.6 239.9h0M353.0 243.2h0M343.7 245.7h0M361.0 231.5h0M322.0 202.5h0M314.0 230.1h0M282.5 248.1h0M339.9 225.5h0M330.6 221.9h0M320.4 236.5h0M333.4 238.7h0M364.3 243.9h0M321.8 221.4h0M308.7 242.8h0M330.0 248.0h0M365.5 243.7h0M318.5 224.3h0M317.1 238.7h0M328.6 236.3h0M326.4 229.8h0M341.5 241.2h0M324.5 228.5h0M338.9 235.1h0M328.2 240.8h0M361.4 241.3h0M309.3 247.0h0M350.6 232.1h0M322.7 222.8h0M312.2 238.7h0M323.0 222.9h0M299.4 248.1h0" stroke="#3a548c"/><path d="M351.3 243.5h0" stroke="#1fa088"/><path d="M316.5 235.2h0M353.8 247.8h0M318.9 238.3h0M349.1 245.6h0M354.3 242.9h0M354.9 241.9h0M318.7 238.0h0M302.3 247.2h0M350.8 224.5h0M360.4 235.4h0M326.4 234.7h0M355.2 240.1h0M350.2 243.8h0M332.1 245.7h0M289.9 247.2h0M335.8 238.5h0M318.0 242.2h0M317.7 244.0h0M290.5 248.2h0M323.7 240.3h0M319.1 235.6h0M340.3 243.1h0M359.9 240.2h0M327.3 237.0h0M328.4 247.2h0M351.2 246.7h0M319.6 231.6h0M295.4 247.8h0M330.8 242.0h0M338.6 229.2h0M333.9 246.6h0M338.9 236.1h0M335.6 236.5h0M337.3 239.6h0M341.5 243.4h0M318.0 243.2h0M357.7 234.0h0M359.2 242.1h0M324.0 226.8h0M354.2 245.5h0M323.0 242.5h0M321.6 222.5h0M352.8 240.6h0M319.0 230.9h0M360.8 190.2h0M352.2 237.3h0M331.9 232.7h0M361.1 237.0h0M348.7 239.9h0M310.9 242.6h0M339.7 245.5h0M359.2 228.0h0M315.4 243.6h0M315.2 233.7h0M323.6 218.1h0M335.6 246.4h0M358.5 240.8h0M334.1 236.7h0M344.6 232.8h0M317.2 239.5h0M360.8 239.6h0M336.3 243.5h0M321.2 227.5h0M320.0 220.6h0M361.2 244.0h0M318.6 208.7h0" stroke="#3f4889"/><path d="M354.3 232.1h0M324.2 238.0h0M331.1 243.4h0M293.6 247.5h0M326.5 244.8h0M334.0 241.2h0M301.2 248.3h0M329.9 198.9h0M346.6 247.5h0M318.5 220.0h0M316.0 244.5h0M324.3 242.7h0M312.7 243.4h0M334.2 240.0h0M333.3 240.0h0M332.3 238.3h0M315.4 243.8h0M320.2 243.9h0M307.9 244.5h0M313.8 236.0h0M332.6 241.7h0M310.0 245.1h0M328.8 229.7h0M326.4 234.7h0M357.9 239.4h0M331.0 240.9h0M311.0 242.7h0" stroke="#34608d"/><path d="M328.0 237.6h0M324.5 246.1h0M341.9 247.6h0M338.7 241.4h0M319.3 233.4h0M358.1 244.5h0M354.8 246.9h0" stroke="#2a768e"/><path d="M354.9 230.6h0M324.9 246.3h0M326.9 222.3h0M356.6 233.1h0M323.6 229.7h0M357.8 232.8h0M341.0 241.7h0M360.1 241.0h0M302.8 248.3h0M317.3 234.5h0M320.5 228.8h0M353.7 236.6h0M321.8 228.9h0M322.0 238.7h0M349.8 235.7h0M346.2 234.3h0M335.1 244.7h0M359.1 244.8h0M351.8 240.2h0M316.6 244.2h0M354.4 239.6h0M331.7 229.1h0M331.9 230.8h0M355.1 231.4h0M338.4 244.3h0M312.1 248.1h0M326.4 213.1h0M361.2 225.2h0M345.9 247.5h0M335.9 225.6h0M324.7 238.0h0M334.4 242.2h0M318.8 247.5h0M322.4 237.9h0M304.9 246.2h0M354.9 227.4h0M312.5 221.5h0M330.6 244.8h0M343.1 234.0h0M320.5 221.4h0M326.5 243.4h0M324.7 208.9h0M341.2 237.6h0M334.0 240.6h0M340.5 238.6h0M330.9 230.8h0" stroke="#443b84"/><path d="M349.6 247.8h0M308.4 244.8h0M363.6 247.0h0M355.3 247.9h0M356.5 247.1h0M349.9 246.9h0M314.3 246.8h0M334.0 248.0h0M314.9 247.8h0M359.9 246.5h0M322.4 246.0h0M338.5 246.7h0M323.9 248.1h0M332.3 246.0h0M315.9 246.1h0M333.6 236.1h0M327.1 244.6h0M333.8 246.6h0M358.1 246.7h0" stroke="#fde725"/><path d="M356.3 246.8h0M321.7 189.2h0M340.4 239.2h0M314.2 246.4h0M308.2 243.6h0M338.3 247.3h0M323.2 241.6h0M321.6 236.9h0" stroke="#2f6c8e"/><path d="M324.2 243.2h0" stroke="#2fb47c"/><path d="M319.2 233.1h0M306.1 244.2h0M327.3 229.3h0M323.5 239.4h0" stroke="#26818e"/><path d="M316.0 245.3h0M351.8 246.9h0M342.0 248.1h0M366.1 246.8h0M323.1 236.2h0" stroke="#1f958b"/><path d="M356.1 194.5h0" stroke="#482071"/><path d="M358.0 240.4h0M357.4 228.5h0M360.0 243.7h0M335.9 239.9h0" stroke="#228b8d"/><path d="M335.5 246.2h0M352.6 248.1h0M325.5 248.0h0M324.4 237.0h0" stroke="#42be71"/><path d="M358.6 224.0h0M302.8 247.6h0" stroke="#24aa83"/><path d="M340.0 238.0h0" stroke="#70cf57"/><path d="M360.0 209.0h0M332.1 243.5h0M320.9 226.2h0M324.2 182.0h0M325.6 206.7h0M347.3 238.8h0M355.3 222.1h0M358.5 248.2h0M320.1 245.9h0M304.3 248.2h0M329.7 237.1h0M318.7 241.7h0M328.1 204.8h0M339.9 248.1h0M311.1 241.5h0M311.1 245.1h0M354.8 231.6h0M336.7 228.3h0M359.7 215.7h0M336.7 221.7h0M356.8 236.7h0" stroke="#34608d"/><path d="M330.4 227.4h0M359.2 243.4h0M362.7 247.6h0M317.3 245.7h0M342.3 245.4h0M313.9 244.5h0M320.2 242.2h0M358.3 232.1h0M351.4 232.7h0M362.4 244.8h0M283.6 247.9h0M344.5 231.1h0M290.7 247.9h0M315.8 239.6h0M312.7 236.8h0M326.8 227.9h0M319.1 234.2h0M326.6 234.1h0M312.5 241.1h0M324.3 236.2h0M354.7 242.2h0M336.4 246.7h0M360.5 244.8h0M335.4 219.6h0M356.6 244.9h0M337.7 222.5h0M343.9 233.9h0M314.8 240.8h0M319.2 223.5h0M362.4 241.5h0M346.7 239.4h0M318.5 237.2h0M321.1 189.2h0M355.8 245.1h0M330.7 240.9h0M362.7 244.4h0M328.6 244.7h0M346.1 245.1h0M328.0 247.6h0M299.5 245.1h0M348.2 241.8h0M304.7 245.3h0M299.2 247.5h0M329.2 238.1h0M322.0 219.3h0M329.7 243.6h0M328.1 242.5h0M321.3 239.3h0M330.6 246.4h0" stroke="#443b84"/><path d="M319.8 239.6h0M312.0 242.4h0M364.3 243.1h0M350.8 238.0h0M339.2 244.0h0M354.4 233.9h0M321.6 241.9h0M338.7 237.4h0M323.1 231.9h0M317.4 237.8h0M329.6 236.4h0M326.3 239.3h0M318.3 238.7h0M332.9 237.8h0M319.5 233.5h0M329.4 238.2h0M321.3 213.4h0M334.7 240.5h0M358.5 237.7h0M332.6 233.6h0M322.2 220.7h0M360.1 227.9h0M350.1 244.2h0M356.4 230.3h0M343.5 245.5h0M329.1 233.3h0M318.6 233.6h0M326.8 237.9h0M357.6 224.6h0M346.5 221.3h0M312.5 220.7h0M323.0 231.6h0M348.9 239.5h0M319.5 240.8h0M338.4 240.3h0M331.2 220.0h0M339.3 248.3h0M319.9 242.0h0M358.3 224.5h0M328.8 236.2h0M325.0 236.7h0M321.8 220.7h0M312.5 233.2h0M333.2 245.0h0M349.8 240.6h0M352.8 236.3h0M341.4 227.5h0M342.6 204.3h0M341.3 233.6h0M340.0 241.0h0M356.9 224.9h0M316.5 223.0h0M355.2 240.6h0M338.8 239.2h0M329.3 241.8h0M353.1 240.3h0M332.1 241.8h0M359.0 224.1h0M311.6 247.3h0M363.5 240.6h0M351.7 246.6h0M335.8 245.4h0M357.5 225.5h0M311.5 246.8h0M336.2 233.1h0M309.2 245.7h0M338.9 243.5h0M318.0 239.9h0M347.4 225.4h0M337.4 240.7h0M310.4 241.1h0M344.4 245.7h0M319.5 243.7h0M329.7 242.3h0M327.3 244.4h0M337.3 219.8h0M304.8 247.7h0M320.8 221.7h0M332.8 228.0h0M353.3 231.6h0M321.0 244.6h0M305.1 247.8h0M322.1 239.5h0M339.1 244.1h0M356.9 239.6h0M310.2 248.3h0" stroke="#3f4889"/><path d="M319.9 243.6h0M344.7 231.5h0M323.2 233.1h0M364.6 239.1h0M354.8 238.6h0M354.4 241.5h0M355.9 244.4h0M333.5 242.5h0M333.6 248.0h0M346.7 242.0h0M358.7 245.3h0M332.5 228.9h0M322.0 240.1h0M322.4 235.3h0M322.0 245.2h0M358.0 220.2h0M347.7 236.9h0M356.0 244.5h0M310.6 239.7h0M330.7 242.9h0M302.8 242.9h0M340.5 240.7h0M305.3 247.4h0M322.3 229.9h0M319.7 230.7h0M309.2 240.8h0M314.9 244.6h0M313.2 242.6h0M332.4 236.1h0M342.3 243.5h0M313.5 242.0h0M354.3 242.8h0M350.8 243.8h0M346.1 243.6h0M348.3 234.0h0M350.1 244.3h0M312.7 240.5h0M357.7 244.2h0M328.1 195.0h0M321.1 222.7h0M320.5 245.8h0M327.8 240.3h0M343.5 243.1h0M346.9 239.4h0M359.2 232.5h0M353.1 220.9h0M326.7 243.6h0M356.3 220.2h0M334.5 241.3h0M316.7 219.4h0M360.1 233.7h0M318.2 241.4h0M339.6 234.6h0M334.2 232.7h0M324.2 242.0h0M335.1 230.4h0M348.8 242.8h0M325.0 240.5h0M315.0 238.9h0M329.5 244.8h0M334.3 226.0h0M316.6 233.9h0M321.2 241.1h0M322.7 245.2h0M313.7 247.6h0M318.5 241.6h0" stroke="#3a548c"/><path d="M337.1 246.8h0M314.6 247.3h0M359.6 246.5h0M339.4 245.8h0M335.8 246.9h0M341.9 247.6h0M328.9 235.4h0M330.4 246.4h0M337.6 245.8h0M355.6 243.9h0M332.2 247.6h0M364.0 244.7h0M361.9 245.8h0M363.7 246.4h0M345.5 247.5h0M339.1 246.1h0M351.8 246.9h0" stroke="#fde725"/><path d="M372.3 237.0h0M356.0 244.4h0" stroke="#1f958b"/><path d="M324.8 237.2h0M313.9 238.7h0M321.4 248.1h0M360.5 247.9h0M336.7 244.6h0" stroke="#2a768e"/><path d="M362.3 241.8h0M312.0 243.5h0M299.5 247.0h0M360.0 225.2h0M340.3 245.2h0M339.3 232.5h0M324.3 238.1h0M349.8 248.2h0M318.4 224.8h0" stroke="#26818e"/><path d="M348.4 246.6h0M362.9 246.2h0" stroke="#58c765"/><path d="M319.4 201.0h0M315.0 206.0h0" stroke="#472e7c"/><path d="M312.0 246.3h0" stroke="#70cf57"/><path d="M362.4 248.0h0M310.3 241.1h0M352.9 244.4h0M352.6 233.9h0" stroke="#2f6c8e"/><path d="M364.0 248.2h0M355.7 241.9h0M346.3 233.1h0M310.3 241.5h0" stroke="#228b8d"/><path d="M359.6 248.0h0M345.8 238.6h0" stroke="#24aa83"/><path d="M324.3 207.8h0" stroke="#482071"/><path d="M338.6 243.7h0" stroke="#8bd646"/><path d="M310.1 248.3h0" stroke="#2fb47c"/><path d="M349.2 238.4h0" stroke="#42be71"/><path d="M360.5 225.6h0M359.0 237.3h0M352.5 231.7h0M311.9 244.8h0M337.7 239.2h0M334.1 235.4h0M349.3 244.1h0M313.4 244.2h0M306.6 246.0h0M314.3 230.4h0M334.6 224.1h0M323.2 239.4h0M301.6 248.0h0M353.8 233.0h0M331.0 247.8h0M340.1 245.2h0M331.6 241.9h0M330.2 221.9h0M318.9 222.8h0M339.0 230.7h0M324.6 223.8h0M324.6 237.7h0M333.0 237.0h0M327.6 218.4h0M362.1 237.4h0M332.5 214.4h0M306.9 244.7h0M284.2 247.9h0M304.3 248.2h0M345.8 243.7h0M320.8 190.2h0M352.5 219.4h0M328.0 240.2h0M342.7 239.4h0M355.2 239.4h0M354.9 237.4h0M313.2 244.2h0M316.8 239.4h0M321.7 240.9h0M336.4 245.8h0M352.9 242.2h0M315.9 235.6h0M344.2 241.3h0M333.0 241.2h0M319.3 239.1h0M322.3 224.9h0M344.7 245.8h0M361.6 243.3h0M343.6 229.9h0M323.9 231.2h0M344.0 238.3h0M357.2 225.5h0M345.5 244.9h0M338.1 238.1h0M317.4 242.5h0M317.6 236.0h0M335.0 236.1h0M324.0 227.2h0M338.2 240.3h0M352.9 216.7h0M320.8 233.4h0M315.2 240.0h0M362.7 246.4h0M337.3 238.3h0M359.4 243.8h0M357.5 239.8h0M350.9 229.5h0M353.3 246.8h0M327.3 247.5h0M316.4 238.7h0M317.4 237.4h0M327.6 240.3h0M333.0 231.9h0M323.2 233.8h0M357.5 240.3h0M308.4 246.4h0" stroke="#3f4889"/><path d="M358.4 240.4h0M311.0 243.6h0M344.3 225.5h0M324.0 246.5h0M324.2 229.4h0M321.1 228.7h0M358.2 226.7h0M323.0 231.0h0M291.9 247.9h0M350.3 246.3h0M320.6 229.6h0M318.7 246.0h0M304.2 239.1h0M319.8 245.9h0M345.6 244.9h0M328.3 238.3h0M330.3 245.3h0M323.9 245.5h0M325.3 234.5h0M332.2 219.8h0M321.4 236.1h0M306.8 248.1h0M359.2 235.6h0M327.5 247.6h0M356.4 242.0h0M316.3 245.3h0M329.5 244.0h0M329.9 245.7h0M350.8 224.9h0M336.9 232.8h0M360.5 219.9h0M328.9 236.2h0M324.4 230.7h0M358.2 241.4h0M359.0 236.7h0M359.7 225.5h0M360.7 236.9h0M323.2 229.5h0M313.9 239.7h0M361.0 238.7h0M348.7 235.6h0M309.5 245.1h0" stroke="#443b84"/><path d="M353.2 247.3h0M332.4 233.0h0M327.2 245.2h0M311.7 247.6h0M359.4 234.0h0M342.3 229.7h0M319.4 242.9h0M344.2 235.4h0M330.0 235.6h0M353.7 245.1h0M350.3 228.1h0M350.9 241.5h0M339.7 239.1h0M318.9 208.7h0M327.4 245.4h0M323.0 198.8h0M358.7 227.7h0M347.7 242.5h0M321.8 240.8h0M318.4 235.5h0M354.0 237.9h0M358.9 242.8h0M322.6 232.5h0M289.7 247.0h0M324.7 237.2h0M358.0 207.5h0M361.4 244.7h0M326.6 240.1h0M322.1 244.1h0M341.1 238.6h0M336.8 242.9h0M351.0 236.7h0M361.0 240.8h0M321.0 231.3h0" stroke="#34608d"/><path d="M323.5 219.7h0M360.2 222.6h0M318.6 248.2h0M329.4 240.4h0M362.4 243.0h0M345.7 240.2h0M332.8 231.2h0M348.6 239.3h0M363.2 235.9h0M357.1 240.3h0M298.9 247.2h0M361.0 243.5h0M337.5 240.2h0M316.9 243.0h0M357.3 243.5h0M303.4 246.8h0M353.0 235.9h0M329.7 235.8h0M355.3 247.2h0M340.0 236.1h0M349.9 242.2h0M339.2 243.1h0M345.8 232.0h0M316.8 234.5h0M322.3 246.1h0M352.1 226.3h0M327.3 244.2h0M329.1 232.3h0M324.5 234.3h0M325.3 238.7h0M354.6 221.5h0M345.1 236.2h0M337.7 232.8h0M354.5 244.5h0M327.2 241.1h0M346.2 241.0h0M310.5 248.0h0M332.8 243.5h0M318.8 229.0h0M323.6 224.3h0M314.7 244.8h0M337.4 248.0h0M325.4 244.5h0M355.0 237.3h0M309.9 240.3h0M315.3 231.9h0M357.7 211.3h0M328.2 234.0h0M314.6 240.4h0M348.8 241.9h0M324.4 231.8h0M337.6 246.7h0M316.9 245.4h0M318.3 229.6h0M322.4 236.5h0M312.2 242.0h0M341.3 233.8h0M293.6 246.2h0M360.3 238.1h0M321.9 240.4h0M356.7 239.4h0M342.2 235.9h0M322.2 243.2h0M339.3 222.2h0" stroke="#3a548c"/><path d="M298.5 246.1h0M311.5 248.2h0M356.2 237.0h0M325.8 245.0h0M352.7 240.0h0M326.2 237.3h0" stroke="#26818e"/><path d="M319.5 245.9h0M364.1 248.1h0M363.5 246.0h0M354.6 246.4h0M351.4 247.5h0M339.7 248.2h0M351.5 245.9h0M347.5 247.0h0M334.6 247.7h0M336.5 239.6h0M317.3 247.7h0M356.2 246.5h0M348.7 246.2h0M349.4 246.0h0M317.9 247.2h0M320.7 245.8h0" stroke="#fde725"/><path d="M361.5 247.9h0M347.7 240.8h0" stroke="#42be71"/><path d="M310.7 242.9h0M308.7 243.4h0M311.7 244.5h0M319.5 247.6h0" stroke="#1f958b"/><path d="M351.7 247.8h0M314.7 241.0h0M342.0 247.2h0M363.1 247.1h0M330.1 240.5h0M332.3 232.6h0M335.3 243.7h0M356.6 239.3h0M332.9 247.9h0M314.8 247.0h0" stroke="#228b8d"/><path d="M351.0 208.0h0M353.1 188.2h0" stroke="#482071"/><path d="M332.6 238.3h0" stroke="#24aa83"/><path d="M314.3 237.6h0" stroke="#58c765"/><path d="M352.5 244.6h0M356.1 247.7h0M289.9 248.0h0M363.9 246.2h0" stroke="#2f6c8e"/><path d="M329.1 246.4h0M363.1 248.2h0M317.7 247.9h0M313.0 243.4h0" stroke="#70cf57"/><path d="M361.2 246.3h0" stroke="#2fb47c"/><path d="M326.4 243.0h0M363.1 238.5h0M336.1 247.0h0M357.4 237.1h0" stroke="#2a768e"/><path d="M375.0 244.0h0" stroke="#a8db34"/><path d="M326.8 192.3h0" stroke="#472e7c"/><path d="M318.8 246.3h0M328.2 237.2h0M350.8 245.0h0M314.8 232.0h0M323.0 245.0h0M332.8 242.8h0M327.2 244.6h0M327.6 243.9h0" stroke="#2f6c8e"/><path d="M312.5 246.7h0M328.8 240.4h0M327.6 233.5h0M350.1 243.5h0M339.4 240.4h0M341.1 233.5h0M339.3 238.9h0M322.7 215.6h0M340.8 224.3h0M335.6 240.9h0M360.2 236.3h0M342.6 241.3h0M329.2 240.6h0M360.1 245.7h0M355.7 238.1h0M322.7 229.9h0M311.8 234.5h0M321.2 233.2h0M345.6 240.0h0M335.4 238.4h0M352.6 243.4h0M334.7 237.2h0M338.5 244.5h0M319.9 199.9h0M327.4 220.1h0M358.1 245.5h0M332.8 236.4h0M317.9 231.2h0M348.1 241.3h0M318.6 237.7h0M355.7 239.2h0M312.6 237.4h0M316.3 247.7h0M313.1 240.3h0M323.7 221.0h0M330.5 232.2h0M337.8 227.8h0M315.5 240.0h0M348.7 230.7h0M341.2 239.9h0M349.5 236.5h0M325.1 244.5h0" stroke="#443b84"/><path d="M314.6 244.4h0M336.2 223.4h0M327.7 238.0h0M342.9 236.3h0M324.8 218.2h0M318.6 238.9h0M355.4 243.7h0M329.8 243.0h0M329.2 229.5h0M333.5 223.1h0M339.3 243.8h0M356.6 245.7h0M285.7 247.9h0M344.3 239.4h0M303.7 245.1h0M340.3 243.7h0M319.8 233.5h0M308.9 244.2h0M302.3 245.7h0M347.0 241.3h0M345.5 231.9h0M325.3 236.0h0M345.0 235.5h0M327.6 242.8h0M297.8 244.0h0M349.3 244.7h0M357.2 243.0h0M311.7 243.3h0M349.0 242.9h0M361.0 232.9h0M310.7 235.5h0M315.5 242.0h0M356.4 223.0h0M317.7 240.0h0M340.9 235.4h0M352.8 228.7h0M350.4 240.8h0M325.5 240.1h0M340.5 242.5h0M307.8 240.5h0M347.6 239.5h0M294.7 244.9h0M342.6 241.5h0M356.9 236.7h0M341.4 235.9h0M357.8 214.1h0M311.0 246.6h0M316.8 227.3h0M322.8 236.6h0M342.1 247.5h0M324.4 231.7h0M339.5 240.8h0M335.0 237.8h0M356.4 236.9h0M336.7 242.9h0M315.6 224.8h0M319.2 234.3h0M338.7 241.8h0M311.7 247.2h0M341.7 241.7h0M339.2 247.0h0M335.1 246.0h0M312.6 242.4h0M328.5 238.9h0M347.7 245.7h0M317.7 240.2h0" stroke="#3a548c"/><path d="M326.6 234.3h0M320.5 234.7h0M310.3 243.8h0M345.5 242.3h0M308.5 240.6h0M319.4 223.2h0M305.4 239.8h0M329.7 240.5h0M353.3 221.7h0M321.3 237.1h0M325.8 230.6h0M360.8 222.7h0M301.2 244.2h0M347.0 247.8h0M345.9 241.3h0M305.6 243.4h0M314.2 235.0h0M357.4 239.4h0M320.8 234.0h0M328.0 236.0h0M341.2 223.9h0M332.0 240.3h0M340.8 239.8h0M332.6 233.2h0M355.2 219.5h0M310.4 247.1h0M308.4 237.9h0M352.4 231.0h0M341.8 233.0h0M364.4 241.0h0M323.4 237.0h0M334.2 233.0h0M352.9 231.4h0M328.0 237.5h0M347.2 242.4h0M321.5 162.5h0M324.4 232.9h0M314.1 233.9h0M348.2 243.6h0M352.8 247.1h0M323.2 238.9h0M332.8 225.5h0M307.1 229.0h0M316.6 237.3h0M300.6 244.2h0M336.0 247.1h0M350.2 244.3h0M291.9 247.4h0M348.9 212.1h0M362.7 236.8h0M308.5 247.8h0M311.2 244.4h0M339.8 245.1h0M309.8 241.7h0M334.6 238.8h0M306.7 247.2h0M358.7 237.5h0M337.8 242.5h0M358.5 238.6h0M309.9 248.2h0M339.3 244.6h0M321.2 226.0h0M327.0 239.8h0M321.8 227.0h0M314.1 245.1h0M284.2 247.9h0M324.5 240.3h0M329.4 245.7h0M354.7 236.5h0M334.1 237.7h0M328.4 239.6h0M337.0 247.3h0M360.6 222.4h0" stroke="#3f4889"/><path d="M327.9 236.2h0M327.9 242.5h0M312.9 244.6h0M341.0 235.7h0M316.0 237.8h0M356.3 215.7h0M361.1 242.7h0M317.9 243.7h0M327.6 243.7h0M357.2 240.6h0M321.0 238.4h0M313.2 240.4h0M348.3 235.7h0M333.9 232.2h0M309.6 246.9h0M329.1 236.2h0M316.4 247.8h0M349.1 237.6h0M355.2 244.5h0M341.5 237.7h0M360.8 237.5h0M348.6 244.3h0M354.2 245.9h0M348.8 242.6h0M353.7 227.1h0M354.6 232.4h0M325.1 229.2h0M328.1 246.7h0M356.6 246.4h0M352.4 234.0h0M316.3 244.8h0M332.5 247.5h0M340.7 240.3h0M352.0 242.4h0M325.2 233.2h0M318.3 237.6h0M350.7 215.7h0M335.8 244.8h0M329.9 240.0h0M350.8 233.1h0M355.0 248.0h0" stroke="#34608d"/><path d="M356.8 247.9h0M355.7 239.2h0M333.8 247.6h0M311.7 243.3h0" stroke="#24aa83"/><path d="M325.4 240.7h0M354.4 243.3h0M323.5 237.0h0M300.0 247.0h0M359.8 248.1h0M315.9 246.5h0M334.4 244.4h0" stroke="#2a768e"/><path d="M346.1 238.2h0M343.2 234.7h0M356.7 239.6h0M296.1 247.8h0M327.8 236.6h0M341.8 245.9h0" stroke="#1f958b"/><path d="M361.1 243.4h0M352.5 237.1h0M322.0 245.9h0" stroke="#70cf57"/><path d="M304.2 247.5h0M317.2 245.5h0M344.1 245.3h0M335.5 233.8h0M337.8 244.3h0" stroke="#228b8d"/><path d="M339.7 246.7h0M347.3 246.8h0M331.8 247.5h0M336.3 246.3h0M327.9 248.3h0M351.8 246.1h0M326.3 234.7h0M333.0 247.0h0M348.1 246.2h0M355.5 246.3h0M320.6 246.4h0" stroke="#fde725"/><path d="M313.3 246.0h0" stroke="#1fa088"/><path d="M348.9 239.7h0M311.6 248.0h0" stroke="#58c765"/><path d="M340.7 241.8h0M363.6 242.9h0" stroke="#26818e"/><path d="M335.8 246.9h0" stroke="#42be71"/><path d="M351.6 241.3h0" stroke="#2fb47c"/></g>
</g>
<rect x="274.84" y="144.70" width="106.70" height="104.20" fill="none" stroke="#606060" stroke-width="1.3"/>
<text x="274.44" y="260.80" font-size="7.40" text-anchor="middle">10<tspan dy="-2.7" font-size="5.18">−2</tspan></text>
<text x="304.94" y="260.80" font-size="7.40" text-anchor="middle">10<tspan dy="-2.7" font-size="5.18">0</tspan></text>
<text x="335.44" y="260.80" font-size="7.40" text-anchor="middle">10<tspan dy="-2.7" font-size="5.18">2</tspan></text>
<text x="365.94" y="260.80" font-size="7.40" text-anchor="middle">10<tspan dy="-2.7" font-size="5.18">4</tspan></text>
<text x="328.19" y="270.9" font-size="7.75" text-anchor="middle">GDP (Million Dollars)</text>
<clipPath id="cb3"><rect x="396.96" y="144.70" width="106.70" height="104.20"/></clipPath>
<g clip-path="url(#cb3)">
<g fill="none" stroke-linecap="round" stroke-width="2.10" filter="url(#bl)"><path d="M445.8 240.8h0M444.3 243.3h0M449.2 241.5h0M436.7 237.5h0M449.7 238.9h0M460.0 225.6h0M471.5 210.0h0M483.5 243.2h0M452.8 207.8h0M445.9 237.9h0M452.8 204.5h0M416.1 246.6h0M452.5 180.3h0M458.0 227.1h0M451.5 188.5h0M450.2 236.5h0M475.1 229.8h0M447.0 216.5h0M458.6 233.1h0M467.6 246.2h0M457.8 229.3h0M440.1 228.8h0M459.0 241.1h0M446.0 243.2h0M462.0 242.3h0M465.5 245.5h0M452.4 222.3h0M435.2 232.7h0M482.0 205.0h0M438.9 237.3h0M448.9 236.4h0M412.9 247.3h0M413.9 239.3h0M453.2 241.3h0M442.4 232.2h0M450.7 231.4h0M448.1 156.8h0M455.8 225.8h0M442.9 221.4h0M410.3 246.3h0M457.5 228.5h0M474.6 237.4h0M453.0 184.7h0M454.4 225.0h0M445.1 244.8h0M447.2 239.3h0M433.0 241.1h0M440.9 247.2h0M450.4 190.7h0M436.2 246.6h0M482.0 246.4h0M443.6 229.3h0M479.6 247.1h0M422.0 242.8h0M405.1 247.4h0M437.3 247.1h0" stroke="#443b84"/><path d="M468.2 247.1h0M465.0 243.5h0M483.1 240.6h0M471.3 248.1h0M435.2 245.0h0M455.3 226.8h0" stroke="#228b8d"/><path d="M420.5 242.2h0M470.8 238.3h0M406.0 248.0h0M437.2 230.5h0M422.5 236.7h0M463.8 245.6h0M472.9 194.5h0M459.6 219.3h0M455.2 223.5h0M441.2 229.1h0M435.4 232.8h0M455.0 233.4h0M422.3 238.3h0M410.3 245.8h0M458.0 210.6h0M472.2 234.1h0M430.0 241.5h0M452.8 230.8h0M460.9 235.7h0M424.3 239.4h0M467.3 218.3h0M443.5 235.9h0M453.1 225.4h0M429.9 242.8h0M444.0 245.5h0M453.4 232.0h0M409.6 248.0h0M439.7 231.0h0M448.8 219.3h0M440.9 215.6h0M435.8 245.7h0M424.0 247.6h0M431.7 245.2h0M480.8 240.8h0M437.5 241.6h0M453.4 243.1h0M452.4 224.6h0M449.8 244.5h0M428.5 244.4h0M428.2 247.4h0M458.8 230.7h0M467.7 237.5h0M443.5 230.1h0M454.2 212.6h0M434.3 236.1h0M467.0 243.0h0M479.2 239.1h0M473.5 209.6h0M437.4 233.7h0M440.6 232.7h0M444.7 227.8h0M435.4 242.5h0M439.2 226.1h0M430.3 235.4h0M468.5 243.0h0M484.5 237.7h0M418.5 245.4h0M452.9 244.5h0M441.1 245.7h0M434.4 231.5h0M483.2 240.0h0M453.7 211.0h0M429.5 243.5h0M439.4 213.0h0M440.0 243.1h0M447.9 231.1h0M458.6 245.8h0M430.6 247.0h0M449.6 221.0h0M456.3 238.8h0M415.7 243.8h0M444.5 206.4h0M456.2 222.6h0M424.2 241.1h0M445.1 237.1h0M403.0 248.2h0M441.0 241.0h0M412.1 247.2h0M471.6 216.3h0M433.7 240.6h0M469.6 244.1h0M438.8 232.1h0M453.0 200.2h0M459.4 235.9h0M468.5 230.2h0M453.9 204.4h0M440.9 242.8h0M435.2 238.9h0M466.8 227.6h0M474.4 224.3h0M460.9 202.7h0M449.4 212.1h0M479.8 245.0h0M438.3 233.9h0M455.9 245.4h0M449.6 216.0h0M443.1 238.7h0M450.1 207.7h0M435.4 243.5h0M451.6 213.1h0M458.7 224.8h0M442.3 236.4h0M444.5 245.2h0M473.9 245.5h0M447.8 197.4h0M486.9 240.9h0M417.1 241.3h0M453.1 225.2h0M455.6 218.4h0M448.9 205.4h0M448.7 225.7h0M453.0 233.5h0M457.2 226.4h0" stroke="#3f4889"/><path d="M450.2 182.0h0M448.4 227.2h0M453.9 220.4h0M450.1 233.6h0M465.7 235.2h0M459.3 210.7h0M464.0 239.1h0M457.4 240.4h0M457.8 232.5h0M475.0 224.7h0M476.6 245.3h0M446.8 222.5h0M430.5 245.4h0M417.0 246.5h0M448.8 203.3h0M462.4 239.9h0M452.4 245.2h0M462.4 237.1h0M477.6 240.7h0M450.2 242.4h0M468.7 244.2h0M471.4 244.8h0M448.6 231.7h0M444.7 231.1h0M448.8 227.1h0M439.9 237.0h0M465.7 243.2h0M485.2 247.1h0M475.1 234.9h0M440.7 219.7h0M452.3 238.5h0M453.3 245.6h0M442.8 223.7h0M443.2 239.3h0M454.6 212.7h0M441.9 236.8h0M460.0 242.5h0M408.5 248.0h0M471.9 240.2h0M445.8 231.0h0M445.3 230.9h0M440.6 237.0h0M451.4 205.4h0M448.9 241.5h0M438.5 240.2h0M452.5 220.9h0M465.3 241.2h0M455.4 248.0h0M442.2 236.0h0M456.0 242.7h0M456.6 231.6h0M432.0 248.1h0M463.2 240.6h0M463.2 217.4h0M473.0 239.4h0M453.2 228.4h0M449.7 238.2h0M404.0 248.0h0M462.2 241.0h0M426.5 248.2h0M442.6 248.0h0M427.7 237.4h0M482.4 247.0h0M430.3 242.5h0M460.1 230.7h0M416.6 246.7h0M480.5 233.5h0M431.0 245.5h0M467.7 235.3h0M446.7 236.0h0M451.3 242.9h0M478.9 247.9h0M457.7 239.5h0M455.0 237.8h0M459.1 223.1h0M438.7 240.7h0M473.9 239.3h0M478.3 236.4h0M441.9 228.5h0M440.2 227.3h0M416.9 246.4h0M445.6 212.9h0M454.1 226.2h0M446.1 235.3h0M477.3 228.9h0M451.5 232.9h0M448.1 214.5h0M487.1 244.5h0M432.4 238.4h0M429.3 238.1h0M406.1 248.2h0M474.9 242.2h0M439.5 237.7h0M459.6 240.6h0M445.2 228.4h0M424.8 242.4h0M450.9 239.4h0M441.9 220.5h0M455.2 243.3h0M427.6 240.2h0M483.2 246.3h0M442.2 226.9h0M451.9 223.3h0M471.8 241.2h0M434.6 242.6h0M452.0 218.3h0M473.1 247.1h0M459.4 240.3h0" stroke="#3a548c"/><path d="M445.4 237.4h0M455.3 236.9h0M413.6 246.7h0M458.0 237.7h0M457.3 246.7h0M455.0 246.3h0M423.5 246.2h0M418.3 242.8h0" stroke="#26818e"/><path d="M479.0 247.1h0M472.9 246.3h0" stroke="#58c765"/><path d="M442.5 229.3h0M467.9 223.3h0M454.5 221.0h0" stroke="#2f6c8e"/><path d="M474.0 230.0h0M431.9 247.7h0M454.6 246.6h0M455.9 239.8h0M473.4 241.6h0M452.9 233.5h0M433.3 241.2h0M429.2 245.8h0M441.4 247.8h0M446.1 225.1h0M429.6 242.1h0M456.5 236.4h0M451.2 239.7h0M412.5 246.8h0M415.9 246.4h0M448.8 235.6h0M469.4 238.9h0M481.0 245.4h0M443.8 220.5h0M450.2 219.7h0M432.3 237.9h0" stroke="#34608d"/><path d="M463.9 243.0h0M468.7 232.3h0M461.1 229.0h0M451.1 239.0h0M456.5 248.1h0M437.1 247.1h0M451.4 247.1h0M474.9 246.3h0M483.5 247.7h0M449.3 234.1h0" stroke="#fde725"/><path d="M465.3 237.4h0M465.3 241.9h0M448.2 242.9h0M437.0 246.0h0M437.7 240.3h0M444.3 247.6h0" stroke="#2a768e"/><path d="M468.4 245.7h0M477.6 247.1h0M452.4 245.9h0" stroke="#1f958b"/><path d="M429.7 239.6h0M414.6 243.3h0M464.1 248.2h0" stroke="#2fb47c"/><path d="M475.2 245.9h0M459.5 237.9h0M461.2 237.6h0M467.4 246.0h0" stroke="#24aa83"/><path d="M438.1 237.4h0" stroke="#42be71"/><path d="M453.9 227.1h0M457.7 239.0h0M460.9 234.7h0M438.2 230.6h0M451.4 231.4h0M447.9 198.1h0M466.4 234.7h0M447.9 233.1h0M417.6 246.7h0M445.2 246.0h0M454.9 229.9h0M427.9 246.2h0M477.9 238.1h0M453.3 231.1h0M468.0 237.9h0M434.9 245.9h0M446.5 245.4h0M446.8 235.0h0M450.5 241.1h0M435.9 228.7h0M426.9 241.3h0M440.0 234.8h0M439.3 245.7h0M458.1 246.4h0M444.8 228.8h0M444.8 242.0h0M478.4 239.1h0M424.1 248.3h0M435.5 238.4h0M474.3 235.6h0M438.6 215.0h0M424.6 243.4h0M452.0 246.8h0M449.0 239.3h0M453.7 247.8h0M466.7 238.0h0M433.2 247.7h0M453.6 245.7h0M480.1 245.4h0M477.0 223.8h0M412.7 244.1h0M417.1 247.0h0M463.2 239.8h0M444.7 226.2h0M438.4 238.0h0M457.7 240.7h0M427.9 225.2h0M453.9 215.7h0M453.5 236.2h0M450.3 234.4h0M443.7 210.1h0M455.2 213.7h0M478.8 229.6h0M446.6 207.7h0M450.0 209.7h0M456.9 217.2h0M469.6 240.9h0M440.6 224.4h0M454.6 214.4h0M474.4 236.4h0M458.9 225.9h0M482.8 238.1h0M446.1 234.0h0M421.1 246.2h0M443.6 238.3h0M453.7 224.7h0M451.2 229.3h0M447.5 227.1h0M435.5 241.0h0M485.9 244.5h0M441.4 203.3h0M475.5 241.6h0M458.4 236.2h0M438.9 244.3h0M431.9 241.8h0M482.7 243.9h0M474.5 231.5h0M421.7 243.8h0M438.7 232.4h0M425.4 247.3h0M425.2 235.8h0M413.1 247.0h0M442.3 231.9h0M454.0 229.1h0M444.4 238.2h0M432.5 236.0h0M448.0 234.2h0M441.3 236.9h0M428.3 239.5h0M463.5 244.3h0M452.9 237.4h0M446.5 243.2h0M449.6 228.2h0M440.0 235.3h0M453.8 217.1h0M451.3 226.2h0M421.9 246.8h0M476.6 240.1h0M442.6 230.6h0M420.2 246.9h0" stroke="#3f4889"/><path d="M442.0 212.1h0M436.6 246.8h0M467.6 220.8h0M464.0 233.3h0M436.8 239.6h0M467.2 245.5h0M454.9 224.9h0M472.8 244.2h0M424.5 248.0h0M434.2 246.9h0M470.9 230.8h0M453.8 230.7h0M443.6 237.7h0M468.4 195.1h0M472.1 234.5h0M453.3 174.6h0M442.3 210.7h0M431.9 240.4h0M456.4 198.7h0M427.4 246.3h0M446.5 222.6h0M458.1 233.5h0M433.0 243.0h0M447.4 228.0h0M461.0 246.5h0M427.7 243.3h0M458.3 235.9h0M469.5 243.8h0M472.9 243.6h0M479.5 212.0h0M432.3 243.0h0M464.0 200.5h0M449.8 247.2h0M479.5 238.0h0M453.5 227.3h0M402.5 246.7h0M451.9 228.5h0M447.2 226.8h0M437.1 239.0h0M434.0 235.7h0M442.3 227.9h0M440.5 237.7h0M445.4 237.0h0M419.7 246.0h0M484.4 247.7h0M432.5 217.2h0M458.8 237.9h0M433.6 243.8h0M456.3 236.8h0M474.2 240.2h0M478.9 226.4h0M452.6 244.2h0M451.1 243.8h0M442.6 241.1h0M438.6 233.3h0M449.1 224.0h0M451.8 217.5h0M471.1 199.8h0M460.6 240.5h0M455.3 224.5h0M451.4 235.4h0M452.9 232.4h0M439.0 247.5h0M443.0 237.9h0M462.7 223.4h0M455.2 237.2h0M462.2 242.4h0M443.4 247.9h0M481.1 222.6h0M450.7 239.4h0M456.9 209.8h0M447.1 196.4h0M445.1 232.7h0M439.4 220.7h0M475.3 240.9h0" stroke="#443b84"/><path d="M451.9 240.3h0M444.3 240.0h0M450.8 244.7h0M470.0 230.6h0M481.8 241.8h0M482.7 240.4h0M466.3 244.0h0M451.3 225.4h0M444.9 240.3h0M443.0 238.7h0" stroke="#228b8d"/><path d="M455.9 229.9h0M457.8 239.8h0M460.8 239.3h0M450.9 234.8h0M444.8 212.2h0M451.6 189.3h0M452.2 239.9h0M462.5 245.4h0M431.9 244.0h0M427.9 248.0h0M472.7 243.9h0M433.1 247.5h0M449.1 234.3h0M456.0 238.8h0M447.6 226.2h0M464.3 223.5h0M478.9 244.3h0M450.7 236.9h0M452.8 235.4h0M474.8 235.3h0M471.2 227.7h0M455.6 221.3h0M441.7 227.1h0M435.8 240.3h0M457.3 239.3h0M459.2 209.6h0M441.0 241.0h0M447.5 226.0h0M460.7 227.9h0M459.3 219.9h0M485.1 236.5h0M438.2 241.8h0M480.5 239.9h0M458.7 240.1h0M429.9 237.8h0M469.2 237.4h0M429.8 228.3h0M418.5 242.9h0M484.8 236.1h0M403.2 247.7h0M450.8 221.8h0M474.1 239.7h0M469.7 241.1h0M447.3 242.7h0M454.7 231.6h0M443.9 189.0h0M431.0 238.4h0M442.4 246.0h0M453.9 219.9h0M444.6 235.7h0M456.7 235.5h0M426.1 234.1h0M442.3 230.7h0M438.1 239.4h0M431.9 225.8h0M413.9 245.3h0M459.0 236.3h0M463.9 245.2h0M478.3 237.2h0M451.6 236.9h0M471.8 241.7h0M450.6 237.5h0M417.6 246.3h0M434.7 236.9h0M427.4 225.6h0M456.7 248.0h0M421.0 247.3h0M434.9 243.7h0M452.3 207.2h0M456.5 233.9h0M469.3 244.2h0M409.4 247.7h0M418.5 245.8h0M406.5 245.8h0M443.5 226.4h0M445.3 222.9h0M454.4 207.8h0M454.7 217.0h0M446.6 239.3h0M455.2 213.4h0M476.5 234.1h0M413.5 248.1h0M445.3 216.7h0M451.8 223.2h0M443.1 231.8h0M465.7 232.9h0M469.0 237.5h0M410.0 247.1h0M416.2 245.8h0M441.4 241.7h0M460.4 246.5h0M448.0 210.9h0M443.8 236.1h0M425.6 244.0h0M451.3 218.6h0M457.9 243.1h0M453.1 233.8h0M474.3 237.8h0M451.9 244.8h0M465.9 235.6h0M442.8 243.9h0M433.0 245.4h0M461.5 235.5h0M475.2 244.9h0M444.4 195.0h0M471.8 237.6h0M435.4 244.7h0M482.6 240.9h0M456.1 239.5h0M431.0 243.4h0M418.2 243.9h0M464.4 247.2h0M452.5 228.7h0M453.8 245.5h0" stroke="#3a548c"/><path d="M476.4 246.4h0M416.0 237.0h0M450.1 234.8h0M460.3 229.5h0M436.2 230.0h0M428.2 231.3h0M454.2 243.8h0M428.0 236.1h0M475.5 247.8h0M462.5 239.5h0M456.2 234.1h0M446.6 219.3h0M455.6 242.0h0" stroke="#34608d"/><path d="M456.1 237.7h0M484.6 241.5h0" stroke="#2fb47c"/><path d="M458.6 246.6h0M453.7 247.9h0M453.0 247.8h0M439.0 246.0h0M465.7 246.4h0M456.6 246.5h0M480.3 247.1h0M446.8 199.0h0" stroke="#fde725"/><path d="M484.6 244.5h0M471.2 241.5h0M467.6 236.0h0M415.9 244.6h0M437.4 247.9h0M433.7 248.0h0" stroke="#2f6c8e"/><path d="M405.4 247.5h0" stroke="#58c765"/><path d="M453.3 244.5h0M438.9 248.2h0M449.5 221.0h0M460.9 237.9h0" stroke="#2a768e"/><path d="M442.5 238.7h0M428.5 236.5h0M462.3 239.7h0M456.5 248.0h0M482.5 246.7h0" stroke="#26818e"/><path d="M486.5 248.0h0" stroke="#1fa088"/><path d="M435.9 236.4h0M473.7 234.8h0" stroke="#1f958b"/><path d="M469.6 246.1h0" stroke="#24aa83"/><path d="M446.1 237.2h0M482.8 244.5h0" stroke="#42be71"/><path d="M452.8 184.6h0M448.3 228.6h0M458.4 216.3h0M439.9 245.5h0M409.7 247.4h0M420.1 246.9h0M444.3 239.2h0M444.6 236.6h0M465.0 162.7h0M478.7 241.8h0M454.6 247.5h0M440.9 241.1h0M440.4 227.0h0M486.0 241.6h0M444.8 224.4h0M447.4 227.2h0M482.6 243.4h0M483.7 243.8h0M447.2 239.8h0M470.5 243.7h0M423.0 236.0h0M469.7 242.4h0M449.0 195.0h0M439.3 235.9h0M461.3 242.8h0M425.7 246.5h0M442.1 239.9h0M457.8 241.5h0M424.7 244.3h0M456.7 227.7h0M447.4 230.7h0M480.0 237.9h0M471.9 242.1h0M466.6 235.6h0M458.2 231.7h0M450.0 205.6h0M467.0 213.5h0M469.3 241.6h0M459.3 236.4h0M460.5 245.1h0M457.7 243.9h0M450.5 233.9h0M451.9 213.3h0M435.5 236.5h0M467.0 244.1h0M422.9 233.1h0M430.1 247.2h0M455.5 234.7h0M415.8 247.0h0M472.5 245.4h0M413.0 246.2h0M454.4 227.4h0M456.8 235.3h0M452.2 241.2h0M440.9 246.6h0M423.8 227.4h0M459.1 232.4h0M417.3 244.8h0M437.1 239.6h0M433.1 241.0h0M437.4 243.0h0M444.7 240.4h0" stroke="#443b84"/><path d="M476.4 237.9h0M402.1 246.9h0M443.3 233.3h0M482.0 245.7h0M441.7 238.9h0M472.1 221.1h0M444.5 245.7h0M404.0 248.3h0M463.3 246.4h0M452.9 240.2h0M452.9 215.5h0" stroke="#2f6c8e"/><path d="M437.2 230.9h0M459.6 231.5h0M448.7 206.9h0M411.2 244.0h0M460.0 240.6h0M454.9 213.9h0M458.1 236.3h0M431.2 236.7h0M465.8 229.5h0M452.7 217.3h0M451.5 245.9h0M457.9 242.1h0M455.0 230.4h0M432.2 240.6h0M443.7 235.5h0M461.6 209.3h0M477.1 238.6h0M442.6 240.3h0M457.3 237.7h0M436.2 240.0h0M429.5 240.1h0M437.7 241.8h0M431.0 240.3h0M429.9 240.6h0M433.6 246.0h0M429.6 228.5h0M465.9 238.0h0M434.5 232.8h0M453.1 217.1h0M407.2 246.3h0M438.6 233.1h0M437.6 243.8h0M446.1 238.4h0M446.3 219.5h0M458.8 226.8h0M440.8 244.4h0M468.4 242.2h0M480.8 228.6h0M467.3 230.6h0M410.8 243.9h0M459.8 245.0h0M428.3 246.2h0M451.5 227.7h0M453.4 243.7h0M451.3 224.5h0M440.7 238.0h0M439.5 246.0h0M445.0 203.3h0M462.9 238.0h0M456.8 245.8h0M455.3 213.6h0M437.5 237.5h0M409.0 246.2h0M460.9 232.8h0M423.2 238.3h0M436.8 211.5h0M430.5 239.9h0M456.0 226.6h0M460.3 227.0h0M440.2 230.5h0M469.0 241.9h0M444.0 234.1h0M450.8 231.6h0M448.0 227.7h0M487.3 248.2h0M447.4 212.1h0M441.3 240.8h0M470.2 248.0h0M462.6 228.7h0M441.9 231.5h0M441.9 229.5h0M482.7 244.1h0M483.9 246.4h0M448.9 231.0h0M452.6 236.1h0M462.7 237.4h0M470.0 244.2h0M419.4 245.5h0M453.0 228.2h0M454.7 228.5h0M448.3 223.7h0M464.7 241.0h0M438.3 248.0h0M448.5 239.0h0M427.9 245.4h0M422.4 247.1h0M437.1 228.4h0M457.0 212.1h0M430.3 243.4h0M438.3 231.3h0M415.1 246.6h0M472.3 229.1h0M439.7 228.5h0M451.8 225.4h0M453.4 244.3h0M446.8 229.4h0M447.1 228.7h0M445.1 184.6h0M476.8 248.0h0M468.1 244.3h0M439.1 240.3h0M485.9 243.6h0M466.9 225.1h0M443.8 228.2h0M438.9 233.9h0M447.7 244.6h0" stroke="#3f4889"/><path d="M425.5 241.4h0M437.7 236.4h0M445.3 240.8h0M464.0 240.2h0M486.4 247.1h0M444.9 221.4h0M440.5 240.6h0M482.7 242.4h0M440.8 210.5h0M452.3 230.6h0M459.1 225.2h0M457.3 213.6h0M470.7 237.7h0M465.2 233.2h0M444.5 222.5h0M443.1 239.2h0M459.7 237.5h0M460.8 233.1h0M444.3 241.7h0M443.3 227.2h0M450.3 227.2h0M457.4 235.2h0M454.6 240.4h0M454.9 198.8h0M453.2 240.5h0M442.1 237.0h0M416.1 238.6h0M453.9 210.4h0M464.8 242.7h0M455.4 232.8h0M428.6 238.2h0M446.5 226.4h0M453.0 222.6h0M463.3 243.2h0M434.1 237.9h0M445.6 235.0h0M456.5 241.4h0M447.3 215.5h0M447.9 202.5h0M453.8 208.9h0M438.2 238.4h0M452.1 238.8h0M445.7 236.8h0M454.8 232.4h0M452.9 235.8h0M466.3 246.0h0M463.5 236.6h0M457.4 232.8h0M420.9 245.0h0M480.6 239.7h0M444.6 242.1h0M446.2 218.2h0M431.4 239.1h0M448.0 241.5h0M452.0 224.1h0M458.0 237.9h0M484.5 243.7h0M464.3 247.8h0M450.3 238.0h0M431.3 245.8h0M430.2 231.0h0M448.2 224.4h0M427.2 244.8h0M446.9 234.4h0M448.6 243.2h0M429.5 239.9h0M485.1 247.2h0M451.6 217.7h0M450.4 246.3h0M468.2 245.5h0M459.9 237.8h0M429.2 240.4h0M446.2 220.1h0M454.6 243.5h0M441.5 243.5h0M471.5 235.5h0M481.0 233.0h0M415.7 246.7h0M422.9 248.0h0M484.6 243.3h0M467.4 230.2h0M468.7 231.3h0M445.7 221.8h0M439.8 235.4h0M452.4 231.2h0M445.8 243.1h0M479.3 238.3h0M455.4 229.7h0M460.7 239.7h0M464.8 236.4h0M442.3 240.4h0M459.1 218.5h0M457.0 205.6h0M441.2 238.8h0M442.7 245.2h0M438.7 210.1h0M449.6 234.3h0M405.9 246.2h0M429.8 229.0h0M459.7 230.7h0M477.0 239.3h0M450.7 235.4h0M434.1 232.1h0M437.5 217.4h0M467.7 247.4h0M448.8 215.4h0M447.0 245.2h0M465.0 232.3h0M469.5 244.7h0" stroke="#3a548c"/><path d="M438.5 238.8h0M444.1 216.8h0M470.2 246.9h0M474.2 234.8h0M463.8 246.4h0M441.9 247.4h0M424.5 245.6h0M460.8 246.8h0" stroke="#228b8d"/><path d="M451.7 241.5h0M450.9 229.2h0M450.8 247.3h0M449.7 247.9h0M443.5 231.1h0M454.5 231.8h0M425.6 235.5h0M468.8 246.3h0M467.4 247.5h0M458.1 234.9h0M454.0 240.2h0M450.3 225.4h0M410.2 246.9h0M410.7 244.3h0" stroke="#34608d"/><path d="M449.6 237.0h0M437.5 231.4h0M470.6 246.0h0" stroke="#2fb47c"/><path d="M449.9 243.8h0M449.3 240.6h0" stroke="#42be71"/><path d="M418.2 246.0h0M426.5 246.6h0M422.3 247.5h0M462.8 240.9h0" stroke="#26818e"/><path d="M433.8 234.6h0M443.0 239.4h0M469.7 241.1h0M453.2 226.9h0M441.8 236.5h0M471.1 243.7h0" stroke="#2a768e"/><path d="M472.1 244.4h0" stroke="#1fa088"/><path d="M453.9 247.6h0" stroke="#70cf57"/><path d="M437.5 237.2h0M449.6 236.2h0M442.9 229.3h0M454.1 227.0h0M451.6 213.7h0M442.0 242.6h0M453.3 243.2h0" stroke="#1f958b"/><path d="M457.2 245.7h0M431.5 242.5h0" stroke="#8bd646"/><path d="M443.2 247.8h0M455.0 245.7h0M452.1 247.9h0M442.2 239.0h0M445.9 246.9h0M449.1 246.5h0M448.9 248.2h0" stroke="#fde725"/><path d="M406.8 246.2h0M462.7 236.6h0M463.4 246.0h0M469.9 247.2h0" stroke="#2a768e"/><path d="M483.7 245.5h0M454.6 243.3h0M444.2 240.3h0M459.9 244.0h0M461.5 231.4h0M462.2 232.2h0M467.0 237.3h0M477.2 243.7h0M448.0 221.7h0M480.3 241.5h0M442.7 240.3h0M453.5 216.8h0M473.3 219.1h0M430.5 242.5h0M456.4 240.8h0M456.0 242.3h0M427.8 244.3h0M444.5 239.3h0M434.9 246.2h0M440.9 232.3h0M438.2 231.9h0M421.5 245.3h0M442.7 240.0h0M477.6 235.9h0M474.5 227.8h0M458.1 237.1h0M451.2 204.0h0M455.0 230.1h0M441.4 236.5h0M430.9 229.5h0M466.1 239.6h0M484.2 247.5h0M448.9 232.3h0M441.8 241.6h0M452.1 226.7h0M409.6 248.2h0M425.3 246.9h0M453.6 228.7h0M468.8 242.2h0M461.4 246.5h0M476.2 228.5h0M467.8 235.1h0M448.4 245.4h0M450.5 227.5h0M469.0 238.1h0M456.0 232.4h0M471.2 243.8h0M458.6 231.3h0M447.4 243.3h0M467.4 245.1h0M469.6 242.8h0M454.3 228.6h0M465.5 242.2h0M478.2 232.3h0M444.3 232.1h0M444.4 241.6h0M445.2 239.3h0M454.7 226.8h0M409.5 246.1h0M467.5 216.0h0M429.0 241.2h0M471.7 243.7h0M478.8 242.1h0M440.8 242.0h0M472.8 233.9h0M435.7 235.4h0M428.3 238.1h0M440.3 237.8h0M437.3 244.6h0M439.5 239.5h0M454.3 219.4h0M450.2 231.1h0M471.3 222.4h0M429.3 246.0h0M477.9 233.1h0M444.6 220.0h0M451.8 222.3h0M447.7 242.9h0M457.7 232.4h0M409.2 247.5h0M480.9 243.2h0M446.9 240.5h0M455.8 247.9h0M436.7 240.3h0M474.5 236.2h0M465.0 230.3h0M457.2 236.1h0M441.4 220.9h0M472.7 237.5h0M443.4 243.4h0M451.9 227.6h0M446.4 234.9h0M451.1 240.6h0M456.4 218.3h0M423.3 243.2h0M451.7 214.6h0M456.2 197.9h0M475.7 229.9h0M427.3 240.8h0M443.4 222.2h0M450.6 241.6h0M473.0 246.8h0M433.5 236.5h0M439.6 226.3h0M444.0 233.7h0M477.2 243.2h0M433.6 236.9h0M453.9 231.5h0" stroke="#3a548c"/><path d="M443.6 228.6h0M448.6 226.3h0M428.5 245.4h0M455.2 222.1h0M431.6 240.7h0M406.2 246.7h0M476.1 232.4h0M430.6 247.3h0M433.1 241.2h0M449.4 203.4h0M446.7 247.1h0M461.8 240.0h0M477.2 242.9h0M457.3 240.0h0M474.9 195.4h0M435.0 238.5h0M479.6 241.6h0M451.7 231.1h0M453.2 222.0h0M413.7 246.1h0M443.3 242.5h0M456.1 239.8h0M459.7 247.7h0M439.9 232.2h0M460.8 240.1h0M452.1 244.8h0M446.8 200.3h0M459.0 235.0h0M424.2 246.5h0M436.5 241.4h0M450.1 223.8h0M448.5 229.2h0M447.0 227.0h0M436.2 241.8h0M448.7 213.3h0M475.9 233.4h0M479.2 243.7h0M473.5 242.2h0M475.1 215.9h0M440.9 245.6h0M444.8 226.8h0M450.8 246.2h0M468.6 238.1h0M468.3 237.7h0M467.4 243.2h0M453.6 242.8h0M467.2 240.6h0M434.7 233.0h0M458.1 226.4h0M416.8 247.4h0M431.3 244.8h0M475.8 243.9h0M451.4 234.1h0M440.9 237.6h0M484.4 239.5h0M465.5 239.3h0M433.3 243.1h0M446.9 241.5h0M462.4 244.9h0M472.0 235.2h0M477.5 243.8h0M461.0 231.4h0M455.1 229.4h0M438.0 223.9h0M464.6 228.4h0M463.2 236.5h0M467.7 234.7h0M468.2 232.5h0M449.0 235.4h0M474.4 243.8h0M451.8 202.5h0M484.8 241.1h0M444.9 246.3h0M474.5 241.3h0M470.9 234.6h0M424.8 235.8h0M470.1 232.4h0M447.5 235.2h0M470.5 240.0h0M456.0 236.6h0M457.4 241.9h0M443.5 231.3h0M456.6 243.9h0M444.7 226.9h0M447.0 216.3h0M454.2 236.1h0M405.1 248.2h0M468.0 243.8h0M452.0 247.3h0M467.2 234.8h0M439.3 238.3h0M470.1 242.7h0M465.2 235.3h0M448.8 194.1h0M432.9 243.1h0M433.4 242.2h0M415.8 247.5h0M446.9 231.6h0M460.3 235.7h0M455.0 236.3h0M452.2 236.0h0M448.7 225.4h0M447.8 239.8h0M450.7 220.1h0M469.3 242.7h0M449.3 230.4h0M464.5 244.2h0M470.2 232.8h0M473.9 223.2h0M449.0 243.5h0M458.1 247.5h0M439.1 229.0h0M463.7 239.2h0M463.0 241.4h0M455.8 234.2h0M431.9 246.4h0M450.8 243.4h0M431.2 239.1h0M451.8 229.9h0M469.6 240.1h0M437.6 235.1h0M478.8 233.1h0M474.9 246.2h0M452.0 227.0h0M409.2 245.0h0M479.6 238.6h0" stroke="#3f4889"/><path d="M419.1 247.5h0M468.1 205.6h0M447.2 227.1h0M431.8 232.3h0M453.0 190.5h0M443.3 241.6h0M477.5 236.5h0M461.0 231.3h0M445.0 235.2h0M459.1 248.2h0M469.3 229.1h0M449.3 236.3h0M454.9 234.4h0M411.8 245.5h0M419.9 243.8h0M447.1 232.2h0M449.1 211.0h0M428.3 243.2h0M455.0 176.8h0M440.5 239.2h0M470.5 241.9h0M447.7 223.4h0M453.3 241.7h0M461.0 231.3h0M440.7 245.3h0M450.8 232.2h0M452.7 228.1h0M445.3 242.4h0M457.6 242.0h0M412.5 244.9h0M431.7 241.2h0M479.8 237.6h0M450.5 217.3h0M439.6 235.1h0M471.5 244.3h0M464.3 231.0h0M421.4 231.9h0M438.6 243.5h0M456.1 232.4h0M466.0 153.6h0M450.8 224.9h0M406.4 248.0h0M443.1 247.5h0M450.7 228.4h0M446.0 241.0h0M434.5 242.1h0M459.6 237.8h0M453.9 228.1h0M454.5 192.0h0M470.5 243.4h0M466.0 242.4h0M445.3 227.4h0M445.4 225.1h0M448.9 233.7h0M452.3 185.0h0M438.3 243.1h0M457.7 223.7h0M471.4 236.7h0M441.8 225.2h0M473.6 242.9h0" stroke="#443b84"/><path d="M456.6 237.4h0M483.1 242.3h0M434.6 244.0h0M453.9 201.4h0M465.1 244.2h0M445.2 215.9h0M435.0 245.5h0M455.7 241.3h0M453.0 206.1h0M450.5 244.0h0M459.1 242.6h0M474.9 232.1h0M440.5 235.0h0M471.4 234.3h0M444.8 231.8h0" stroke="#34608d"/><path d="M461.7 244.5h0M437.6 244.4h0M448.9 237.6h0M435.8 241.8h0M433.9 237.8h0" stroke="#2f6c8e"/><path d="M481.4 248.2h0M481.2 247.3h0M460.3 246.9h0M418.2 245.3h0M462.6 238.0h0M477.6 246.4h0" stroke="#fde725"/><path d="M453.2 212.2h0M433.9 245.7h0M468.6 247.6h0" stroke="#26818e"/><path d="M465.0 233.2h0" stroke="#70cf57"/><path d="M468.9 245.8h0" stroke="#1fa088"/><path d="M419.7 243.1h0M478.4 241.6h0" stroke="#2fb47c"/><path d="M438.5 243.5h0M409.4 245.4h0M455.8 241.5h0M468.4 214.7h0M454.9 245.2h0" stroke="#1f958b"/><path d="M443.8 247.5h0" stroke="#8bd646"/><path d="M418.8 243.9h0M483.4 246.1h0M442.7 244.9h0M442.0 235.1h0" stroke="#228b8d"/><path d="M483.8 245.9h0" stroke="#24aa83"/><path d="M461.3 246.5h0" stroke="#42be71"/></g>
</g>
<rect x="396.96" y="144.70" width="106.70" height="104.20" fill="none" stroke="#606060" stroke-width="1.3"/>
<text x="396.56" y="260.80" font-size="7.40" text-anchor="middle">10<tspan dy="-2.7" font-size="5.18">−2</tspan></text>
<text x="427.06" y="260.80" font-size="7.40" text-anchor="middle">10<tspan dy="-2.7" font-size="5.18">0</tspan></text>
<text x="457.56" y="260.80" font-size="7.40" text-anchor="middle">10<tspan dy="-2.7" font-size="5.18">2</tspan></text>
<text x="488.06" y="260.80" font-size="7.40" text-anchor="middle">10<tspan dy="-2.7" font-size="5.18">4</tspan></text>
<text x="450.31" y="270.9" font-size="7.75" text-anchor="middle">GDP (Million Dollars)</text>
<clipPath id="cb4"><rect x="519.08" y="144.70" width="106.70" height="104.20"/></clipPath>
<g clip-path="url(#cb4)">
<g fill="none" stroke-linecap="round" stroke-width="2.10" filter="url(#bl)"><path d="M546.5 245.1h0M574.8 245.3h0M555.5 240.5h0M551.5 240.0h0M535.3 246.6h0M557.5 241.9h0M549.1 240.8h0M603.4 245.6h0M549.4 238.6h0M593.1 245.2h0M575.9 245.5h0M554.8 237.2h0M533.2 248.2h0M547.8 247.3h0M533.4 244.4h0M531.6 245.6h0M541.9 246.1h0M558.5 248.0h0M553.0 232.0h0M541.0 243.4h0M551.8 240.0h0M586.4 227.4h0M555.2 241.9h0M547.8 240.3h0M551.5 243.0h0M575.8 247.9h0M553.6 238.0h0M550.6 246.9h0M569.9 244.3h0M521.9 248.1h0M549.2 242.4h0M563.7 244.4h0" stroke="#3f4889"/><path d="M522.0 247.3h0M589.8 240.2h0M556.6 243.5h0M602.4 242.9h0M605.3 234.8h0M562.9 244.4h0M541.3 244.5h0M548.8 245.8h0M562.4 243.5h0M550.9 247.2h0M600.1 243.3h0M568.3 243.7h0M546.4 243.0h0M541.7 248.0h0M590.5 244.7h0" stroke="#34608d"/><path d="M601.6 230.0h0M604.9 233.9h0M584.0 244.8h0M583.3 245.9h0M587.9 248.0h0M585.6 246.8h0M577.8 243.8h0M595.6 243.2h0M595.3 244.2h0M590.3 247.6h0" stroke="#2f6c8e"/><path d="M571.1 248.0h0M593.1 246.8h0M607.3 245.1h0M556.9 243.6h0M597.3 243.6h0M556.5 248.0h0" stroke="#228b8d"/><path d="M590.7 245.1h0M590.2 245.1h0M603.7 243.5h0M586.3 245.8h0M588.5 244.4h0M595.3 245.6h0M600.0 235.1h0M589.7 246.4h0" stroke="#26818e"/><path d="M559.1 245.0h0M554.4 247.4h0M574.5 244.7h0M566.6 247.5h0M556.2 247.0h0M534.1 248.1h0M554.6 241.4h0M571.6 246.0h0M542.3 247.4h0M553.3 245.8h0M558.9 246.3h0M539.0 245.3h0M540.3 246.0h0M542.0 244.6h0M547.7 244.7h0M567.9 246.1h0M568.0 246.5h0M573.1 245.8h0M555.6 247.7h0M534.6 248.2h0" stroke="#3a548c"/><path d="M567.9 243.6h0M548.9 237.3h0M599.6 238.9h0M599.2 248.3h0M605.1 244.9h0M550.1 240.6h0" stroke="#1f958b"/><path d="M565.1 244.4h0M552.1 245.1h0M576.3 246.5h0M569.2 247.3h0M530.9 247.3h0M571.5 248.0h0M560.8 245.3h0M549.1 246.8h0M545.5 246.4h0M549.7 242.8h0M549.6 241.8h0M539.6 245.9h0M553.1 237.2h0M565.3 248.3h0M567.9 246.6h0M525.5 247.6h0" stroke="#443b84"/><path d="M606.9 245.0h0" stroke="#58c765"/><path d="M593.4 241.7h0M550.9 240.4h0M600.6 238.7h0M553.6 238.6h0" stroke="#2a768e"/><path d="M600.6 248.1h0M588.6 246.8h0" stroke="#42be71"/><path d="M601.7 247.6h0" stroke="#70cf57"/><path d="M585.7 246.4h0M579.9 245.8h0" stroke="#1fa088"/><path d="M586.2 242.3h0M588.1 246.6h0M599.0 246.8h0M584.9 242.3h0M583.0 245.3h0M547.9 241.0h0M558.6 246.1h0" stroke="#228b8d"/><path d="M567.0 247.0h0M554.9 239.3h0M586.9 246.2h0M542.7 245.8h0M543.6 247.2h0M576.3 245.2h0M542.4 246.6h0M557.6 244.8h0M551.9 247.1h0M548.2 241.4h0M584.8 245.6h0M553.4 245.4h0M599.0 243.0h0M550.5 240.9h0M532.2 246.2h0M526.4 247.0h0" stroke="#3a548c"/><path d="M595.7 246.5h0M598.6 240.2h0M602.4 248.3h0M529.1 247.0h0M573.8 246.2h0M589.0 242.5h0M602.2 240.5h0M606.8 246.2h0" stroke="#2f6c8e"/><path d="M540.3 245.0h0M552.9 247.8h0M556.4 240.7h0M549.8 243.9h0M559.2 247.7h0M552.0 245.4h0M569.0 246.4h0M559.6 247.0h0M548.8 243.1h0M557.3 245.5h0M523.1 246.1h0M565.5 244.9h0M557.8 247.9h0M557.6 248.2h0M574.8 246.6h0M562.6 247.3h0M564.9 243.7h0M529.9 246.8h0M580.9 245.1h0" stroke="#3f4889"/><path d="M606.9 248.1h0M583.0 245.7h0M530.0 246.3h0M606.6 246.2h0M601.6 246.2h0" stroke="#fde725"/><path d="M547.9 243.5h0M601.0 247.2h0M584.2 247.9h0" stroke="#70cf57"/><path d="M599.0 243.2h0M596.1 237.3h0M525.6 247.8h0M592.8 242.5h0M583.9 245.2h0M598.9 243.7h0" stroke="#26818e"/><path d="M595.7 243.2h0M606.7 243.3h0M589.7 246.5h0M596.0 234.0h0M603.8 241.5h0M588.1 243.0h0M566.3 248.1h0M550.3 242.8h0M545.7 244.6h0M597.6 244.6h0" stroke="#2a768e"/><path d="M594.0 246.0h0M551.1 236.9h0" stroke="#58c765"/><path d="M599.9 245.3h0M545.8 243.3h0M569.7 244.5h0M544.8 244.4h0M547.0 230.5h0M552.4 246.1h0M526.8 247.1h0M566.8 247.2h0M540.0 242.6h0M540.3 247.0h0M533.8 246.5h0M567.8 246.8h0M526.8 245.3h0M580.3 246.4h0M552.3 243.0h0M539.5 238.0h0M548.7 237.3h0M549.4 240.6h0M556.9 243.1h0M567.3 245.6h0M523.5 248.0h0M525.7 245.9h0" stroke="#443b84"/><path d="M559.6 244.1h0M597.6 243.7h0M606.0 245.3h0M604.9 244.8h0M586.4 246.9h0M604.0 248.3h0M552.7 244.9h0" stroke="#1f958b"/><path d="M550.4 239.6h0M553.5 247.4h0M546.4 239.5h0M597.3 247.2h0M550.9 241.9h0M539.8 243.2h0M553.9 246.7h0M579.1 248.2h0M569.1 245.8h0M576.6 247.7h0M548.3 242.2h0M545.7 240.7h0M549.5 239.3h0" stroke="#34608d"/><path d="M587.1 245.8h0M589.2 247.5h0" stroke="#2fb47c"/><path d="M543.4 246.9h0M594.9 246.4h0" stroke="#24aa83"/><path d="M606.4 246.6h0" stroke="#1fa088"/><path d="M576.3 246.3h0M553.1 239.3h0M592.2 241.5h0M523.8 247.4h0M556.0 239.5h0M576.7 245.7h0M559.5 244.4h0M550.4 244.0h0M554.8 237.4h0M569.9 247.1h0M535.7 247.6h0M604.5 241.8h0M572.8 247.9h0M576.7 247.3h0M548.2 247.3h0M573.8 247.9h0M543.9 240.2h0M543.8 247.4h0" stroke="#3a548c"/><path d="M599.2 242.4h0M559.2 245.1h0M544.3 247.9h0M525.5 248.2h0M602.8 245.5h0M560.4 244.3h0M552.4 234.6h0M539.7 243.3h0M537.1 246.8h0M559.4 243.5h0M525.1 245.9h0M542.5 243.0h0M535.2 247.4h0M557.1 238.4h0M542.3 244.6h0M564.7 247.3h0M549.7 247.7h0M525.5 247.4h0M568.3 244.8h0M525.7 247.6h0M558.8 242.9h0M551.9 243.6h0M533.3 248.2h0" stroke="#3f4889"/><path d="M599.6 246.2h0M584.1 247.9h0M550.4 244.3h0M599.7 247.8h0M585.5 246.6h0" stroke="#fde725"/><path d="M535.9 247.7h0M551.2 246.3h0M560.9 245.0h0M551.9 244.0h0M541.1 243.9h0M554.4 243.1h0M590.9 248.1h0M538.5 247.5h0M555.6 240.1h0M539.1 247.7h0M567.3 243.5h0M548.1 239.8h0M560.9 247.3h0M527.3 245.9h0M551.3 240.8h0M535.6 248.3h0M600.8 243.6h0" stroke="#34608d"/><path d="M577.0 245.4h0M565.0 247.3h0M548.6 244.3h0M569.7 248.3h0M558.7 245.3h0M562.8 247.0h0M550.9 238.7h0M535.5 246.3h0M551.7 239.6h0M539.6 245.9h0M546.5 241.8h0M573.1 245.2h0M538.7 242.8h0M561.0 243.8h0M546.5 244.5h0M574.6 245.9h0" stroke="#443b84"/><path d="M605.7 241.6h0M601.5 247.0h0M596.7 243.8h0M578.3 246.7h0M605.7 242.7h0M586.1 243.1h0M600.7 247.8h0M600.4 244.7h0" stroke="#26818e"/><path d="M604.9 247.6h0" stroke="#2fb47c"/><path d="M590.7 245.4h0M595.9 243.4h0M560.5 245.2h0M598.5 241.1h0M606.5 245.4h0M546.6 238.6h0M599.7 246.4h0M593.5 247.1h0M566.1 247.8h0M580.5 245.5h0" stroke="#2f6c8e"/><path d="M599.1 243.8h0M589.7 242.2h0M540.5 245.9h0M603.7 248.3h0M561.1 245.1h0M550.4 236.9h0M594.6 244.5h0M581.2 248.2h0" stroke="#1f958b"/><path d="M600.2 247.0h0M557.6 241.1h0" stroke="#70cf57"/><path d="M570.2 246.5h0M603.0 241.4h0M595.1 247.9h0M538.2 248.2h0M592.4 245.0h0M597.2 244.7h0M580.1 246.5h0" stroke="#2a768e"/><path d="M590.6 237.2h0M585.4 243.8h0M598.5 246.6h0M603.1 243.8h0M569.7 246.4h0M565.4 244.4h0" stroke="#228b8d"/><path d="M582.1 242.1h0" stroke="#24aa83"/><path d="M550.3 240.2h0" stroke="#42be71"/><path d="M536.3 247.7h0M532.1 246.5h0M600.5 241.2h0M544.4 244.3h0M583.6 244.1h0M562.5 246.0h0M531.9 246.3h0M567.4 246.6h0M540.3 242.8h0M570.6 247.2h0M571.8 247.3h0M579.2 245.5h0M549.5 234.1h0M528.8 245.0h0M534.9 247.6h0M582.7 244.4h0M562.7 245.7h0M542.9 246.1h0M551.9 247.9h0M569.2 245.4h0M558.0 239.5h0M523.2 246.6h0" stroke="#3a548c"/><path d="M608.0 245.1h0M591.5 236.0h0M601.1 242.2h0M546.3 247.2h0M596.1 246.6h0M554.8 244.1h0M590.3 245.8h0M604.0 247.6h0" stroke="#2f6c8e"/><path d="M533.2 245.9h0M552.4 238.8h0M550.3 243.2h0M565.8 245.1h0M561.2 242.5h0M556.6 224.6h0M547.9 243.4h0M551.5 248.2h0M552.2 236.6h0M546.3 247.0h0M548.2 243.5h0M548.5 245.0h0M555.0 247.4h0" stroke="#443b84"/><path d="M590.1 240.3h0M601.3 246.8h0M597.5 245.2h0M595.9 246.5h0M563.9 244.5h0M597.3 234.4h0M585.6 246.0h0M528.0 245.0h0M568.0 246.3h0M547.0 246.7h0M596.0 243.1h0" stroke="#228b8d"/><path d="M602.3 243.5h0M587.9 243.8h0M599.2 243.6h0M583.9 244.6h0M537.4 247.8h0M589.2 244.4h0M592.4 244.3h0M541.8 242.8h0M589.4 246.1h0M597.4 242.3h0M564.6 245.0h0M558.1 244.5h0M549.5 248.1h0M599.4 244.5h0" stroke="#2a768e"/><path d="M592.3 244.3h0M551.2 235.6h0M584.9 243.4h0M587.9 248.3h0M589.4 244.9h0M589.3 247.0h0M546.2 243.0h0M607.4 246.5h0M597.4 247.7h0M599.9 244.5h0" stroke="#1f958b"/><path d="M538.0 246.0h0M549.5 234.7h0M571.8 246.2h0M606.3 242.9h0M586.3 246.7h0M601.4 240.7h0M566.7 247.2h0M542.3 244.5h0M593.8 244.9h0M543.4 245.9h0M530.3 247.9h0" stroke="#34608d"/><path d="M583.1 246.1h0" stroke="#2fb47c"/><path d="M523.3 248.0h0M607.5 247.2h0M525.0 245.9h0M599.4 244.6h0M579.0 246.8h0M598.6 238.8h0M601.1 242.8h0" stroke="#26818e"/><path d="M529.7 246.0h0M561.0 246.3h0M529.7 247.2h0M537.8 247.2h0M554.2 239.8h0M536.3 246.1h0M538.0 246.7h0M551.3 238.4h0M547.1 245.3h0M552.4 236.1h0M525.1 247.0h0M549.7 232.0h0M550.2 241.0h0M560.5 239.8h0M553.8 246.6h0M532.9 247.7h0M569.9 245.7h0M549.4 239.8h0M545.7 247.0h0M554.0 242.7h0M552.4 239.2h0" stroke="#3f4889"/><path d="M545.5 243.8h0M595.2 246.8h0M593.5 247.7h0M591.2 247.0h0" stroke="#fde725"/><path d="M588.6 245.6h0" stroke="#70cf57"/></g>
</g>
<rect x="519.08" y="144.70" width="106.70" height="104.20" fill="none" stroke="#606060" stroke-width="1.3"/>
<text x="523.78" y="260.80" font-size="7.40" text-anchor="middle">10<tspan dy="-2.7" font-size="5.18">−2</tspan></text>
<text x="552.88" y="260.80" font-size="7.40" text-anchor="middle">10<tspan dy="-2.7" font-size="5.18">0</tspan></text>
<text x="581.98" y="260.80" font-size="7.40" text-anchor="middle">10<tspan dy="-2.7" font-size="5.18">2</tspan></text>
<text x="611.08" y="260.80" font-size="7.40" text-anchor="middle">10<tspan dy="-2.7" font-size="5.18">4</tspan></text>
<text x="572.43" y="270.9" font-size="7.75" text-anchor="middle">GDP (Million Dollars)</text>
<text x="23.8" y="251.30" font-size="7.40" text-anchor="end">0.0</text>
<text x="23.8" y="232.80" font-size="7.40" text-anchor="end">0.5</text>
<text x="23.8" y="214.30" font-size="7.40" text-anchor="end">1.0</text>
<text x="23.8" y="195.80" font-size="7.40" text-anchor="end">1.5</text>
<text x="23.8" y="177.30" font-size="7.40" text-anchor="end">2.0</text>
<text x="23.8" y="158.80" font-size="7.40" text-anchor="end">2.5</text>
<text x="30.4" y="142.9" font-size="7.40">1e7</text>
<rect x="33.8" y="148.3" width="65.7" height="19.9" rx="1.2" fill="#fff" fill-opacity="0.8" stroke="#d4d4d4" stroke-width="0.7"/>
<circle cx="42.6" cy="153.7" r="1.0" fill="#2db27d"/>
<text x="54.2" y="155.6" font-size="6.5" class="s">Grid-level data</text>
<path d="M36 162.2h13.3" stroke="#c44e52" stroke-width="1.3"/>
<text x="54.2" y="164.6" font-size="6.5" class="s">Upper Envelope</text>
<text x="31.20" y="17.9" font-size="8.9" class="b">(a)</text>
<text x="31.20" y="152.7" font-size="8.9" class="b">(f)</text>
<text x="153.32" y="17.9" font-size="8.9" class="b">(b)</text>
<text x="153.32" y="152.7" font-size="8.9" class="b">(g)</text>
<text x="275.44" y="17.9" font-size="8.9" class="b">(c)</text>
<text x="275.44" y="152.7" font-size="8.9" class="b">(h)</text>
<text x="397.56" y="17.9" font-size="8.9" class="b">(d)</text>
<text x="397.56" y="152.7" font-size="8.9" class="b">(i)</text>
<text x="519.68" y="17.9" font-size="8.9" class="b">(e)</text>
<text x="519.68" y="152.7" font-size="8.9" class="b">(j)</text>
<text transform="translate(7.9 62.12) rotate(-90)" font-size="7.7" text-anchor="middle">Vpc (m<tspan dy="-2.6" font-size="5.4">3</tspan><tspan dy="2.6" font-size="7.7">)</tspan></text>
<text transform="translate(7.9 196.80) rotate(-90)" font-size="7.7" text-anchor="middle">Vpc (m<tspan dy="-2.6" font-size="5.4">3</tspan><tspan dy="2.6" font-size="7.7">)</tspan></text>
<defs><linearGradient id="vg" x1="0" y1="0" x2="0" y2="1"><stop offset="0.0000" stop-color="#fde725"/><stop offset="0.0417" stop-color="#e5e419"/><stop offset="0.0833" stop-color="#c8e020"/><stop offset="0.1250" stop-color="#addc30"/><stop offset="0.1667" stop-color="#90d743"/><stop offset="0.2083" stop-color="#75d054"/><stop offset="0.2500" stop-color="#5ec962"/><stop offset="0.2917" stop-color="#48c16e"/><stop offset="0.3333" stop-color="#35b779"/><stop offset="0.3750" stop-color="#28ae80"/><stop offset="0.4167" stop-color="#20a486"/><stop offset="0.4583" stop-color="#1f9a8a"/><stop offset="0.5000" stop-color="#21918c"/><stop offset="0.5417" stop-color="#24868e"/><stop offset="0.5833" stop-color="#287c8e"/><stop offset="0.6250" stop-color="#2c728e"/><stop offset="0.6667" stop-color="#31688e"/><stop offset="0.7083" stop-color="#365d8d"/><stop offset="0.7500" stop-color="#3b528b"/><stop offset="0.7917" stop-color="#404688"/><stop offset="0.8333" stop-color="#443983"/><stop offset="0.8750" stop-color="#472d7b"/><stop offset="0.9167" stop-color="#481f70"/><stop offset="0.9583" stop-color="#471063"/><stop offset="1.0000" stop-color="#440154"/></linearGradient></defs>
<rect x="648.35" y="34.60" width="10.95" height="203.90" fill="url(#vg)" stroke="#333" stroke-width="0.8"/>
<path d="M659.30 207.90h3.8" stroke="#333" stroke-width="0.9"/>
<text x="665.70" y="210.80" font-size="7.40">0</text>
<path d="M659.30 164.57h3.8" stroke="#333" stroke-width="0.9"/>
<text x="665.70" y="167.47" font-size="7.40">20</text>
<path d="M659.30 121.25h3.8" stroke="#333" stroke-width="0.9"/>
<text x="665.70" y="124.15" font-size="7.40">40</text>
<path d="M659.30 77.92h3.8" stroke="#333" stroke-width="0.9"/>
<text x="665.70" y="80.82" font-size="7.40">60</text>
<path d="M659.30 34.60h3.8" stroke="#333" stroke-width="0.9"/>
<text x="665.70" y="37.50" font-size="7.40">80</text>
<text transform="translate(679.1 136.6) rotate(90)" font-size="7.6" text-anchor="middle">Elevation (m)</text>
</svg>
</body></html>
